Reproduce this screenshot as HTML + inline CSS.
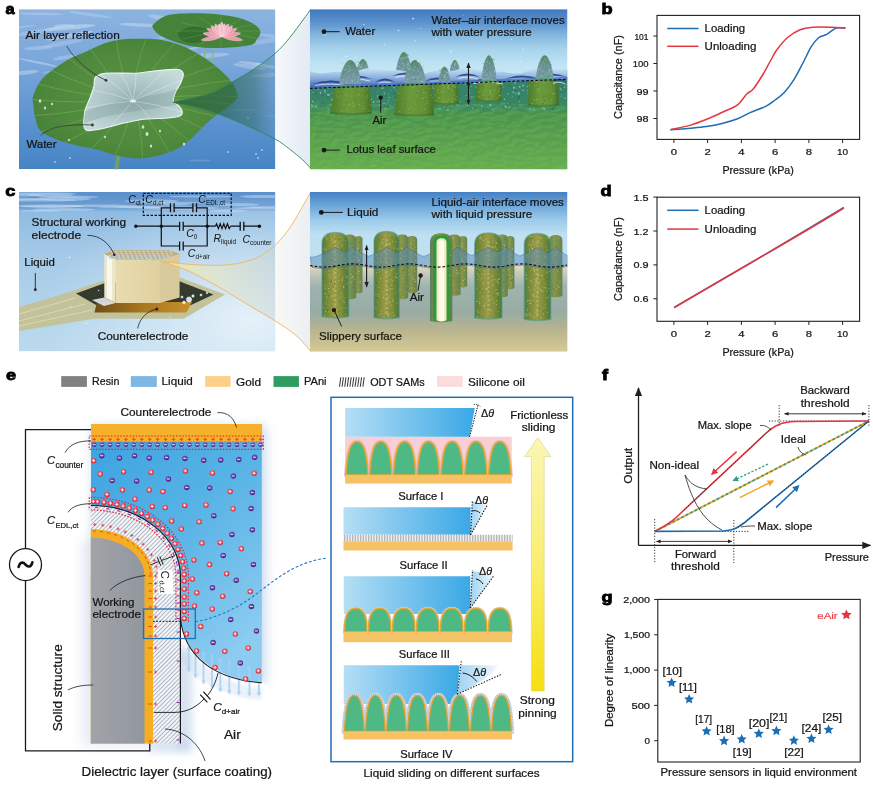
<!DOCTYPE html>
<html><head><meta charset="utf-8"><title>Figure</title>
<style>html,body{margin:0;padding:0;background:#fff;overflow:hidden}svg{display:block}</style>
</head><body>
<svg width="873" height="786" viewBox="0 0 873 786" font-family="Liberation Sans, sans-serif">
<defs>
<clipPath id="clipA"><rect x="19" y="9.2" width="256.4" height="160"/></clipPath>
<clipPath id="clipGapA"><rect x="275.4" y="5" width="34.7" height="170"/></clipPath>
<clipPath id="clipA2"><rect x="310" y="9.2" width="257.5" height="160"/></clipPath>
<clipPath id="clipC"><rect x="19" y="192" width="256.4" height="159.4"/></clipPath>
<clipPath id="clipGapC"><rect x="275.4" y="188" width="34.7" height="170"/></clipPath>
<clipPath id="clipC2"><rect x="310" y="192" width="257.5" height="159.4"/></clipPath>
<linearGradient id="waterA" x1="0" y1="0" x2="0" y2="1">
 <stop offset="0" stop-color="#8db3e0"/><stop offset="0.35" stop-color="#79a6da"/><stop offset="0.7" stop-color="#5b92cf"/><stop offset="1" stop-color="#4784c4"/>
</linearGradient>
<radialGradient id="padA" cx="0.5" cy="0.5" r="0.62">
 <stop offset="0" stop-color="#5a9545"/><stop offset="0.6" stop-color="#4f8a3d"/><stop offset="1" stop-color="#447e36"/>
</radialGradient>
<radialGradient id="airA" cx="0.5" cy="0.52" r="0.6">
 <stop offset="0" stop-color="#92aeae"/><stop offset="0.45" stop-color="#acc4c4"/><stop offset="1" stop-color="#c6dadb"/>
</radialGradient>
<linearGradient id="coneA" gradientUnits="userSpaceOnUse" x1="172" y1="0" x2="276" y2="0">
 <stop offset="0" stop-color="#1f5230" stop-opacity="0.6"/><stop offset="0.55" stop-color="#2a6450" stop-opacity="0.6"/><stop offset="0.8" stop-color="#3a7068" stop-opacity="0.5"/><stop offset="1" stop-color="#6a9ac4" stop-opacity="0.35"/>
</linearGradient>
<linearGradient id="coneGap" gradientUnits="userSpaceOnUse" x1="275" y1="0" x2="311" y2="0">
 <stop offset="0" stop-color="#f6f8fb"/><stop offset="1" stop-color="#e2eaf4"/>
</linearGradient>
<linearGradient id="coneGapC" gradientUnits="userSpaceOnUse" x1="275" y1="0" x2="311" y2="0">
 <stop offset="0" stop-color="#f8f8f6"/><stop offset="1" stop-color="#eceef2"/>
</linearGradient>
<filter id="noise" x="0" y="0" width="100%" height="100%">
 <feTurbulence type="fractalNoise" baseFrequency="0.9" numOctaves="2" seed="3"/>
 <feColorMatrix values="0 0 0 0 0  0 0 0 0 0  0 0 0 0 0  0 0 0 -1.6 0.95"/>
</filter>
<filter id="noiseL" x="0" y="0" width="100%" height="100%">
 <feTurbulence type="fractalNoise" baseFrequency="0.9" numOctaves="2" seed="5"/>
 <feColorMatrix values="0 0 0 0 1  0 0 0 0 1  0 0 0 0 1  0 0 0 -1.8 1.0"/>
</filter>
</defs>
<g clip-path="url(#clipA)">
<rect x="19" y="9.2" width="256.4" height="160" fill="url(#waterA)"/>
<ellipse cx="132.6" cy="46.4" rx="24.8" ry="1.7" transform="rotate(0 132.6 46.4)" fill="#c4daf2" opacity="0.43"/>
<ellipse cx="63.0" cy="43.3" rx="20.1" ry="2.3" transform="rotate(-10 63.0 43.3)" fill="#c4daf2" opacity="0.34"/>
<ellipse cx="38.6" cy="62.6" rx="21.1" ry="1.1" transform="rotate(12 38.6 62.6)" fill="#c4daf2" opacity="0.54"/>
<ellipse cx="185.0" cy="50.0" rx="12.5" ry="1.0" transform="rotate(1 185.0 50.0)" fill="#c4daf2" opacity="0.27"/>
<ellipse cx="64.5" cy="25.7" rx="10.5" ry="1.7" transform="rotate(-1 64.5 25.7)" fill="#c4daf2" opacity="0.50"/>
<ellipse cx="150.0" cy="51.6" rx="18.0" ry="2.1" transform="rotate(-1 150.0 51.6)" fill="#c4daf2" opacity="0.33"/>
<ellipse cx="274.4" cy="74.7" rx="23.4" ry="2.1" transform="rotate(-4 274.4 74.7)" fill="#c4daf2" opacity="0.32"/>
<ellipse cx="90.2" cy="14.6" rx="22.3" ry="1.6" transform="rotate(8 90.2 14.6)" fill="#c4daf2" opacity="0.37"/>
<ellipse cx="264.1" cy="65.1" rx="10.0" ry="1.3" transform="rotate(10 264.1 65.1)" fill="#c4daf2" opacity="0.39"/>
<ellipse cx="269.9" cy="35.8" rx="11.2" ry="2.0" transform="rotate(7 269.9 35.8)" fill="#c4daf2" opacity="0.33"/>
<ellipse cx="37.7" cy="31.6" rx="25.4" ry="2.2" transform="rotate(-9 37.7 31.6)" fill="#c4daf2" opacity="0.32"/>
<ellipse cx="41.3" cy="13.9" rx="22.8" ry="1.3" transform="rotate(1 41.3 13.9)" fill="#c4daf2" opacity="0.38"/>
<ellipse cx="64.6" cy="57.6" rx="12.1" ry="2.0" transform="rotate(-9 64.6 57.6)" fill="#c4daf2" opacity="0.38"/>
<ellipse cx="70.3" cy="27.5" rx="25.5" ry="2.3" transform="rotate(-5 70.3 27.5)" fill="#c4daf2" opacity="0.52"/>
<ellipse cx="69.8" cy="35.6" rx="23.7" ry="2.0" transform="rotate(-10 69.8 35.6)" fill="#c4daf2" opacity="0.55"/>
<ellipse cx="70.4" cy="26.8" rx="22.4" ry="1.5" transform="rotate(-5 70.4 26.8)" fill="#c4daf2" opacity="0.27"/>
<ellipse cx="38.4" cy="47.9" rx="13.9" ry="2.0" transform="rotate(-3 38.4 47.9)" fill="#c4daf2" opacity="0.39"/>
<ellipse cx="264.4" cy="41.4" rx="19.2" ry="2.4" transform="rotate(-8 264.4 41.4)" fill="#c4daf2" opacity="0.30"/>
<ellipse cx="251.2" cy="63.2" rx="14.0" ry="1.3" transform="rotate(6 251.2 63.2)" fill="#c4daf2" opacity="0.53"/>
<ellipse cx="66.1" cy="71.8" rx="24.1" ry="2.0" transform="rotate(-2 66.1 71.8)" fill="#c4daf2" opacity="0.28"/>
<ellipse cx="25.1" cy="72.6" rx="13.8" ry="2.1" transform="rotate(-6 25.1 72.6)" fill="#c4daf2" opacity="0.50"/>
<ellipse cx="170.1" cy="29.1" rx="12.8" ry="2.2" transform="rotate(-10 170.1 29.1)" fill="#c4daf2" opacity="0.32"/>
<ellipse cx="160.4" cy="65.4" rx="19.8" ry="1.4" transform="rotate(10 160.4 65.4)" fill="#c4daf2" opacity="0.31"/>
<ellipse cx="19.3" cy="27.5" rx="17.1" ry="1.1" transform="rotate(-8 19.3 27.5)" fill="#c4daf2" opacity="0.36"/>
<ellipse cx="163.8" cy="18.6" rx="15.8" ry="2.4" transform="rotate(12 163.8 18.6)" fill="#c4daf2" opacity="0.45"/>
<ellipse cx="194.7" cy="48.0" rx="12.2" ry="1.1" transform="rotate(-12 194.7 48.0)" fill="#c4daf2" opacity="0.52"/>
<ellipse cx="197.3" cy="72.6" rx="10.3" ry="2.0" transform="rotate(-0 197.3 72.6)" fill="#c4daf2" opacity="0.47"/>
<ellipse cx="97.9" cy="75.0" rx="11.2" ry="1.9" transform="rotate(6 97.9 75.0)" fill="#c4daf2" opacity="0.52"/>
<ellipse cx="206.6" cy="55.7" rx="22.7" ry="2.5" transform="rotate(-4 206.6 55.7)" fill="#c4daf2" opacity="0.46"/>
<ellipse cx="249.2" cy="66.6" rx="16.7" ry="2.3" transform="rotate(9 249.2 66.6)" fill="#c4daf2" opacity="0.42"/>
<ellipse cx="177.5" cy="34.9" rx="19.3" ry="2.0" transform="rotate(-10 177.5 34.9)" fill="#c4daf2" opacity="0.44"/>
<ellipse cx="273.3" cy="67.2" rx="21.7" ry="1.6" transform="rotate(6 273.3 67.2)" fill="#c4daf2" opacity="0.42"/>
<ellipse cx="129.5" cy="64.5" rx="11.3" ry="2.2" transform="rotate(-11 129.5 64.5)" fill="#c4daf2" opacity="0.43"/>
<ellipse cx="140.0" cy="25.0" rx="21.2" ry="1.8" transform="rotate(3 140.0 25.0)" fill="#c4daf2" opacity="0.53"/>
<ellipse cx="81.5" cy="76.0" rx="11.0" ry="1.5" fill="#9cc0e6" opacity="0.3"/>
<ellipse cx="67.7" cy="90.3" rx="17.1" ry="1.5" fill="#9cc0e6" opacity="0.3"/>
<ellipse cx="129.9" cy="155.3" rx="11.3" ry="1.5" fill="#9cc0e6" opacity="0.3"/>
<ellipse cx="66.6" cy="113.8" rx="16.1" ry="1.7" fill="#9cc0e6" opacity="0.3"/>
<ellipse cx="243.9" cy="109.6" rx="13.8" ry="1.1" fill="#9cc0e6" opacity="0.3"/>
<ellipse cx="50.4" cy="119.7" rx="16.4" ry="1.6" fill="#9cc0e6" opacity="0.3"/>
<ellipse cx="199.9" cy="160.5" rx="10.8" ry="1.0" fill="#9cc0e6" opacity="0.3"/>
<ellipse cx="132.2" cy="99.8" rx="10.1" ry="1.2" fill="#9cc0e6" opacity="0.3"/>
<ellipse cx="177.7" cy="119.4" rx="11.2" ry="1.6" fill="#9cc0e6" opacity="0.3"/>
<ellipse cx="270.3" cy="115.7" rx="8.7" ry="0.8" fill="#9cc0e6" opacity="0.3"/>
<path d="M117,152 C116,160 115,165 114,170 L118,170 C119,165 120,160 121,152z" fill="#6f9f68"/>
<path d="M205.5,44 C205,52 204.5,58 204,64 M215.5,40 C214,48 212.5,56 211.5,64" stroke="#86b886" stroke-width="1.5" fill="none"/>
<path d="M152.5,27.0 C151.9,25.3 152.6,25.3 154.3,23.6 C156.1,21.9 159.4,18.6 163.0,17.0 C166.6,15.4 168.4,14.5 175.8,13.9 C183.2,13.3 197.3,13.1 207.3,13.6 C217.3,14.1 228.6,15.6 236.0,17.2 C243.4,18.8 247.9,20.7 252.0,23.0 C256.1,25.3 259.5,28.1 260.3,30.8 C261.1,33.5 258.7,36.6 257.0,39.0 C255.3,41.4 256.2,43.6 250.3,45.1 C244.4,46.6 231.2,47.8 221.6,48.0 C212.0,48.2 201.6,47.8 193.0,46.5 C184.4,45.2 175.8,42.1 170.0,40.0 C164.2,37.9 160.9,36.2 158.0,34.0 C155.1,31.8 153.1,28.7 152.5,27.0Z" fill="#45833a"/>
<path d="M178,33 C188,24 205,25 215,31 C210,42 195,45 185,42 C180,40 178,37 178,33z" fill="#2c6226" opacity="0.6"/>
<line x1="221" y1="31" x2="266.0" y2="31.0" stroke="#8cc070" stroke-width="0.5" opacity="0.5"/>
<line x1="221" y1="31" x2="260.0" y2="39.0" stroke="#8cc070" stroke-width="0.5" opacity="0.5"/>
<line x1="221" y1="31" x2="243.5" y2="44.9" stroke="#8cc070" stroke-width="0.5" opacity="0.5"/>
<line x1="221" y1="31" x2="221.0" y2="47.0" stroke="#8cc070" stroke-width="0.5" opacity="0.5"/>
<line x1="221" y1="31" x2="198.5" y2="44.9" stroke="#8cc070" stroke-width="0.5" opacity="0.5"/>
<line x1="221" y1="31" x2="182.0" y2="39.0" stroke="#8cc070" stroke-width="0.5" opacity="0.5"/>
<line x1="221" y1="31" x2="176.0" y2="31.0" stroke="#8cc070" stroke-width="0.5" opacity="0.5"/>
<line x1="221" y1="31" x2="182.0" y2="23.0" stroke="#8cc070" stroke-width="0.5" opacity="0.5"/>
<line x1="221" y1="31" x2="198.5" y2="17.1" stroke="#8cc070" stroke-width="0.5" opacity="0.5"/>
<line x1="221" y1="31" x2="221.0" y2="15.0" stroke="#8cc070" stroke-width="0.5" opacity="0.5"/>
<line x1="221" y1="31" x2="243.5" y2="17.1" stroke="#8cc070" stroke-width="0.5" opacity="0.5"/>
<line x1="221" y1="31" x2="260.0" y2="23.0" stroke="#8cc070" stroke-width="0.5" opacity="0.5"/>
<path d="M221.8,36.5 C214.0,34.6 203.9,37.7 201.1,40.1 C204.6,41.5 215.1,40.9 221.8,36.5z" fill="#ee9aac" stroke="#f9d2da" stroke-width="0.5"/>
<path d="M221.8,36.5 C228.5,40.9 239.0,41.5 242.5,40.1 C239.7,37.7 229.6,34.6 221.8,36.5z" fill="#ee9aac" stroke="#f9d2da" stroke-width="0.5"/>
<path d="M221.8,36.5 C215.8,32.0 206.2,31.7 203.1,33.2 C205.5,35.7 214.7,38.7 221.8,36.5z" fill="#ee9aac" stroke="#f9d2da" stroke-width="0.5"/>
<path d="M221.8,36.5 C228.9,38.7 238.1,35.7 240.5,33.2 C237.4,31.7 227.8,32.0 221.8,36.5z" fill="#ee9aac" stroke="#f9d2da" stroke-width="0.5"/>
<path d="M221.8,36.5 C218.2,30.5 210.1,27.8 206.8,28.5 C208.0,31.6 214.9,36.9 221.8,36.5z" fill="#ee9aac" stroke="#f9d2da" stroke-width="0.5"/>
<path d="M221.8,36.5 C228.7,36.9 235.6,31.6 236.8,28.5 C233.5,27.8 225.4,30.5 221.8,36.5z" fill="#ee9aac" stroke="#f9d2da" stroke-width="0.5"/>
<path d="M221.8,36.5 C220.8,30.1 214.4,25.9 211.2,25.9 C211.2,29.1 215.4,35.5 221.8,36.5z" fill="#f4aebe" stroke="#fbdce2" stroke-width="0.5"/>
<path d="M221.8,36.5 C228.2,35.5 232.4,29.1 232.4,25.9 C229.2,25.9 222.8,30.1 221.8,36.5z" fill="#f4aebe" stroke="#fbdce2" stroke-width="0.5"/>
<path d="M221.8,36.5 C222.7,30.5 218.1,25.0 215.2,24.1 C214.3,27.0 216.3,33.9 221.8,36.5z" fill="#f4aebe" stroke="#fbdce2" stroke-width="0.5"/>
<path d="M221.8,36.5 C227.3,33.9 229.3,27.0 228.4,24.1 C225.5,25.0 220.9,30.5 221.8,36.5z" fill="#f4aebe" stroke="#fbdce2" stroke-width="0.5"/>
<ellipse cx="221.8" cy="29.5" rx="4.2" ry="2.2" fill="#a8d088"/>
<path d="M221.8,36.5 C224.0,31.4 221.4,25.3 219.1,23.8 C217.6,26.1 217.7,32.7 221.8,36.5z" fill="#f6bccb" stroke="#fde4ea" stroke-width="0.5"/>
<path d="M221.8,36.5 C225.9,32.7 226.0,26.1 224.5,23.8 C222.2,25.3 219.6,31.4 221.8,36.5z" fill="#f6bccb" stroke="#fde4ea" stroke-width="0.5"/>
<path d="M221.8,36.5 C224.8,31.4 223.6,24.2 221.8,22.0 C220.0,24.2 218.8,31.4 221.8,36.5z" fill="#f6bccb" stroke="#fde4ea" stroke-width="0.5"/>
<path d="M33.2,96.1 C34.8,91.4 37.4,84.0 43.0,78.0 C48.6,72.0 59.9,64.7 67.1,60.3 C74.3,55.9 80.2,54.3 86.4,51.5 C92.6,48.7 98.1,45.5 104.0,43.5 C109.9,41.5 115.4,40.3 121.6,39.5 C127.8,38.7 134.7,38.7 140.9,38.7 C147.1,38.7 152.5,38.5 159.0,39.5 C165.5,40.5 173.2,42.4 180.0,45.0 C186.8,47.6 193.7,51.2 200.0,55.0 C206.3,58.8 212.7,63.4 218.0,68.0 C223.3,72.6 228.8,77.7 232.0,82.4 C235.2,87.1 237.5,92.4 237.5,96.0 C237.5,99.6 235.7,100.7 232.0,104.0 C228.3,107.3 220.1,112.4 215.4,116.0 C210.8,119.6 208.4,121.7 204.1,125.7 C199.8,129.7 195.0,135.7 189.7,140.0 C184.3,144.3 179.9,148.2 172.0,151.3 C164.1,154.4 151.7,157.6 142.5,158.3 C133.3,159.0 124.6,157.0 117.0,155.5 C109.4,154.0 103.6,151.2 97.0,149.5 C90.4,147.8 84.5,147.3 77.3,145.5 C70.1,143.7 60.2,141.1 54.0,138.5 C47.8,135.9 42.9,133.4 39.8,130.0 C36.7,126.6 36.2,122.0 35.2,118.0 C34.2,114.0 33.8,109.7 33.5,106.0 C33.2,102.3 31.6,100.8 33.2,96.1Z" fill="url(#padA)"/>
<clipPath id="padClip"><path d="M33.2,96.1 C34.8,91.4 37.4,84.0 43.0,78.0 C48.6,72.0 59.9,64.7 67.1,60.3 C74.3,55.9 80.2,54.3 86.4,51.5 C92.6,48.7 98.1,45.5 104.0,43.5 C109.9,41.5 115.4,40.3 121.6,39.5 C127.8,38.7 134.7,38.7 140.9,38.7 C147.1,38.7 152.5,38.5 159.0,39.5 C165.5,40.5 173.2,42.4 180.0,45.0 C186.8,47.6 193.7,51.2 200.0,55.0 C206.3,58.8 212.7,63.4 218.0,68.0 C223.3,72.6 228.8,77.7 232.0,82.4 C235.2,87.1 237.5,92.4 237.5,96.0 C237.5,99.6 235.7,100.7 232.0,104.0 C228.3,107.3 220.1,112.4 215.4,116.0 C210.8,119.6 208.4,121.7 204.1,125.7 C199.8,129.7 195.0,135.7 189.7,140.0 C184.3,144.3 179.9,148.2 172.0,151.3 C164.1,154.4 151.7,157.6 142.5,158.3 C133.3,159.0 124.6,157.0 117.0,155.5 C109.4,154.0 103.6,151.2 97.0,149.5 C90.4,147.8 84.5,147.3 77.3,145.5 C70.1,143.7 60.2,141.1 54.0,138.5 C47.8,135.9 42.9,133.4 39.8,130.0 C36.7,126.6 36.2,122.0 35.2,118.0 C34.2,114.0 33.8,109.7 33.5,106.0 C33.2,102.3 31.6,100.8 33.2,96.1Z"/></clipPath>
<g clip-path="url(#padClip)">
<path d="M133,100 Q187.2,97.7 240.6,105.4" stroke="#a8c870" stroke-width="0.7" fill="none" opacity="0.45"/>
<path d="M133,100 Q185.2,106.4 233.8,122.2" stroke="#a8c870" stroke-width="0.7" fill="none" opacity="0.45"/>
<path d="M133,100 Q179.1,114.7 219.3,137.3" stroke="#a8c870" stroke-width="0.7" fill="none" opacity="0.45"/>
<path d="M133,100 Q169.5,121.7 198.0,149.5" stroke="#a8c870" stroke-width="0.7" fill="none" opacity="0.45"/>
<path d="M133,100 Q157.0,127.1 171.7,157.9" stroke="#a8c870" stroke-width="0.7" fill="none" opacity="0.45"/>
<path d="M133,100 Q142.7,130.4 142.4,161.8" stroke="#a8c870" stroke-width="0.7" fill="none" opacity="0.45"/>
<path d="M133,100 Q127.6,131.4 112.4,160.9" stroke="#a8c870" stroke-width="0.7" fill="none" opacity="0.45"/>
<path d="M133,100 Q112.9,129.9 84.0,155.2" stroke="#a8c870" stroke-width="0.7" fill="none" opacity="0.45"/>
<path d="M133,100 Q99.8,126.1 59.3,145.3" stroke="#a8c870" stroke-width="0.7" fill="none" opacity="0.45"/>
<path d="M133,100 Q89.3,120.3 40.4,131.9" stroke="#a8c870" stroke-width="0.7" fill="none" opacity="0.45"/>
<path d="M133,100 Q82.1,112.9 28.7,116.0" stroke="#a8c870" stroke-width="0.7" fill="none" opacity="0.45"/>
<path d="M133,100 Q78.9,104.5 25.0,98.9" stroke="#a8c870" stroke-width="0.7" fill="none" opacity="0.45"/>
<path d="M133,100 Q79.9,95.7 29.7,81.9" stroke="#a8c870" stroke-width="0.7" fill="none" opacity="0.45"/>
<path d="M133,100 Q85.0,87.3 42.4,66.2" stroke="#a8c870" stroke-width="0.7" fill="none" opacity="0.45"/>
<path d="M133,100 Q93.8,79.9 62.1,53.2" stroke="#a8c870" stroke-width="0.7" fill="none" opacity="0.45"/>
<path d="M133,100 Q105.6,74.0 87.4,43.8" stroke="#a8c870" stroke-width="0.7" fill="none" opacity="0.45"/>
<path d="M133,100 Q119.6,70.2 116.1,38.8" stroke="#a8c870" stroke-width="0.7" fill="none" opacity="0.45"/>
<path d="M133,100 Q134.6,68.6 146.2,38.5" stroke="#a8c870" stroke-width="0.7" fill="none" opacity="0.45"/>
<path d="M133,100 Q149.5,69.5 175.2,42.9" stroke="#a8c870" stroke-width="0.7" fill="none" opacity="0.45"/>
<path d="M133,100 Q163.1,72.8 201.0,51.8" stroke="#a8c870" stroke-width="0.7" fill="none" opacity="0.45"/>
<path d="M133,100 Q174.4,78.1 221.5,64.4" stroke="#a8c870" stroke-width="0.7" fill="none" opacity="0.45"/>
<path d="M133,100 Q182.4,85.2 235.1,79.8" stroke="#a8c870" stroke-width="0.7" fill="none" opacity="0.45"/>
<path d="M133,100 Q186.7,93.4 240.9,96.8" stroke="#a8c870" stroke-width="0.7" fill="none" opacity="0.45"/>
</g>
<path d="M95.1,77.6 C96.4,76.0 100.3,73.7 105.2,73.2 C110.1,72.7 130.8,73.5 136.7,73.2 C142.6,72.9 150.7,71.1 155.6,70.7 C160.5,70.3 175.1,69.1 178.3,69.5 C181.5,69.9 183.0,72.4 183.3,73.9 C183.6,75.4 181.7,80.6 180.8,82.7 C179.9,84.8 176.6,89.3 175.7,91.5 C174.8,93.7 172.9,100.0 173.2,101.6 C173.5,103.2 177.3,104.4 178.3,105.4 C179.3,106.4 181.7,109.2 182.0,110.4 C182.3,111.6 182.4,114.6 180.8,115.5 C179.2,116.4 172.6,117.6 168.2,118.0 C163.8,118.4 148.1,118.6 143.0,119.2 C137.9,119.8 128.5,122.0 124.1,123.0 C119.7,124.0 109.5,127.1 105.2,128.0 C100.9,128.9 90.1,130.9 87.6,130.6 C85.1,130.3 84.1,127.9 83.8,125.5 C83.5,123.1 84.3,113.6 85.0,110.4 C85.7,107.2 89.1,100.6 90.1,97.8 C91.1,95.0 93.3,88.9 93.9,86.5 C94.5,84.1 93.8,79.2 95.1,77.6Z" fill="url(#airA)" stroke="#eef6f4" stroke-width="1.1"/>
<clipPath id="airClip"><path d="M95.1,77.6 C96.4,76.0 100.3,73.7 105.2,73.2 C110.1,72.7 130.8,73.5 136.7,73.2 C142.6,72.9 150.7,71.1 155.6,70.7 C160.5,70.3 175.1,69.1 178.3,69.5 C181.5,69.9 183.0,72.4 183.3,73.9 C183.6,75.4 181.7,80.6 180.8,82.7 C179.9,84.8 176.6,89.3 175.7,91.5 C174.8,93.7 172.9,100.0 173.2,101.6 C173.5,103.2 177.3,104.4 178.3,105.4 C179.3,106.4 181.7,109.2 182.0,110.4 C182.3,111.6 182.4,114.6 180.8,115.5 C179.2,116.4 172.6,117.6 168.2,118.0 C163.8,118.4 148.1,118.6 143.0,119.2 C137.9,119.8 128.5,122.0 124.1,123.0 C119.7,124.0 109.5,127.1 105.2,128.0 C100.9,128.9 90.1,130.9 87.6,130.6 C85.1,130.3 84.1,127.9 83.8,125.5 C83.5,123.1 84.3,113.6 85.0,110.4 C85.7,107.2 89.1,100.6 90.1,97.8 C91.1,95.0 93.3,88.9 93.9,86.5 C94.5,84.1 93.8,79.2 95.1,77.6Z"/></clipPath>
<g clip-path="url(#airClip)">
<path d="M84,112 C110,100 150,98 182,88 L182,104 C150,110 110,112 84,124z" fill="#7d9a9a" opacity="0.35"/>
<path d="M133,101 Q118.5,85.5 100,74" stroke="#eef6f4" stroke-width="0.7" fill="none" opacity="0.55"/>
<path d="M133,101 Q136.5,84.5 136,72" stroke="#eef6f4" stroke-width="0.7" fill="none" opacity="0.55"/>
<path d="M133,101 Q151.0,83.5 165,70" stroke="#eef6f4" stroke-width="0.7" fill="none" opacity="0.55"/>
<path d="M133,101 Q159.5,88.5 182,80" stroke="#eef6f4" stroke-width="0.7" fill="none" opacity="0.55"/>
<path d="M133,101 Q159.5,104.5 182,112" stroke="#eef6f4" stroke-width="0.7" fill="none" opacity="0.55"/>
<path d="M133,101 Q143.5,108.0 150,119" stroke="#eef6f4" stroke-width="0.7" fill="none" opacity="0.55"/>
<path d="M133,101 Q123.5,112.0 110,127" stroke="#eef6f4" stroke-width="0.7" fill="none" opacity="0.55"/>
<path d="M133,101 Q111.5,102.5 86,108" stroke="#eef6f4" stroke-width="0.7" fill="none" opacity="0.55"/>
<path d="M133,101 Q114.5,93.5 92,90" stroke="#eef6f4" stroke-width="0.7" fill="none" opacity="0.55"/>
<path d="M133,101 Q128.5,84.5 120,72" stroke="#eef6f4" stroke-width="0.7" fill="none" opacity="0.55"/>
<ellipse cx="133" cy="101" rx="3" ry="1.6" fill="#eef6f4" opacity="0.8"/>
</g>
<ellipse cx="40" cy="101" rx="1.3" ry="1.7" fill="#e4f0f0" opacity="0.85"/>
<ellipse cx="45" cy="108" rx="1.1" ry="1.4" fill="#e4f0f0" opacity="0.85"/>
<ellipse cx="52" cy="104" rx="1.0" ry="1.3" fill="#e4f0f0" opacity="0.85"/>
<ellipse cx="143" cy="127" rx="1.3" ry="1.7" fill="#e4f0f0" opacity="0.85"/>
<ellipse cx="147" cy="134" rx="1.5" ry="2.0" fill="#e4f0f0" opacity="0.85"/>
<ellipse cx="160" cy="131" rx="1.0" ry="1.3" fill="#e4f0f0" opacity="0.85"/>
<ellipse cx="105" cy="137" rx="1.0" ry="1.3" fill="#e4f0f0" opacity="0.85"/>
<ellipse cx="151" cy="146" rx="1.2" ry="1.6" fill="#e4f0f0" opacity="0.85"/>
<ellipse cx="184" cy="144" rx="1.2" ry="1.6" fill="#e4f0f0" opacity="0.85"/>
<ellipse cx="69" cy="140" rx="0.9" ry="1.2" fill="#e4f0f0" opacity="0.85"/>
<circle cx="228" cy="152" r="0.9" fill="#dfeaf6" opacity="0.7"/>
<circle cx="256" cy="154" r="0.9" fill="#dfeaf6" opacity="0.7"/>
<circle cx="262" cy="150" r="0.9" fill="#dfeaf6" opacity="0.7"/>
<circle cx="258" cy="158" r="0.9" fill="#dfeaf6" opacity="0.7"/>
<circle cx="70" cy="158" r="0.9" fill="#dfeaf6" opacity="0.7"/>
<circle cx="55" cy="162" r="0.9" fill="#dfeaf6" opacity="0.7"/>
<circle cx="248" cy="118" r="0.9" fill="#dfeaf6" opacity="0.7"/>
</g>
<path d="M172.8,102.4 C178.9,100.9 199.7,96.8 209.5,93.5 C219.3,90.2 224.4,86.4 231.8,82.3 C239.2,78.2 246.8,73.8 254.0,69.0 C261.2,64.2 269.3,58.6 275.2,53.4 C281.1,48.2 285.0,43.4 289.6,37.8 C294.2,32.2 299.5,24.8 303.0,20.0 C306.5,15.2 309.5,11.1 310.8,9.3 L310.8,168.5 C309.5,167.1 306.5,163.4 303.0,160.2 C299.5,157.0 294.2,152.6 289.6,149.1 C285.0,145.6 281.9,142.8 275.2,139.1 C268.5,135.4 258.3,130.8 249.6,126.9 C240.9,123.0 231.4,118.9 222.9,115.7 C214.4,112.5 206.8,110.1 198.4,107.9 C190.1,105.7 177.1,103.3 172.8,102.4Z" fill="url(#coneA)" clip-path="url(#clipA)"/>
<path d="M172.8,102.4 C178.9,100.9 199.7,96.8 209.5,93.5 C219.3,90.2 224.4,86.4 231.8,82.3 C239.2,78.2 246.8,73.8 254.0,69.0 C261.2,64.2 269.3,58.6 275.2,53.4 C281.1,48.2 285.0,43.4 289.6,37.8 C294.2,32.2 299.5,24.8 303.0,20.0 C306.5,15.2 309.5,11.1 310.8,9.3 L310.8,168.5 C309.5,167.1 306.5,163.4 303.0,160.2 C299.5,157.0 294.2,152.6 289.6,149.1 C285.0,145.6 281.9,142.8 275.2,139.1 C268.5,135.4 258.3,130.8 249.6,126.9 C240.9,123.0 231.4,118.9 222.9,115.7 C214.4,112.5 206.8,110.1 198.4,107.9 C190.1,105.7 177.1,103.3 172.8,102.4Z" fill="url(#coneGap)" clip-path="url(#clipGapA)"/>
<path d="M172.8,102.4 C178.9,100.9 199.7,96.8 209.5,93.5 C219.3,90.2 224.4,86.4 231.8,82.3 C239.2,78.2 246.8,73.8 254.0,69.0 C261.2,64.2 269.3,58.6 275.2,53.4 C281.1,48.2 285.0,43.4 289.6,37.8 C294.2,32.2 299.5,24.8 303.0,20.0 C306.5,15.2 309.5,11.1 310.8,9.3" fill="none" stroke="#2a8a5a" stroke-width="0.9"/>
<path d="M172.8,102.4 C177.1,103.3 190.1,105.7 198.4,107.9 C206.8,110.1 214.4,112.5 222.9,115.7 C231.4,118.9 240.9,123.0 249.6,126.9 C258.3,130.8 268.5,135.4 275.2,139.1 C281.9,142.8 285.0,145.6 289.6,149.1 C294.2,152.6 299.5,157.0 303.0,160.2 C306.5,163.4 309.5,167.1 310.8,168.5" fill="none" stroke="#2a8a5a" stroke-width="0.9"/>
<text x="25.5" y="38.8" font-size="10.6" fill="#161414" stroke="#161414" stroke-width="0.22" textLength="94.2" lengthAdjust="spacingAndGlyphs" >Air layer reflection</text>
<text x="26.4" y="148.2" font-size="10.6" fill="#161414" stroke="#161414" stroke-width="0.22" textLength="30.2" lengthAdjust="spacingAndGlyphs" >Water</text>
<path d="M66.6,46 C75,60 90,73 106,80.3" fill="none" stroke="#333" stroke-width="0.8"/>
<circle cx="106" cy="80.3" r="1.4" fill="#333"/>
<path d="M40.8,135.5 C50,126 70,124 92.4,125" fill="none" stroke="#333" stroke-width="0.8"/>
<circle cx="92.4" cy="125" r="1.4" fill="#333"/>
<defs>
<linearGradient id="skyA2" x1="0" y1="0" x2="0" y2="1">
 <stop offset="0" stop-color="#3f78c0"/><stop offset="0.08" stop-color="#5a90cc"/><stop offset="0.16" stop-color="#82b6de"/><stop offset="0.25" stop-color="#a8d3ec"/><stop offset="0.36" stop-color="#c2e5f4"/><stop offset="1" stop-color="#c8e8f6"/>
</linearGradient>
<linearGradient id="groundA2" x1="0" y1="0" x2="0" y2="1">
 <stop offset="0" stop-color="#34806c"/><stop offset="0.3" stop-color="#3a8664"/><stop offset="0.4" stop-color="#4c924e"/><stop offset="1" stop-color="#68ac50"/>
</linearGradient>
<linearGradient id="papA" x1="0" y1="0" x2="1" y2="0">
 <stop offset="0" stop-color="#4c7c2c"/><stop offset="0.4" stop-color="#6c9a3a"/><stop offset="0.8" stop-color="#628e36"/><stop offset="1" stop-color="#446e26"/>
</linearGradient>
<linearGradient id="tipA" x1="0" y1="0" x2="0" y2="1">
 <stop offset="0" stop-color="#4f8a5e"/><stop offset="0.35" stop-color="#66928e"/><stop offset="1" stop-color="#7c9eac"/>
</linearGradient>
<linearGradient id="waveA" x1="0" y1="0" x2="0" y2="1">
 <stop offset="0" stop-color="#cce4f6"/><stop offset="0.45" stop-color="#90b4e0"/><stop offset="1" stop-color="#3c64ac"/>
</linearGradient>
</defs>
<g clip-path="url(#clipA2)">
<rect x="310" y="9.2" width="257.5" height="160" fill="url(#skyA2)"/>
<rect x="310" y="78" width="257.5" height="92" fill="url(#groundA2)"/>
<circle cx="352.4" cy="101.6" r="0.8" fill="#3f7a58" opacity="0.7"/>
<circle cx="526.7" cy="109.7" r="0.7" fill="#6ab4a8" opacity="0.7"/>
<circle cx="357.2" cy="97.2" r="0.9" fill="#88c8bc" opacity="0.7"/>
<circle cx="405.4" cy="98.8" r="0.4" fill="#2c6a56" opacity="0.7"/>
<circle cx="546.8" cy="101.7" r="0.7" fill="#a8e0d8" opacity="0.7"/>
<circle cx="508.1" cy="94.0" r="0.7" fill="#9ad6c8" opacity="0.7"/>
<circle cx="448.8" cy="101.7" r="0.8" fill="#9ad6c8" opacity="0.7"/>
<circle cx="316.0" cy="103.0" r="0.5" fill="#88c8bc" opacity="0.7"/>
<circle cx="426.5" cy="97.9" r="0.6" fill="#3f7a58" opacity="0.7"/>
<circle cx="348.8" cy="101.0" r="0.7" fill="#2c6a56" opacity="0.7"/>
<circle cx="329.2" cy="88.3" r="0.8" fill="#a8e0d8" opacity="0.7"/>
<circle cx="504.0" cy="103.6" r="0.7" fill="#a8e0d8" opacity="0.7"/>
<circle cx="328.2" cy="98.1" r="0.7" fill="#3f7a58" opacity="0.7"/>
<circle cx="361.7" cy="107.9" r="0.9" fill="#3f7a58" opacity="0.7"/>
<circle cx="385.0" cy="108.8" r="0.7" fill="#9ad6c8" opacity="0.7"/>
<circle cx="565.7" cy="93.4" r="0.4" fill="#88c8bc" opacity="0.7"/>
<circle cx="350.8" cy="102.3" r="1.0" fill="#88c8bc" opacity="0.7"/>
<circle cx="436.3" cy="97.9" r="0.8" fill="#2c6a56" opacity="0.7"/>
<circle cx="456.9" cy="91.6" r="1.0" fill="#88c8bc" opacity="0.7"/>
<circle cx="356.4" cy="87.6" r="0.6" fill="#9ad6c8" opacity="0.7"/>
<circle cx="399.1" cy="99.1" r="0.6" fill="#88c8bc" opacity="0.7"/>
<circle cx="353.4" cy="107.9" r="0.5" fill="#3f7a58" opacity="0.7"/>
<circle cx="406.3" cy="101.5" r="0.8" fill="#a8e0d8" opacity="0.7"/>
<circle cx="556.3" cy="94.0" r="1.0" fill="#a8e0d8" opacity="0.7"/>
<circle cx="461.8" cy="106.8" r="0.7" fill="#3f7a58" opacity="0.7"/>
<circle cx="481.4" cy="108.3" r="0.5" fill="#6ab4a8" opacity="0.7"/>
<circle cx="327.8" cy="104.7" r="0.9" fill="#3f7a58" opacity="0.7"/>
<circle cx="324.8" cy="90.8" r="0.9" fill="#a8e0d8" opacity="0.7"/>
<circle cx="384.5" cy="94.3" r="0.5" fill="#88c8bc" opacity="0.7"/>
<circle cx="533.7" cy="100.4" r="0.5" fill="#2c6a56" opacity="0.7"/>
<circle cx="501.7" cy="95.9" r="0.6" fill="#a8e0d8" opacity="0.7"/>
<circle cx="445.1" cy="102.7" r="0.4" fill="#2c6a56" opacity="0.7"/>
<circle cx="541.2" cy="92.9" r="0.5" fill="#9ad6c8" opacity="0.7"/>
<circle cx="464.5" cy="94.5" r="0.7" fill="#3f7a58" opacity="0.7"/>
<circle cx="389.2" cy="97.4" r="0.6" fill="#a8e0d8" opacity="0.7"/>
<circle cx="312.6" cy="101.5" r="1.0" fill="#88c8bc" opacity="0.7"/>
<circle cx="378.0" cy="91.8" r="0.5" fill="#6ab4a8" opacity="0.7"/>
<circle cx="418.2" cy="101.4" r="0.9" fill="#2c6a56" opacity="0.7"/>
<circle cx="344.3" cy="85.6" r="0.5" fill="#88c8bc" opacity="0.7"/>
<circle cx="474.9" cy="104.2" r="0.4" fill="#88c8bc" opacity="0.7"/>
<circle cx="478.4" cy="86.4" r="0.7" fill="#9ad6c8" opacity="0.7"/>
<circle cx="411.8" cy="107.0" r="0.8" fill="#2c6a56" opacity="0.7"/>
<circle cx="357.3" cy="93.2" r="0.8" fill="#6ab4a8" opacity="0.7"/>
<circle cx="504.6" cy="99.3" r="0.7" fill="#a8e0d8" opacity="0.7"/>
<circle cx="509.0" cy="104.3" r="0.4" fill="#3f7a58" opacity="0.7"/>
<circle cx="532.2" cy="93.7" r="0.7" fill="#a8e0d8" opacity="0.7"/>
<circle cx="370.0" cy="109.0" r="0.8" fill="#a8e0d8" opacity="0.7"/>
<circle cx="320.8" cy="93.5" r="0.6" fill="#9ad6c8" opacity="0.7"/>
<circle cx="520.1" cy="104.7" r="0.7" fill="#6ab4a8" opacity="0.7"/>
<circle cx="335.3" cy="99.2" r="0.7" fill="#a8e0d8" opacity="0.7"/>
<circle cx="393.2" cy="97.0" r="0.6" fill="#6ab4a8" opacity="0.7"/>
<circle cx="445.1" cy="98.1" r="0.4" fill="#9ad6c8" opacity="0.7"/>
<circle cx="561.0" cy="92.6" r="0.6" fill="#3f7a58" opacity="0.7"/>
<circle cx="337.7" cy="85.1" r="0.4" fill="#3f7a58" opacity="0.7"/>
<circle cx="439.8" cy="108.6" r="0.8" fill="#a8e0d8" opacity="0.7"/>
<circle cx="423.8" cy="97.0" r="0.6" fill="#3f7a58" opacity="0.7"/>
<circle cx="328.1" cy="83.7" r="0.8" fill="#88c8bc" opacity="0.7"/>
<circle cx="373.5" cy="102.0" r="0.9" fill="#a8e0d8" opacity="0.7"/>
<circle cx="419.8" cy="104.5" r="0.6" fill="#9ad6c8" opacity="0.7"/>
<circle cx="435.1" cy="100.1" r="1.0" fill="#88c8bc" opacity="0.7"/>
<circle cx="319.6" cy="87.7" r="0.6" fill="#6ab4a8" opacity="0.7"/>
<circle cx="538.9" cy="104.0" r="0.8" fill="#6ab4a8" opacity="0.7"/>
<circle cx="481.7" cy="106.2" r="0.8" fill="#a8e0d8" opacity="0.7"/>
<circle cx="377.4" cy="96.0" r="0.7" fill="#9ad6c8" opacity="0.7"/>
<circle cx="468.0" cy="105.3" r="1.0" fill="#88c8bc" opacity="0.7"/>
<circle cx="351.6" cy="88.5" r="0.9" fill="#a8e0d8" opacity="0.7"/>
<circle cx="347.4" cy="97.9" r="0.4" fill="#9ad6c8" opacity="0.7"/>
<circle cx="469.3" cy="93.1" r="0.8" fill="#88c8bc" opacity="0.7"/>
<circle cx="564.6" cy="87.5" r="0.7" fill="#a8e0d8" opacity="0.7"/>
<circle cx="396.2" cy="100.3" r="0.8" fill="#9ad6c8" opacity="0.7"/>
<circle cx="331.1" cy="83.8" r="0.7" fill="#2c6a56" opacity="0.7"/>
<circle cx="541.2" cy="96.7" r="0.5" fill="#a8e0d8" opacity="0.7"/>
<circle cx="381.3" cy="93.2" r="1.0" fill="#3f7a58" opacity="0.7"/>
<circle cx="413.2" cy="95.4" r="0.8" fill="#a8e0d8" opacity="0.7"/>
<circle cx="354.8" cy="93.4" r="0.6" fill="#2c6a56" opacity="0.7"/>
<circle cx="560.6" cy="88.8" r="0.6" fill="#a8e0d8" opacity="0.7"/>
<circle cx="550.2" cy="102.0" r="0.4" fill="#6ab4a8" opacity="0.7"/>
<circle cx="459.1" cy="93.8" r="0.7" fill="#3f7a58" opacity="0.7"/>
<circle cx="371.7" cy="83.2" r="0.7" fill="#88c8bc" opacity="0.7"/>
<circle cx="560.0" cy="88.1" r="0.6" fill="#88c8bc" opacity="0.7"/>
<circle cx="405.1" cy="86.6" r="0.9" fill="#3f7a58" opacity="0.7"/>
<circle cx="446.1" cy="84.3" r="0.5" fill="#3f7a58" opacity="0.7"/>
<circle cx="536.8" cy="89.6" r="0.7" fill="#6ab4a8" opacity="0.7"/>
<circle cx="547.8" cy="106.9" r="0.4" fill="#6ab4a8" opacity="0.7"/>
<circle cx="328.8" cy="94.8" r="0.9" fill="#a8e0d8" opacity="0.7"/>
<circle cx="358.4" cy="84.6" r="0.9" fill="#6ab4a8" opacity="0.7"/>
<circle cx="447.6" cy="96.3" r="0.8" fill="#a8e0d8" opacity="0.7"/>
<circle cx="396.9" cy="90.3" r="0.6" fill="#9ad6c8" opacity="0.7"/>
<circle cx="474.5" cy="83.2" r="0.9" fill="#a8e0d8" opacity="0.7"/>
<circle cx="327.4" cy="96.8" r="0.8" fill="#2c6a56" opacity="0.7"/>
<circle cx="402.6" cy="92.5" r="0.5" fill="#6ab4a8" opacity="0.7"/>
<circle cx="437.2" cy="101.4" r="0.8" fill="#2c6a56" opacity="0.7"/>
<circle cx="318.3" cy="89.3" r="0.6" fill="#9ad6c8" opacity="0.7"/>
<circle cx="415.0" cy="101.7" r="0.8" fill="#6ab4a8" opacity="0.7"/>
<circle cx="418.8" cy="91.8" r="0.5" fill="#6ab4a8" opacity="0.7"/>
<circle cx="320.4" cy="92.5" r="0.7" fill="#a8e0d8" opacity="0.7"/>
<circle cx="475.1" cy="83.6" r="0.6" fill="#3f7a58" opacity="0.7"/>
<circle cx="351.6" cy="106.0" r="0.9" fill="#9ad6c8" opacity="0.7"/>
<circle cx="484.6" cy="88.9" r="0.9" fill="#6ab4a8" opacity="0.7"/>
<circle cx="447.0" cy="107.5" r="1.0" fill="#3f7a58" opacity="0.7"/>
<circle cx="364.0" cy="95.5" r="0.8" fill="#9ad6c8" opacity="0.7"/>
<circle cx="312.9" cy="92.5" r="0.8" fill="#6ab4a8" opacity="0.7"/>
<circle cx="316.4" cy="93.2" r="0.8" fill="#2c6a56" opacity="0.7"/>
<circle cx="549.2" cy="97.5" r="0.9" fill="#2c6a56" opacity="0.7"/>
<circle cx="368.2" cy="96.9" r="0.6" fill="#3f7a58" opacity="0.7"/>
<circle cx="500.2" cy="106.8" r="0.6" fill="#88c8bc" opacity="0.7"/>
<circle cx="371.6" cy="99.2" r="0.6" fill="#a8e0d8" opacity="0.7"/>
<circle cx="519.4" cy="92.8" r="0.5" fill="#88c8bc" opacity="0.7"/>
<circle cx="544.3" cy="108.8" r="0.9" fill="#a8e0d8" opacity="0.7"/>
<circle cx="500.2" cy="103.0" r="0.5" fill="#6ab4a8" opacity="0.7"/>
<circle cx="444.4" cy="107.2" r="0.7" fill="#88c8bc" opacity="0.7"/>
<circle cx="351.4" cy="100.9" r="0.8" fill="#3f7a58" opacity="0.7"/>
<circle cx="508.1" cy="103.3" r="0.8" fill="#9ad6c8" opacity="0.7"/>
<circle cx="357.4" cy="105.3" r="0.5" fill="#3f7a58" opacity="0.7"/>
<circle cx="378.2" cy="97.5" r="0.7" fill="#88c8bc" opacity="0.7"/>
<circle cx="512.8" cy="92.1" r="0.7" fill="#9ad6c8" opacity="0.7"/>
<circle cx="499.3" cy="102.7" r="1.0" fill="#3f7a58" opacity="0.7"/>
<circle cx="346.6" cy="83.9" r="0.9" fill="#6ab4a8" opacity="0.7"/>
<circle cx="386.2" cy="105.5" r="0.7" fill="#3f7a58" opacity="0.7"/>
<circle cx="368.4" cy="102.8" r="0.9" fill="#3f7a58" opacity="0.7"/>
<circle cx="482.9" cy="83.7" r="0.9" fill="#2c6a56" opacity="0.7"/>
<circle cx="438.5" cy="95.5" r="0.6" fill="#a8e0d8" opacity="0.7"/>
<circle cx="425.1" cy="102.4" r="0.4" fill="#9ad6c8" opacity="0.7"/>
<circle cx="503.1" cy="93.1" r="0.6" fill="#3f7a58" opacity="0.7"/>
<circle cx="513.8" cy="108.1" r="0.5" fill="#9ad6c8" opacity="0.7"/>
<circle cx="538.9" cy="85.1" r="0.6" fill="#a8e0d8" opacity="0.7"/>
<circle cx="343.4" cy="103.3" r="1.0" fill="#88c8bc" opacity="0.7"/>
<circle cx="485.4" cy="91.0" r="0.5" fill="#2c6a56" opacity="0.7"/>
<circle cx="344.4" cy="103.8" r="0.7" fill="#88c8bc" opacity="0.7"/>
<circle cx="486.4" cy="92.0" r="0.8" fill="#9ad6c8" opacity="0.7"/>
<circle cx="312.4" cy="105.8" r="0.6" fill="#9ad6c8" opacity="0.7"/>
<circle cx="489.0" cy="94.2" r="0.5" fill="#6ab4a8" opacity="0.7"/>
<circle cx="478.3" cy="83.6" r="0.8" fill="#6ab4a8" opacity="0.7"/>
<circle cx="491.0" cy="96.2" r="0.7" fill="#6ab4a8" opacity="0.7"/>
<circle cx="406.1" cy="100.2" r="0.8" fill="#9ad6c8" opacity="0.7"/>
<circle cx="346.7" cy="93.8" r="0.7" fill="#a8e0d8" opacity="0.7"/>
<circle cx="427.4" cy="96.9" r="0.5" fill="#2c6a56" opacity="0.7"/>
<circle cx="315.1" cy="100.4" r="0.7" fill="#2c6a56" opacity="0.7"/>
<circle cx="509.1" cy="107.4" r="0.8" fill="#9ad6c8" opacity="0.7"/>
<circle cx="436.0" cy="87.5" r="0.9" fill="#9ad6c8" opacity="0.7"/>
<circle cx="487.9" cy="91.1" r="1.0" fill="#3f7a58" opacity="0.7"/>
<circle cx="358.0" cy="87.1" r="0.8" fill="#2c6a56" opacity="0.7"/>
<circle cx="366.8" cy="86.0" r="0.7" fill="#88c8bc" opacity="0.7"/>
<circle cx="471.5" cy="86.3" r="0.5" fill="#a8e0d8" opacity="0.7"/>
<circle cx="489.8" cy="97.5" r="0.5" fill="#2c6a56" opacity="0.7"/>
<circle cx="366.4" cy="98.3" r="0.5" fill="#3f7a58" opacity="0.7"/>
<circle cx="458.2" cy="105.1" r="0.7" fill="#a8e0d8" opacity="0.7"/>
<circle cx="518.8" cy="93.8" r="1.0" fill="#a8e0d8" opacity="0.7"/>
<circle cx="401.9" cy="104.2" r="0.4" fill="#3f7a58" opacity="0.7"/>
<circle cx="321.9" cy="93.9" r="0.9" fill="#3f7a58" opacity="0.7"/>
<circle cx="356.8" cy="108.0" r="0.4" fill="#9ad6c8" opacity="0.7"/>
<circle cx="509.5" cy="102.4" r="0.7" fill="#2c6a56" opacity="0.7"/>
<circle cx="384.3" cy="93.0" r="0.7" fill="#9ad6c8" opacity="0.7"/>
<circle cx="410.1" cy="104.6" r="0.4" fill="#9ad6c8" opacity="0.7"/>
<circle cx="460.3" cy="96.1" r="0.9" fill="#2c6a56" opacity="0.7"/>
<circle cx="503.6" cy="87.0" r="0.6" fill="#88c8bc" opacity="0.7"/>
<circle cx="379.3" cy="101.3" r="0.9" fill="#88c8bc" opacity="0.7"/>
<circle cx="406.2" cy="106.4" r="0.7" fill="#a8e0d8" opacity="0.7"/>
<circle cx="337.3" cy="109.3" r="0.5" fill="#9ad6c8" opacity="0.7"/>
<circle cx="496.5" cy="84.3" r="0.8" fill="#6ab4a8" opacity="0.7"/>
<circle cx="394.8" cy="88.0" r="0.9" fill="#3f7a58" opacity="0.7"/>
<circle cx="439.2" cy="87.4" r="0.5" fill="#2c6a56" opacity="0.7"/>
<circle cx="533.2" cy="92.1" r="0.8" fill="#2c6a56" opacity="0.7"/>
<circle cx="528.5" cy="109.0" r="0.5" fill="#9ad6c8" opacity="0.7"/>
<circle cx="445.8" cy="93.1" r="0.6" fill="#6ab4a8" opacity="0.7"/>
<circle cx="541.0" cy="87.9" r="0.6" fill="#2c6a56" opacity="0.7"/>
<circle cx="394.4" cy="107.1" r="0.9" fill="#2c6a56" opacity="0.7"/>
<circle cx="384.0" cy="103.3" r="0.8" fill="#a8e0d8" opacity="0.7"/>
<circle cx="557.8" cy="106.7" r="0.5" fill="#9ad6c8" opacity="0.7"/>
<circle cx="394.2" cy="93.3" r="1.0" fill="#2c6a56" opacity="0.7"/>
<circle cx="495.4" cy="83.8" r="0.7" fill="#9ad6c8" opacity="0.7"/>
<circle cx="364.4" cy="109.6" r="0.9" fill="#2c6a56" opacity="0.7"/>
<circle cx="513.0" cy="106.5" r="0.9" fill="#3f7a58" opacity="0.7"/>
<circle cx="561.5" cy="96.5" r="0.8" fill="#6ab4a8" opacity="0.7"/>
<circle cx="364.4" cy="87.5" r="0.9" fill="#3f7a58" opacity="0.7"/>
<circle cx="480.7" cy="91.0" r="0.5" fill="#3f7a58" opacity="0.7"/>
<circle cx="322.4" cy="102.3" r="0.9" fill="#2c6a56" opacity="0.7"/>
<circle cx="426.8" cy="103.6" r="0.4" fill="#a8e0d8" opacity="0.7"/>
<circle cx="394.2" cy="87.8" r="0.7" fill="#a8e0d8" opacity="0.7"/>
<circle cx="424.6" cy="102.2" r="0.6" fill="#3f7a58" opacity="0.7"/>
<circle cx="554.4" cy="98.0" r="0.6" fill="#88c8bc" opacity="0.7"/>
<circle cx="490.4" cy="105.5" r="1.0" fill="#9ad6c8" opacity="0.7"/>
<circle cx="429.1" cy="107.5" r="0.9" fill="#9ad6c8" opacity="0.7"/>
<circle cx="527.5" cy="86.6" r="0.6" fill="#a8e0d8" opacity="0.7"/>
<circle cx="400.6" cy="100.1" r="0.9" fill="#9ad6c8" opacity="0.7"/>
<circle cx="514.2" cy="87.4" r="1.0" fill="#88c8bc" opacity="0.7"/>
<circle cx="352.9" cy="92.3" r="0.5" fill="#88c8bc" opacity="0.7"/>
<circle cx="320.8" cy="83.8" r="0.6" fill="#a8e0d8" opacity="0.7"/>
<circle cx="452.4" cy="105.9" r="0.9" fill="#6ab4a8" opacity="0.7"/>
<circle cx="494.3" cy="99.4" r="0.5" fill="#2c6a56" opacity="0.7"/>
<circle cx="548.6" cy="91.3" r="0.6" fill="#2c6a56" opacity="0.7"/>
<circle cx="496.9" cy="93.4" r="0.9" fill="#9ad6c8" opacity="0.7"/>
<circle cx="501.7" cy="102.7" r="0.5" fill="#9ad6c8" opacity="0.7"/>
<circle cx="368.5" cy="105.2" r="0.9" fill="#2c6a56" opacity="0.7"/>
<circle cx="566.0" cy="85.3" r="1.0" fill="#3f7a58" opacity="0.7"/>
<circle cx="428.5" cy="101.7" r="0.9" fill="#2c6a56" opacity="0.7"/>
<circle cx="494.9" cy="94.8" r="0.4" fill="#3f7a58" opacity="0.7"/>
<circle cx="544.3" cy="85.3" r="0.8" fill="#3f7a58" opacity="0.7"/>
<circle cx="542.5" cy="108.2" r="0.9" fill="#88c8bc" opacity="0.7"/>
<circle cx="468.4" cy="83.2" r="0.9" fill="#9ad6c8" opacity="0.7"/>
<circle cx="443.9" cy="102.5" r="0.4" fill="#88c8bc" opacity="0.7"/>
<circle cx="534.0" cy="109.6" r="1.0" fill="#88c8bc" opacity="0.7"/>
<circle cx="457.6" cy="92.8" r="0.8" fill="#3f7a58" opacity="0.7"/>
<circle cx="512.5" cy="96.2" r="0.6" fill="#6ab4a8" opacity="0.7"/>
<circle cx="386.7" cy="103.6" r="0.5" fill="#88c8bc" opacity="0.7"/>
<circle cx="548.3" cy="86.8" r="1.0" fill="#a8e0d8" opacity="0.7"/>
<circle cx="390.6" cy="90.1" r="0.6" fill="#6ab4a8" opacity="0.7"/>
<circle cx="501.4" cy="92.9" r="0.7" fill="#88c8bc" opacity="0.7"/>
<circle cx="474.9" cy="107.0" r="0.7" fill="#3f7a58" opacity="0.7"/>
<circle cx="384.9" cy="105.6" r="0.8" fill="#3f7a58" opacity="0.7"/>
<circle cx="381.8" cy="88.3" r="0.7" fill="#9ad6c8" opacity="0.7"/>
<circle cx="468.3" cy="103.1" r="0.7" fill="#2c6a56" opacity="0.7"/>
<circle cx="472.6" cy="108.1" r="0.6" fill="#a8e0d8" opacity="0.7"/>
<circle cx="356.2" cy="97.6" r="1.0" fill="#2c6a56" opacity="0.7"/>
<circle cx="334.3" cy="102.5" r="0.6" fill="#3f7a58" opacity="0.7"/>
<circle cx="418.8" cy="97.4" r="0.5" fill="#9ad6c8" opacity="0.7"/>
<circle cx="332.4" cy="99.3" r="0.9" fill="#88c8bc" opacity="0.7"/>
<circle cx="527.9" cy="98.2" r="0.4" fill="#6ab4a8" opacity="0.7"/>
<circle cx="353.8" cy="83.3" r="0.9" fill="#6ab4a8" opacity="0.7"/>
<circle cx="559.3" cy="104.1" r="0.5" fill="#3f7a58" opacity="0.7"/>
<circle cx="489.5" cy="109.9" r="0.9" fill="#3f7a58" opacity="0.7"/>
<circle cx="377.1" cy="101.7" r="0.7" fill="#88c8bc" opacity="0.7"/>
<circle cx="492.8" cy="109.1" r="0.7" fill="#a8e0d8" opacity="0.7"/>
<circle cx="478.8" cy="90.0" r="0.8" fill="#a8e0d8" opacity="0.7"/>
<circle cx="530.3" cy="96.3" r="0.8" fill="#2c6a56" opacity="0.7"/>
<circle cx="325.3" cy="92.8" r="0.6" fill="#9ad6c8" opacity="0.7"/>
<circle cx="446.1" cy="96.9" r="0.6" fill="#2c6a56" opacity="0.7"/>
<circle cx="555.9" cy="89.3" r="0.5" fill="#9ad6c8" opacity="0.7"/>
<circle cx="478.4" cy="107.5" r="0.5" fill="#6ab4a8" opacity="0.7"/>
<circle cx="354.4" cy="99.1" r="0.8" fill="#a8e0d8" opacity="0.7"/>
<circle cx="465.4" cy="83.9" r="0.4" fill="#a8e0d8" opacity="0.7"/>
<circle cx="433.6" cy="106.2" r="0.8" fill="#2c6a56" opacity="0.7"/>
<circle cx="556.8" cy="93.2" r="0.6" fill="#88c8bc" opacity="0.7"/>
<circle cx="562.2" cy="86.9" r="1.0" fill="#3f7a58" opacity="0.7"/>
<circle cx="475.5" cy="95.1" r="0.6" fill="#3f7a58" opacity="0.7"/>
<circle cx="398.1" cy="101.1" r="0.5" fill="#6ab4a8" opacity="0.7"/>
<circle cx="523.1" cy="85.7" r="1.0" fill="#88c8bc" opacity="0.7"/>
<circle cx="339.6" cy="93.3" r="0.8" fill="#6ab4a8" opacity="0.7"/>
<circle cx="413.1" cy="102.7" r="0.6" fill="#a8e0d8" opacity="0.7"/>
<circle cx="545.2" cy="84.5" r="0.9" fill="#6ab4a8" opacity="0.7"/>
<circle cx="458.0" cy="87.0" r="0.7" fill="#88c8bc" opacity="0.7"/>
<circle cx="392.0" cy="85.7" r="0.6" fill="#a8e0d8" opacity="0.7"/>
<circle cx="426.1" cy="95.9" r="0.6" fill="#6ab4a8" opacity="0.7"/>
<circle cx="515.9" cy="94.1" r="0.8" fill="#88c8bc" opacity="0.7"/>
<circle cx="508.3" cy="103.0" r="0.7" fill="#2c6a56" opacity="0.7"/>
<circle cx="431.4" cy="90.3" r="0.9" fill="#3f7a58" opacity="0.7"/>
<circle cx="369.8" cy="108.4" r="0.8" fill="#3f7a58" opacity="0.7"/>
<circle cx="407.7" cy="92.2" r="1.0" fill="#2c6a56" opacity="0.7"/>
<circle cx="390.5" cy="105.7" r="0.6" fill="#9ad6c8" opacity="0.7"/>
<circle cx="485.9" cy="83.7" r="0.8" fill="#9ad6c8" opacity="0.7"/>
<circle cx="327.9" cy="86.2" r="0.7" fill="#a8e0d8" opacity="0.7"/>
<circle cx="430.6" cy="104.3" r="1.0" fill="#9ad6c8" opacity="0.7"/>
<circle cx="410.2" cy="97.2" r="0.4" fill="#2c6a56" opacity="0.7"/>
<circle cx="355.5" cy="103.2" r="0.4" fill="#9ad6c8" opacity="0.7"/>
<circle cx="471.6" cy="97.3" r="1.0" fill="#6ab4a8" opacity="0.7"/>
<circle cx="412.8" cy="85.9" r="0.7" fill="#2c6a56" opacity="0.7"/>
<circle cx="332.3" cy="99.7" r="1.0" fill="#a8e0d8" opacity="0.7"/>
<circle cx="557.5" cy="96.3" r="0.6" fill="#2c6a56" opacity="0.7"/>
<circle cx="368.7" cy="105.1" r="0.4" fill="#a8e0d8" opacity="0.7"/>
<circle cx="497.7" cy="84.4" r="0.8" fill="#6ab4a8" opacity="0.7"/>
<circle cx="488.9" cy="88.3" r="0.5" fill="#3f7a58" opacity="0.7"/>
<circle cx="382.3" cy="85.5" r="0.7" fill="#9ad6c8" opacity="0.7"/>
<circle cx="535.5" cy="103.6" r="0.4" fill="#2c6a56" opacity="0.7"/>
<circle cx="545.9" cy="104.5" r="0.7" fill="#88c8bc" opacity="0.7"/>
<circle cx="406.1" cy="95.9" r="0.8" fill="#88c8bc" opacity="0.7"/>
<circle cx="315.0" cy="107.2" r="0.4" fill="#3f7a58" opacity="0.7"/>
<circle cx="451.8" cy="98.9" r="0.6" fill="#a8e0d8" opacity="0.7"/>
<circle cx="429.2" cy="103.4" r="0.4" fill="#9ad6c8" opacity="0.7"/>
<circle cx="519.4" cy="101.5" r="0.6" fill="#9ad6c8" opacity="0.7"/>
<circle cx="388.8" cy="102.4" r="0.5" fill="#6ab4a8" opacity="0.7"/>
<circle cx="540.2" cy="98.4" r="0.9" fill="#6ab4a8" opacity="0.7"/>
<circle cx="528.0" cy="93.5" r="0.7" fill="#88c8bc" opacity="0.7"/>
<circle cx="561.4" cy="90.0" r="0.8" fill="#88c8bc" opacity="0.7"/>
<circle cx="514.0" cy="92.4" r="0.7" fill="#9ad6c8" opacity="0.7"/>
<circle cx="328.1" cy="109.2" r="0.8" fill="#9ad6c8" opacity="0.7"/>
<circle cx="372.7" cy="101.0" r="0.5" fill="#2c6a56" opacity="0.7"/>
<circle cx="515.0" cy="102.1" r="0.8" fill="#3f7a58" opacity="0.7"/>
<circle cx="553.7" cy="87.4" r="0.7" fill="#3f7a58" opacity="0.7"/>
<circle cx="561.8" cy="108.4" r="0.4" fill="#2c6a56" opacity="0.7"/>
<circle cx="377.0" cy="84.1" r="0.8" fill="#a8e0d8" opacity="0.7"/>
<circle cx="457.9" cy="95.9" r="0.8" fill="#2c6a56" opacity="0.7"/>
<circle cx="362.0" cy="92.9" r="0.7" fill="#88c8bc" opacity="0.7"/>
<circle cx="532.3" cy="86.5" r="0.6" fill="#3f7a58" opacity="0.7"/>
<circle cx="482.5" cy="90.6" r="0.6" fill="#9ad6c8" opacity="0.7"/>
<circle cx="363.3" cy="105.1" r="0.5" fill="#9ad6c8" opacity="0.7"/>
<circle cx="534.2" cy="83.9" r="0.9" fill="#2c6a56" opacity="0.7"/>
<circle cx="445.9" cy="100.2" r="0.7" fill="#3f7a58" opacity="0.7"/>
<circle cx="366.7" cy="99.2" r="0.6" fill="#6ab4a8" opacity="0.7"/>
<circle cx="312.3" cy="99.4" r="0.7" fill="#3f7a58" opacity="0.7"/>
<circle cx="350.3" cy="101.2" r="0.7" fill="#6ab4a8" opacity="0.7"/>
<circle cx="349.7" cy="109.1" r="0.7" fill="#a8e0d8" opacity="0.7"/>
<circle cx="475.9" cy="87.0" r="0.9" fill="#6ab4a8" opacity="0.7"/>
<circle cx="449.8" cy="92.2" r="0.5" fill="#6ab4a8" opacity="0.7"/>
<circle cx="561.6" cy="94.5" r="0.6" fill="#88c8bc" opacity="0.7"/>
<circle cx="383.1" cy="83.5" r="0.5" fill="#3f7a58" opacity="0.7"/>
<circle cx="521.4" cy="88.0" r="0.6" fill="#3f7a58" opacity="0.7"/>
<circle cx="497.0" cy="92.3" r="0.5" fill="#a8e0d8" opacity="0.7"/>
<circle cx="531.1" cy="92.7" r="0.9" fill="#2c6a56" opacity="0.7"/>
<circle cx="518.8" cy="96.8" r="1.0" fill="#2c6a56" opacity="0.7"/>
<circle cx="495.5" cy="96.2" r="0.8" fill="#3f7a58" opacity="0.7"/>
<circle cx="354.1" cy="92.5" r="0.5" fill="#3f7a58" opacity="0.7"/>
<circle cx="507.1" cy="106.2" r="0.7" fill="#3f7a58" opacity="0.7"/>
<circle cx="408.8" cy="91.5" r="0.5" fill="#9ad6c8" opacity="0.7"/>
<circle cx="456.8" cy="105.1" r="0.7" fill="#9ad6c8" opacity="0.7"/>
<circle cx="406.1" cy="101.3" r="0.9" fill="#6ab4a8" opacity="0.7"/>
<circle cx="473.6" cy="87.7" r="0.9" fill="#3f7a58" opacity="0.7"/>
<circle cx="387.8" cy="86.1" r="0.9" fill="#2c6a56" opacity="0.7"/>
<circle cx="486.2" cy="102.5" r="0.4" fill="#2c6a56" opacity="0.7"/>
<circle cx="488.6" cy="108.0" r="0.4" fill="#6ab4a8" opacity="0.7"/>
<circle cx="485.1" cy="87.3" r="0.5" fill="#3f7a58" opacity="0.7"/>
<circle cx="314.3" cy="85.1" r="0.9" fill="#3f7a58" opacity="0.7"/>
<circle cx="414.5" cy="83.9" r="0.7" fill="#3f7a58" opacity="0.7"/>
<circle cx="541.6" cy="88.3" r="0.9" fill="#88c8bc" opacity="0.7"/>
<circle cx="565.0" cy="98.3" r="0.8" fill="#9ad6c8" opacity="0.7"/>
<circle cx="343.1" cy="88.3" r="0.9" fill="#a8e0d8" opacity="0.7"/>
<circle cx="505.3" cy="106.3" r="0.7" fill="#9ad6c8" opacity="0.7"/>
<circle cx="355.5" cy="92.6" r="0.6" fill="#a8e0d8" opacity="0.7"/>
<circle cx="462.0" cy="103.7" r="0.7" fill="#3f7a58" opacity="0.7"/>
<circle cx="388.4" cy="100.3" r="0.7" fill="#88c8bc" opacity="0.7"/>
<circle cx="343.2" cy="107.3" r="0.8" fill="#3f7a58" opacity="0.7"/>
<circle cx="527.6" cy="90.8" r="0.8" fill="#6ab4a8" opacity="0.7"/>
<circle cx="399.9" cy="102.2" r="0.7" fill="#88c8bc" opacity="0.7"/>
<circle cx="464.2" cy="84.0" r="0.5" fill="#9ad6c8" opacity="0.7"/>
<circle cx="505.7" cy="106.7" r="0.9" fill="#9ad6c8" opacity="0.7"/>
<circle cx="312.3" cy="109.7" r="0.6" fill="#3f7a58" opacity="0.7"/>
<circle cx="314.2" cy="107.2" r="0.8" fill="#2c6a56" opacity="0.7"/>
<circle cx="518.4" cy="92.4" r="0.7" fill="#88c8bc" opacity="0.7"/>
<circle cx="347.0" cy="84.6" r="0.5" fill="#2c6a56" opacity="0.7"/>
<circle cx="343.3" cy="107.7" r="0.8" fill="#3f7a58" opacity="0.7"/>
<circle cx="440.8" cy="90.0" r="0.7" fill="#2c6a56" opacity="0.7"/>
<circle cx="347.0" cy="109.4" r="0.6" fill="#3f7a58" opacity="0.7"/>
<circle cx="330.6" cy="104.3" r="0.8" fill="#88c8bc" opacity="0.7"/>
<circle cx="365.2" cy="89.2" r="0.7" fill="#9ad6c8" opacity="0.7"/>
<circle cx="356.3" cy="90.7" r="0.9" fill="#2c6a56" opacity="0.7"/>
<circle cx="421.8" cy="103.7" r="0.7" fill="#3f7a58" opacity="0.7"/>
<circle cx="316.0" cy="106.5" r="0.9" fill="#9ad6c8" opacity="0.7"/>
<circle cx="360.1" cy="99.7" r="0.7" fill="#a8e0d8" opacity="0.7"/>
<circle cx="350.8" cy="100.0" r="0.9" fill="#2c6a56" opacity="0.7"/>
<circle cx="332.1" cy="104.6" r="0.7" fill="#a8e0d8" opacity="0.7"/>
<circle cx="426.9" cy="107.9" r="1.0" fill="#9ad6c8" opacity="0.7"/>
<circle cx="469.5" cy="90.3" r="0.5" fill="#a8e0d8" opacity="0.7"/>
<circle cx="490.5" cy="84.8" r="0.4" fill="#6ab4a8" opacity="0.7"/>
<circle cx="396.8" cy="84.1" r="0.7" fill="#88c8bc" opacity="0.7"/>
<circle cx="451.6" cy="91.9" r="0.7" fill="#6ab4a8" opacity="0.7"/>
<circle cx="548.3" cy="86.4" r="0.5" fill="#6ab4a8" opacity="0.7"/>
<circle cx="514.9" cy="83.1" r="0.8" fill="#a8e0d8" opacity="0.7"/>
<circle cx="552.8" cy="108.6" r="1.0" fill="#2c6a56" opacity="0.7"/>
<circle cx="422.3" cy="109.8" r="1.0" fill="#6ab4a8" opacity="0.7"/>
<circle cx="444.1" cy="95.6" r="1.0" fill="#3f7a58" opacity="0.7"/>
<circle cx="515.5" cy="90.4" r="0.9" fill="#2c6a56" opacity="0.7"/>
<circle cx="519.7" cy="86.8" r="1.0" fill="#9ad6c8" opacity="0.7"/>
<circle cx="516.0" cy="88.0" r="0.6" fill="#6ab4a8" opacity="0.7"/>
<circle cx="435.8" cy="83.8" r="0.7" fill="#2c6a56" opacity="0.7"/>
<circle cx="415.6" cy="105.3" r="0.7" fill="#9ad6c8" opacity="0.7"/>
<circle cx="351.8" cy="95.3" r="1.0" fill="#6ab4a8" opacity="0.7"/>
<circle cx="556.6" cy="99.0" r="0.9" fill="#2c6a56" opacity="0.7"/>
<circle cx="340.8" cy="84.1" r="0.4" fill="#a8e0d8" opacity="0.7"/>
<circle cx="312.2" cy="106.4" r="0.5" fill="#a8e0d8" opacity="0.7"/>
<circle cx="514.0" cy="88.0" r="0.8" fill="#9ad6c8" opacity="0.7"/>
<circle cx="395.1" cy="97.6" r="1.0" fill="#2c6a56" opacity="0.7"/>
<circle cx="490.1" cy="104.7" r="0.7" fill="#9ad6c8" opacity="0.7"/>
<circle cx="481.4" cy="102.5" r="0.4" fill="#88c8bc" opacity="0.7"/>
<circle cx="464.9" cy="101.6" r="0.9" fill="#3f7a58" opacity="0.7"/>
<circle cx="430.1" cy="85.7" r="0.7" fill="#88c8bc" opacity="0.7"/>
<circle cx="561.0" cy="91.7" r="0.9" fill="#3f7a58" opacity="0.7"/>
<circle cx="430.1" cy="90.7" r="0.5" fill="#88c8bc" opacity="0.7"/>
<circle cx="371.0" cy="83.3" r="0.9" fill="#88c8bc" opacity="0.7"/>
<circle cx="318.5" cy="102.3" r="0.7" fill="#6ab4a8" opacity="0.7"/>
<circle cx="553.3" cy="107.7" r="0.6" fill="#3f7a58" opacity="0.7"/>
<circle cx="414.0" cy="94.6" r="1.0" fill="#2c6a56" opacity="0.7"/>
<circle cx="348.3" cy="108.6" r="0.5" fill="#2c6a56" opacity="0.7"/>
<circle cx="447.0" cy="99.0" r="0.5" fill="#2c6a56" opacity="0.7"/>
<circle cx="438.0" cy="89.6" r="0.8" fill="#88c8bc" opacity="0.7"/>
<circle cx="493.2" cy="94.4" r="0.8" fill="#3f7a58" opacity="0.7"/>
<circle cx="315.0" cy="106.1" r="0.6" fill="#a8e0d8" opacity="0.7"/>
<circle cx="418.7" cy="104.4" r="0.5" fill="#6ab4a8" opacity="0.7"/>
<circle cx="327.9" cy="94.7" r="1.0" fill="#88c8bc" opacity="0.7"/>
<circle cx="449.5" cy="109.6" r="0.5" fill="#3f7a58" opacity="0.7"/>
<circle cx="558.5" cy="95.1" r="0.4" fill="#3f7a58" opacity="0.7"/>
<circle cx="322.2" cy="95.1" r="0.6" fill="#2c6a56" opacity="0.7"/>
<circle cx="510.4" cy="86.1" r="0.8" fill="#2c6a56" opacity="0.7"/>
<circle cx="545.1" cy="102.8" r="0.9" fill="#9ad6c8" opacity="0.7"/>
<circle cx="479.4" cy="97.2" r="0.5" fill="#88c8bc" opacity="0.7"/>
<circle cx="311.6" cy="104.7" r="0.6" fill="#a8e0d8" opacity="0.7"/>
<circle cx="466.0" cy="95.4" r="0.5" fill="#a8e0d8" opacity="0.7"/>
<circle cx="530.5" cy="108.9" r="0.8" fill="#a8e0d8" opacity="0.7"/>
<circle cx="523.1" cy="90.3" r="0.7" fill="#a8e0d8" opacity="0.7"/>
<circle cx="519.1" cy="97.9" r="0.9" fill="#2c6a56" opacity="0.7"/>
<circle cx="362.2" cy="92.0" r="0.5" fill="#9ad6c8" opacity="0.7"/>
<circle cx="388.9" cy="93.9" r="0.7" fill="#6ab4a8" opacity="0.7"/>
<circle cx="340.7" cy="107.8" r="1.0" fill="#2c6a56" opacity="0.7"/>
<circle cx="473.4" cy="96.4" r="0.6" fill="#6ab4a8" opacity="0.7"/>
<circle cx="315.2" cy="85.3" r="0.9" fill="#88c8bc" opacity="0.7"/>
<circle cx="500.0" cy="93.5" r="0.5" fill="#a8e0d8" opacity="0.7"/>
<circle cx="431.0" cy="99.4" r="0.9" fill="#3f7a58" opacity="0.7"/>
<circle cx="355.4" cy="84.6" r="0.5" fill="#6ab4a8" opacity="0.7"/>
<circle cx="388.3" cy="106.5" r="0.9" fill="#2c6a56" opacity="0.7"/>
<circle cx="398.4" cy="92.3" r="0.5" fill="#88c8bc" opacity="0.7"/>
<circle cx="522.7" cy="84.5" r="0.5" fill="#6ab4a8" opacity="0.7"/>
<circle cx="565.9" cy="84.9" r="0.6" fill="#9ad6c8" opacity="0.7"/>
<circle cx="489.5" cy="106.2" r="0.4" fill="#3f7a58" opacity="0.7"/>
<circle cx="487.8" cy="107.3" r="0.5" fill="#88c8bc" opacity="0.7"/>
<circle cx="383.2" cy="87.9" r="0.6" fill="#a8e0d8" opacity="0.7"/>
<circle cx="345.5" cy="100.4" r="0.9" fill="#3f7a58" opacity="0.7"/>
<circle cx="545.9" cy="86.7" r="1.0" fill="#9ad6c8" opacity="0.7"/>
<circle cx="329.0" cy="84.5" r="1.0" fill="#88c8bc" opacity="0.7"/>
<circle cx="489.8" cy="109.5" r="0.5" fill="#3f7a58" opacity="0.7"/>
<circle cx="469.5" cy="100.9" r="0.9" fill="#9ad6c8" opacity="0.7"/>
<circle cx="447.9" cy="109.9" r="0.9" fill="#9ad6c8" opacity="0.7"/>
<circle cx="316.1" cy="84.6" r="0.7" fill="#88c8bc" opacity="0.7"/>
<circle cx="323.4" cy="94.8" r="0.7" fill="#2c6a56" opacity="0.7"/>
<circle cx="419.3" cy="103.7" r="0.5" fill="#3f7a58" opacity="0.7"/>
<circle cx="356.8" cy="97.2" r="0.9" fill="#9ad6c8" opacity="0.7"/>
<circle cx="439.6" cy="95.6" r="0.9" fill="#a8e0d8" opacity="0.7"/>
<circle cx="341.9" cy="101.2" r="1.0" fill="#a8e0d8" opacity="0.7"/>
<circle cx="460.2" cy="101.3" r="0.5" fill="#88c8bc" opacity="0.7"/>
<circle cx="521.3" cy="89.0" r="0.5" fill="#6ab4a8" opacity="0.7"/>
<circle cx="399.7" cy="103.0" r="0.8" fill="#a8e0d8" opacity="0.7"/>
<circle cx="379.6" cy="105.2" r="1.0" fill="#88c8bc" opacity="0.7"/>
<circle cx="342.3" cy="106.2" r="0.6" fill="#2c6a56" opacity="0.7"/>
<filter id="bumpy" x="0" y="0" width="100%" height="100%" color-interpolation-filters="sRGB">
 <feTurbulence type="fractalNoise" baseFrequency="0.1 0.22" numOctaves="2" seed="8" result="n"/>
 <feDiffuseLighting in="n" surfaceScale="3" diffuseConstant="1" lighting-color="#ffffff" result="l"><feDistantLight azimuth="235" elevation="55"/></feDiffuseLighting>
 <feColorMatrix in="l" type="matrix" values="0 0 0 0 0.45  0 0 0 0 0.8  0 0 0 0 0.35  0.9 0 0 0 -0.55" result="hl"/>
 <feComposite in="hl" in2="SourceGraphic" operator="in"/>
</filter>
<rect x="310" y="104" width="257.5" height="66" fill="#000" filter="url(#bumpy)" opacity="0.8"/>
<path d="M433.2,82.6 L458.1,82.6 L458.5,104.1 Q445.5,105.6 432.5,104.1z" fill="url(#papA)"/>
<circle cx="456.9" cy="102.3" r="0.7" fill="#4a7a2a" opacity="0.6"/>
<circle cx="435.8" cy="85.6" r="0.7" fill="#8cb656" opacity="0.6"/>
<circle cx="448.8" cy="99.5" r="0.7" fill="#8cb656" opacity="0.6"/>
<circle cx="453.7" cy="86.6" r="0.7" fill="#9ac060" opacity="0.6"/>
<circle cx="452.4" cy="90.9" r="0.7" fill="#9ac060" opacity="0.6"/>
<circle cx="441.7" cy="95.8" r="0.7" fill="#4a7a2a" opacity="0.6"/>
<circle cx="444.1" cy="93.6" r="0.7" fill="#4a7a2a" opacity="0.6"/>
<circle cx="434.0" cy="88.8" r="0.7" fill="#8cb656" opacity="0.6"/>
<circle cx="451.2" cy="98.3" r="0.7" fill="#9ac060" opacity="0.6"/>
<circle cx="453.4" cy="85.7" r="0.7" fill="#8cb656" opacity="0.6"/>
<circle cx="437.8" cy="91.7" r="0.7" fill="#8cb656" opacity="0.6"/>
<circle cx="444.2" cy="87.0" r="0.7" fill="#9ac060" opacity="0.6"/>
<circle cx="439.3" cy="91.3" r="0.7" fill="#4a7a2a" opacity="0.6"/>
<circle cx="442.7" cy="86.2" r="0.7" fill="#4a7a2a" opacity="0.6"/>
<circle cx="448.4" cy="86.2" r="0.7" fill="#9ac060" opacity="0.6"/>
<circle cx="456.4" cy="90.6" r="0.7" fill="#4a7a2a" opacity="0.6"/>
<circle cx="455.9" cy="99.4" r="0.7" fill="#9ac060" opacity="0.6"/>
<circle cx="443.6" cy="92.4" r="0.7" fill="#8cb656" opacity="0.6"/>
<circle cx="438.8" cy="97.6" r="0.7" fill="#9ac060" opacity="0.6"/>
<circle cx="438.1" cy="89.7" r="0.7" fill="#8cb656" opacity="0.6"/>
<circle cx="452.4" cy="100.9" r="0.7" fill="#9ac060" opacity="0.6"/>
<circle cx="457.3" cy="96.7" r="0.7" fill="#8cb656" opacity="0.6"/>
<circle cx="439.0" cy="98.1" r="0.7" fill="#9ac060" opacity="0.6"/>
<circle cx="435.3" cy="94.7" r="0.7" fill="#9ac060" opacity="0.6"/>
<circle cx="435.2" cy="102.1" r="0.7" fill="#4a7a2a" opacity="0.6"/>
<circle cx="437.4" cy="96.0" r="0.7" fill="#4a7a2a" opacity="0.6"/>
<circle cx="453.7" cy="88.5" r="0.7" fill="#4a7a2a" opacity="0.6"/>
<circle cx="443.0" cy="100.7" r="0.7" fill="#8cb656" opacity="0.6"/>
<circle cx="446.8" cy="85.6" r="0.7" fill="#4a7a2a" opacity="0.6"/>
<circle cx="449.4" cy="91.6" r="0.7" fill="#4a7a2a" opacity="0.6"/>
<circle cx="447.7" cy="87.5" r="0.7" fill="#9ac060" opacity="0.6"/>
<circle cx="454.4" cy="98.4" r="0.7" fill="#8cb656" opacity="0.6"/>
<circle cx="447.7" cy="85.8" r="0.7" fill="#8cb656" opacity="0.6"/>
<circle cx="447.3" cy="102.0" r="0.7" fill="#9ac060" opacity="0.6"/>
<circle cx="455.5" cy="87.0" r="0.7" fill="#9ac060" opacity="0.6"/>
<circle cx="443.3" cy="85.0" r="0.7" fill="#8cb656" opacity="0.6"/>
<circle cx="446.4" cy="87.6" r="0.7" fill="#4a7a2a" opacity="0.6"/>
<circle cx="450.6" cy="86.7" r="0.7" fill="#4a7a2a" opacity="0.6"/>
<circle cx="456.6" cy="103.0" r="0.7" fill="#4a7a2a" opacity="0.6"/>
<circle cx="436.4" cy="100.5" r="0.7" fill="#9ac060" opacity="0.6"/>
<circle cx="441.5" cy="92.0" r="0.7" fill="#9ac060" opacity="0.6"/>
<circle cx="454.2" cy="94.8" r="0.7" fill="#9ac060" opacity="0.6"/>
<circle cx="449.3" cy="88.3" r="0.7" fill="#9ac060" opacity="0.6"/>
<circle cx="451.6" cy="102.0" r="0.7" fill="#8cb656" opacity="0.6"/>
<circle cx="444.9" cy="84.8" r="0.7" fill="#8cb656" opacity="0.6"/>
<path d="M432.5,102.1 Q445.5,104.6 458.5,102.1 L458.5,104.1 Q445.5,106.1 432.5,104.1z" fill="#3e6e2a" opacity="0.5"/>
<path d="M334.6,85.9 L369.6,85.9 L371.8,113.7 Q351.0,115.2 330.1,113.7z" fill="url(#papA)"/>
<circle cx="367.6" cy="89.1" r="0.7" fill="#9ac060" opacity="0.6"/>
<circle cx="363.2" cy="110.3" r="0.7" fill="#4a7a2a" opacity="0.6"/>
<circle cx="362.1" cy="100.9" r="0.7" fill="#4a7a2a" opacity="0.6"/>
<circle cx="337.5" cy="97.2" r="0.7" fill="#8cb656" opacity="0.6"/>
<circle cx="359.3" cy="104.3" r="0.7" fill="#9ac060" opacity="0.6"/>
<circle cx="337.5" cy="91.5" r="0.7" fill="#8cb656" opacity="0.6"/>
<circle cx="360.0" cy="106.0" r="0.7" fill="#9ac060" opacity="0.6"/>
<circle cx="348.9" cy="105.1" r="0.7" fill="#9ac060" opacity="0.6"/>
<circle cx="366.7" cy="97.2" r="0.7" fill="#9ac060" opacity="0.6"/>
<circle cx="351.0" cy="88.1" r="0.7" fill="#8cb656" opacity="0.6"/>
<circle cx="331.5" cy="93.2" r="0.7" fill="#8cb656" opacity="0.6"/>
<circle cx="354.9" cy="99.8" r="0.7" fill="#4a7a2a" opacity="0.6"/>
<circle cx="344.5" cy="107.3" r="0.7" fill="#4a7a2a" opacity="0.6"/>
<circle cx="370.6" cy="105.0" r="0.7" fill="#8cb656" opacity="0.6"/>
<circle cx="367.9" cy="95.0" r="0.7" fill="#8cb656" opacity="0.6"/>
<circle cx="352.5" cy="103.3" r="0.7" fill="#9ac060" opacity="0.6"/>
<circle cx="350.1" cy="105.1" r="0.7" fill="#8cb656" opacity="0.6"/>
<circle cx="337.1" cy="95.1" r="0.7" fill="#8cb656" opacity="0.6"/>
<circle cx="343.5" cy="89.4" r="0.7" fill="#4a7a2a" opacity="0.6"/>
<circle cx="344.0" cy="104.5" r="0.7" fill="#8cb656" opacity="0.6"/>
<circle cx="370.6" cy="111.7" r="0.7" fill="#4a7a2a" opacity="0.6"/>
<circle cx="347.2" cy="102.0" r="0.7" fill="#4a7a2a" opacity="0.6"/>
<circle cx="336.7" cy="101.0" r="0.7" fill="#4a7a2a" opacity="0.6"/>
<circle cx="361.2" cy="89.9" r="0.7" fill="#8cb656" opacity="0.6"/>
<circle cx="353.2" cy="112.4" r="0.7" fill="#8cb656" opacity="0.6"/>
<circle cx="343.2" cy="87.4" r="0.7" fill="#4a7a2a" opacity="0.6"/>
<circle cx="359.1" cy="94.3" r="0.7" fill="#8cb656" opacity="0.6"/>
<circle cx="365.9" cy="88.8" r="0.7" fill="#4a7a2a" opacity="0.6"/>
<circle cx="369.1" cy="110.9" r="0.7" fill="#9ac060" opacity="0.6"/>
<circle cx="341.6" cy="110.9" r="0.7" fill="#9ac060" opacity="0.6"/>
<circle cx="339.7" cy="88.7" r="0.7" fill="#4a7a2a" opacity="0.6"/>
<circle cx="338.3" cy="94.8" r="0.7" fill="#4a7a2a" opacity="0.6"/>
<circle cx="347.4" cy="90.2" r="0.7" fill="#8cb656" opacity="0.6"/>
<circle cx="359.4" cy="90.0" r="0.7" fill="#8cb656" opacity="0.6"/>
<circle cx="352.6" cy="106.1" r="0.7" fill="#9ac060" opacity="0.6"/>
<circle cx="348.0" cy="91.6" r="0.7" fill="#4a7a2a" opacity="0.6"/>
<circle cx="351.7" cy="96.2" r="0.7" fill="#9ac060" opacity="0.6"/>
<circle cx="354.1" cy="105.4" r="0.7" fill="#9ac060" opacity="0.6"/>
<circle cx="364.9" cy="93.8" r="0.7" fill="#4a7a2a" opacity="0.6"/>
<circle cx="346.7" cy="95.2" r="0.7" fill="#8cb656" opacity="0.6"/>
<circle cx="358.7" cy="95.2" r="0.7" fill="#8cb656" opacity="0.6"/>
<circle cx="363.1" cy="108.5" r="0.7" fill="#9ac060" opacity="0.6"/>
<circle cx="347.5" cy="90.1" r="0.7" fill="#4a7a2a" opacity="0.6"/>
<circle cx="341.8" cy="92.9" r="0.7" fill="#4a7a2a" opacity="0.6"/>
<circle cx="337.0" cy="99.1" r="0.7" fill="#4a7a2a" opacity="0.6"/>
<path d="M330.1,111.7 Q351.0,114.2 371.8,111.7 L371.8,113.7 Q351.0,115.7 330.1,113.7z" fill="#3e6e2a" opacity="0.5"/>
<path d="M397.9,83.7 L431.4,83.7 L434.3,115.2 Q414.2,116.7 394.1,115.2z" fill="url(#papA)"/>
<circle cx="432.8" cy="87.2" r="0.7" fill="#9ac060" opacity="0.6"/>
<circle cx="421.5" cy="106.6" r="0.7" fill="#8cb656" opacity="0.6"/>
<circle cx="410.5" cy="107.3" r="0.7" fill="#9ac060" opacity="0.6"/>
<circle cx="427.8" cy="103.5" r="0.7" fill="#8cb656" opacity="0.6"/>
<circle cx="423.6" cy="92.8" r="0.7" fill="#9ac060" opacity="0.6"/>
<circle cx="415.2" cy="103.8" r="0.7" fill="#8cb656" opacity="0.6"/>
<circle cx="431.3" cy="95.1" r="0.7" fill="#9ac060" opacity="0.6"/>
<circle cx="407.6" cy="105.4" r="0.7" fill="#8cb656" opacity="0.6"/>
<circle cx="399.1" cy="92.7" r="0.7" fill="#8cb656" opacity="0.6"/>
<circle cx="397.8" cy="93.3" r="0.7" fill="#8cb656" opacity="0.6"/>
<circle cx="414.3" cy="108.9" r="0.7" fill="#9ac060" opacity="0.6"/>
<circle cx="432.8" cy="86.1" r="0.7" fill="#9ac060" opacity="0.6"/>
<circle cx="417.8" cy="91.4" r="0.7" fill="#9ac060" opacity="0.6"/>
<circle cx="425.8" cy="92.7" r="0.7" fill="#8cb656" opacity="0.6"/>
<circle cx="402.3" cy="98.8" r="0.7" fill="#8cb656" opacity="0.6"/>
<circle cx="420.4" cy="92.8" r="0.7" fill="#4a7a2a" opacity="0.6"/>
<circle cx="429.2" cy="88.3" r="0.7" fill="#9ac060" opacity="0.6"/>
<circle cx="409.0" cy="109.4" r="0.7" fill="#9ac060" opacity="0.6"/>
<circle cx="423.6" cy="89.6" r="0.7" fill="#8cb656" opacity="0.6"/>
<circle cx="405.9" cy="105.0" r="0.7" fill="#4a7a2a" opacity="0.6"/>
<circle cx="410.8" cy="113.1" r="0.7" fill="#9ac060" opacity="0.6"/>
<circle cx="402.2" cy="86.9" r="0.7" fill="#4a7a2a" opacity="0.6"/>
<circle cx="425.0" cy="98.6" r="0.7" fill="#4a7a2a" opacity="0.6"/>
<circle cx="430.4" cy="87.4" r="0.7" fill="#4a7a2a" opacity="0.6"/>
<circle cx="416.6" cy="92.4" r="0.7" fill="#4a7a2a" opacity="0.6"/>
<circle cx="426.0" cy="97.4" r="0.7" fill="#8cb656" opacity="0.6"/>
<circle cx="424.5" cy="109.3" r="0.7" fill="#9ac060" opacity="0.6"/>
<circle cx="399.2" cy="111.5" r="0.7" fill="#8cb656" opacity="0.6"/>
<circle cx="432.5" cy="112.7" r="0.7" fill="#4a7a2a" opacity="0.6"/>
<circle cx="419.8" cy="88.1" r="0.7" fill="#9ac060" opacity="0.6"/>
<circle cx="421.7" cy="110.7" r="0.7" fill="#8cb656" opacity="0.6"/>
<circle cx="426.7" cy="89.4" r="0.7" fill="#4a7a2a" opacity="0.6"/>
<circle cx="409.7" cy="111.3" r="0.7" fill="#4a7a2a" opacity="0.6"/>
<circle cx="428.9" cy="114.1" r="0.7" fill="#4a7a2a" opacity="0.6"/>
<circle cx="422.9" cy="98.4" r="0.7" fill="#8cb656" opacity="0.6"/>
<circle cx="432.2" cy="98.0" r="0.7" fill="#8cb656" opacity="0.6"/>
<circle cx="417.5" cy="100.5" r="0.7" fill="#4a7a2a" opacity="0.6"/>
<circle cx="413.3" cy="87.4" r="0.7" fill="#9ac060" opacity="0.6"/>
<circle cx="411.6" cy="114.1" r="0.7" fill="#4a7a2a" opacity="0.6"/>
<circle cx="422.6" cy="98.4" r="0.7" fill="#9ac060" opacity="0.6"/>
<circle cx="417.1" cy="96.0" r="0.7" fill="#8cb656" opacity="0.6"/>
<circle cx="419.8" cy="89.3" r="0.7" fill="#4a7a2a" opacity="0.6"/>
<circle cx="398.0" cy="92.1" r="0.7" fill="#4a7a2a" opacity="0.6"/>
<circle cx="430.6" cy="106.6" r="0.7" fill="#4a7a2a" opacity="0.6"/>
<circle cx="433.1" cy="88.4" r="0.7" fill="#8cb656" opacity="0.6"/>
<path d="M394.1,113.2 Q414.2,115.7 434.3,113.2 L434.3,115.2 Q414.2,117.2 394.1,115.2z" fill="#3e6e2a" opacity="0.5"/>
<path d="M476.5,81.1 L501.4,81.1 L501.8,101 Q488.9,102.5 476,101z" fill="url(#papA)"/>
<circle cx="479.4" cy="82.5" r="0.7" fill="#9ac060" opacity="0.6"/>
<circle cx="488.5" cy="96.7" r="0.7" fill="#4a7a2a" opacity="0.6"/>
<circle cx="498.3" cy="86.1" r="0.7" fill="#8cb656" opacity="0.6"/>
<circle cx="496.4" cy="83.4" r="0.7" fill="#8cb656" opacity="0.6"/>
<circle cx="498.8" cy="90.8" r="0.7" fill="#9ac060" opacity="0.6"/>
<circle cx="477.5" cy="94.5" r="0.7" fill="#4a7a2a" opacity="0.6"/>
<circle cx="483.8" cy="94.8" r="0.7" fill="#8cb656" opacity="0.6"/>
<circle cx="496.8" cy="95.6" r="0.7" fill="#4a7a2a" opacity="0.6"/>
<circle cx="479.0" cy="96.2" r="0.7" fill="#9ac060" opacity="0.6"/>
<circle cx="491.1" cy="89.7" r="0.7" fill="#8cb656" opacity="0.6"/>
<circle cx="496.8" cy="89.1" r="0.7" fill="#4a7a2a" opacity="0.6"/>
<circle cx="487.3" cy="99.7" r="0.7" fill="#8cb656" opacity="0.6"/>
<circle cx="491.0" cy="91.5" r="0.7" fill="#8cb656" opacity="0.6"/>
<circle cx="479.3" cy="92.2" r="0.7" fill="#8cb656" opacity="0.6"/>
<circle cx="500.0" cy="95.4" r="0.7" fill="#9ac060" opacity="0.6"/>
<circle cx="498.6" cy="83.4" r="0.7" fill="#9ac060" opacity="0.6"/>
<circle cx="499.3" cy="84.8" r="0.7" fill="#8cb656" opacity="0.6"/>
<circle cx="489.8" cy="93.8" r="0.7" fill="#8cb656" opacity="0.6"/>
<circle cx="480.0" cy="91.2" r="0.7" fill="#8cb656" opacity="0.6"/>
<circle cx="483.9" cy="91.2" r="0.7" fill="#9ac060" opacity="0.6"/>
<circle cx="490.5" cy="90.8" r="0.7" fill="#9ac060" opacity="0.6"/>
<circle cx="482.9" cy="95.1" r="0.7" fill="#8cb656" opacity="0.6"/>
<circle cx="499.4" cy="95.6" r="0.7" fill="#9ac060" opacity="0.6"/>
<circle cx="486.9" cy="90.3" r="0.7" fill="#8cb656" opacity="0.6"/>
<circle cx="490.2" cy="88.8" r="0.7" fill="#4a7a2a" opacity="0.6"/>
<circle cx="497.4" cy="83.9" r="0.7" fill="#9ac060" opacity="0.6"/>
<circle cx="499.5" cy="88.5" r="0.7" fill="#8cb656" opacity="0.6"/>
<circle cx="497.7" cy="86.2" r="0.7" fill="#4a7a2a" opacity="0.6"/>
<circle cx="480.7" cy="83.9" r="0.7" fill="#8cb656" opacity="0.6"/>
<circle cx="492.3" cy="90.3" r="0.7" fill="#4a7a2a" opacity="0.6"/>
<circle cx="495.0" cy="84.1" r="0.7" fill="#4a7a2a" opacity="0.6"/>
<circle cx="495.3" cy="97.9" r="0.7" fill="#4a7a2a" opacity="0.6"/>
<circle cx="494.0" cy="90.4" r="0.7" fill="#8cb656" opacity="0.6"/>
<circle cx="492.0" cy="96.9" r="0.7" fill="#8cb656" opacity="0.6"/>
<circle cx="496.7" cy="95.9" r="0.7" fill="#4a7a2a" opacity="0.6"/>
<circle cx="482.4" cy="86.0" r="0.7" fill="#4a7a2a" opacity="0.6"/>
<circle cx="481.2" cy="89.1" r="0.7" fill="#9ac060" opacity="0.6"/>
<circle cx="481.8" cy="83.7" r="0.7" fill="#4a7a2a" opacity="0.6"/>
<circle cx="494.4" cy="89.9" r="0.7" fill="#9ac060" opacity="0.6"/>
<circle cx="489.9" cy="92.0" r="0.7" fill="#8cb656" opacity="0.6"/>
<circle cx="494.0" cy="82.3" r="0.7" fill="#8cb656" opacity="0.6"/>
<circle cx="492.7" cy="99.3" r="0.7" fill="#9ac060" opacity="0.6"/>
<circle cx="491.6" cy="94.8" r="0.7" fill="#8cb656" opacity="0.6"/>
<circle cx="493.1" cy="99.1" r="0.7" fill="#4a7a2a" opacity="0.6"/>
<circle cx="500.0" cy="95.6" r="0.7" fill="#8cb656" opacity="0.6"/>
<path d="M476,99 Q488.9,101.5 501.8,99 L501.8,101 Q488.9,103 476,101z" fill="#3e6e2a" opacity="0.5"/>
<path d="M528.6,79.1 L558.3,79.1 L558.8,105.7 Q543.4,107.2 528,105.7z" fill="url(#papA)"/>
<circle cx="542.9" cy="96.3" r="0.7" fill="#4a7a2a" opacity="0.6"/>
<circle cx="545.1" cy="96.0" r="0.7" fill="#4a7a2a" opacity="0.6"/>
<circle cx="529.4" cy="81.9" r="0.7" fill="#4a7a2a" opacity="0.6"/>
<circle cx="537.0" cy="86.5" r="0.7" fill="#4a7a2a" opacity="0.6"/>
<circle cx="538.7" cy="89.2" r="0.7" fill="#9ac060" opacity="0.6"/>
<circle cx="544.7" cy="83.8" r="0.7" fill="#8cb656" opacity="0.6"/>
<circle cx="536.9" cy="91.0" r="0.7" fill="#8cb656" opacity="0.6"/>
<circle cx="551.0" cy="103.0" r="0.7" fill="#8cb656" opacity="0.6"/>
<circle cx="536.7" cy="99.3" r="0.7" fill="#9ac060" opacity="0.6"/>
<circle cx="543.1" cy="103.9" r="0.7" fill="#4a7a2a" opacity="0.6"/>
<circle cx="545.2" cy="103.2" r="0.7" fill="#8cb656" opacity="0.6"/>
<circle cx="544.0" cy="82.7" r="0.7" fill="#8cb656" opacity="0.6"/>
<circle cx="549.7" cy="91.4" r="0.7" fill="#4a7a2a" opacity="0.6"/>
<circle cx="544.3" cy="100.7" r="0.7" fill="#4a7a2a" opacity="0.6"/>
<circle cx="556.5" cy="83.6" r="0.7" fill="#4a7a2a" opacity="0.6"/>
<circle cx="529.6" cy="85.5" r="0.7" fill="#9ac060" opacity="0.6"/>
<circle cx="546.0" cy="98.5" r="0.7" fill="#8cb656" opacity="0.6"/>
<circle cx="550.1" cy="90.8" r="0.7" fill="#9ac060" opacity="0.6"/>
<circle cx="551.1" cy="92.5" r="0.7" fill="#9ac060" opacity="0.6"/>
<circle cx="550.7" cy="92.5" r="0.7" fill="#4a7a2a" opacity="0.6"/>
<circle cx="548.7" cy="82.3" r="0.7" fill="#8cb656" opacity="0.6"/>
<circle cx="532.6" cy="103.9" r="0.7" fill="#9ac060" opacity="0.6"/>
<circle cx="553.9" cy="93.4" r="0.7" fill="#9ac060" opacity="0.6"/>
<circle cx="552.4" cy="85.4" r="0.7" fill="#4a7a2a" opacity="0.6"/>
<circle cx="552.7" cy="93.4" r="0.7" fill="#9ac060" opacity="0.6"/>
<circle cx="545.0" cy="81.5" r="0.7" fill="#4a7a2a" opacity="0.6"/>
<circle cx="548.2" cy="92.2" r="0.7" fill="#8cb656" opacity="0.6"/>
<circle cx="548.8" cy="102.5" r="0.7" fill="#8cb656" opacity="0.6"/>
<circle cx="541.4" cy="101.5" r="0.7" fill="#8cb656" opacity="0.6"/>
<circle cx="538.1" cy="88.8" r="0.7" fill="#8cb656" opacity="0.6"/>
<circle cx="554.6" cy="93.8" r="0.7" fill="#9ac060" opacity="0.6"/>
<circle cx="534.5" cy="99.8" r="0.7" fill="#9ac060" opacity="0.6"/>
<circle cx="539.7" cy="91.2" r="0.7" fill="#8cb656" opacity="0.6"/>
<circle cx="554.6" cy="97.6" r="0.7" fill="#8cb656" opacity="0.6"/>
<circle cx="532.7" cy="84.8" r="0.7" fill="#4a7a2a" opacity="0.6"/>
<circle cx="532.3" cy="103.7" r="0.7" fill="#9ac060" opacity="0.6"/>
<circle cx="538.2" cy="99.5" r="0.7" fill="#9ac060" opacity="0.6"/>
<circle cx="536.8" cy="101.9" r="0.7" fill="#8cb656" opacity="0.6"/>
<circle cx="554.3" cy="83.6" r="0.7" fill="#9ac060" opacity="0.6"/>
<circle cx="536.1" cy="85.7" r="0.7" fill="#8cb656" opacity="0.6"/>
<circle cx="551.4" cy="100.2" r="0.7" fill="#8cb656" opacity="0.6"/>
<circle cx="554.0" cy="81.9" r="0.7" fill="#9ac060" opacity="0.6"/>
<circle cx="545.3" cy="91.7" r="0.7" fill="#8cb656" opacity="0.6"/>
<circle cx="542.4" cy="103.9" r="0.7" fill="#4a7a2a" opacity="0.6"/>
<circle cx="556.4" cy="82.1" r="0.7" fill="#4a7a2a" opacity="0.6"/>
<path d="M528,103.7 Q543.4,106.2 558.8,103.7 L558.8,105.7 Q543.4,107.7 528,105.7z" fill="#3e6e2a" opacity="0.5"/>
<path d="M356.4,74.0 C356.7,67.3 360.0,59.1 362.9,59.1 C365.8,59.1 369.1,67.3 369.4,74.0z" fill="url(#tipA)"/>
<circle cx="366.2" cy="69.4" r="0.6" fill="#4a7a70" opacity="0.6"/>
<circle cx="360.4" cy="67.1" r="0.6" fill="#b8d4d4" opacity="0.6"/>
<circle cx="361.3" cy="64.1" r="0.6" fill="#b8d4d4" opacity="0.6"/>
<circle cx="365.1" cy="70.5" r="0.6" fill="#b8d4d4" opacity="0.6"/>
<circle cx="367.9" cy="64.7" r="0.6" fill="#b8d4d4" opacity="0.6"/>
<circle cx="362.6" cy="72.5" r="0.6" fill="#b8d4d4" opacity="0.6"/>
<circle cx="361.7" cy="71.9" r="0.6" fill="#9ab8b8" opacity="0.6"/>
<circle cx="359.0" cy="66.5" r="0.6" fill="#4a7a70" opacity="0.6"/>
<circle cx="359.6" cy="64.6" r="0.6" fill="#9ab8b8" opacity="0.6"/>
<circle cx="358.8" cy="61.9" r="0.6" fill="#4a7a70" opacity="0.6"/>
<circle cx="364.5" cy="72.2" r="0.6" fill="#b8d4d4" opacity="0.6"/>
<circle cx="361.6" cy="66.3" r="0.6" fill="#b8d4d4" opacity="0.6"/>
<circle cx="367.2" cy="69.8" r="0.6" fill="#9ab8b8" opacity="0.6"/>
<circle cx="364.7" cy="68.7" r="0.6" fill="#4a7a70" opacity="0.6"/>
<circle cx="367.3" cy="63.1" r="0.6" fill="#b8d4d4" opacity="0.6"/>
<circle cx="366.4" cy="66.5" r="0.6" fill="#9ab8b8" opacity="0.6"/>
<circle cx="363.3" cy="65.2" r="0.6" fill="#4a7a70" opacity="0.6"/>
<circle cx="357.7" cy="67.8" r="0.6" fill="#4a7a70" opacity="0.6"/>
<circle cx="367.2" cy="67.5" r="0.6" fill="#9ab8b8" opacity="0.6"/>
<circle cx="361.4" cy="67.4" r="0.6" fill="#b8d4d4" opacity="0.6"/>
<circle cx="361.6" cy="68.7" r="0.6" fill="#4a7a70" opacity="0.6"/>
<circle cx="366.4" cy="62.1" r="0.6" fill="#4a7a70" opacity="0.6"/>
<circle cx="359.6" cy="65.9" r="0.6" fill="#b8d4d4" opacity="0.6"/>
<circle cx="360.9" cy="63.6" r="0.6" fill="#4a7a70" opacity="0.6"/>
<circle cx="362.6" cy="70.9" r="0.6" fill="#4a7a70" opacity="0.6"/>
<circle cx="366.8" cy="71.1" r="0.6" fill="#9ab8b8" opacity="0.6"/>
<circle cx="360.7" cy="61.8" r="0.6" fill="#4a7a70" opacity="0.6"/>
<circle cx="363.0" cy="65.2" r="0.6" fill="#9ab8b8" opacity="0.6"/>
<circle cx="359.1" cy="70.3" r="0.6" fill="#4a7a70" opacity="0.6"/>
<circle cx="365.1" cy="71.4" r="0.6" fill="#9ab8b8" opacity="0.6"/>
<circle cx="363.2" cy="62.7" r="0.6" fill="#9ab8b8" opacity="0.6"/>
<circle cx="358.4" cy="69.4" r="0.6" fill="#9ab8b8" opacity="0.6"/>
<circle cx="359.9" cy="68.1" r="0.6" fill="#9ab8b8" opacity="0.6"/>
<circle cx="363.2" cy="68.3" r="0.6" fill="#9ab8b8" opacity="0.6"/>
<circle cx="358.3" cy="62.8" r="0.6" fill="#b8d4d4" opacity="0.6"/>
<circle cx="357.8" cy="72.6" r="0.6" fill="#4a7a70" opacity="0.6"/>
<circle cx="357.9" cy="70.3" r="0.6" fill="#9ab8b8" opacity="0.6"/>
<circle cx="365.6" cy="65.5" r="0.6" fill="#9ab8b8" opacity="0.6"/>
<circle cx="358.0" cy="62.0" r="0.6" fill="#9ab8b8" opacity="0.6"/>
<path d="M395.8,74.0 C396.2,64.1 400.2,51.9 403.8,51.9 C407.4,51.9 411.4,64.1 411.8,74.0z" fill="url(#tipA)"/>
<circle cx="406.0" cy="69.3" r="0.6" fill="#4a7a70" opacity="0.6"/>
<circle cx="408.3" cy="54.6" r="0.6" fill="#b8d4d4" opacity="0.6"/>
<circle cx="399.7" cy="64.6" r="0.6" fill="#4a7a70" opacity="0.6"/>
<circle cx="400.3" cy="58.3" r="0.6" fill="#b8d4d4" opacity="0.6"/>
<circle cx="406.2" cy="64.6" r="0.6" fill="#4a7a70" opacity="0.6"/>
<circle cx="399.4" cy="66.2" r="0.6" fill="#9ab8b8" opacity="0.6"/>
<circle cx="405.1" cy="67.8" r="0.6" fill="#4a7a70" opacity="0.6"/>
<circle cx="407.5" cy="69.7" r="0.6" fill="#9ab8b8" opacity="0.6"/>
<circle cx="397.6" cy="66.9" r="0.6" fill="#4a7a70" opacity="0.6"/>
<circle cx="404.7" cy="67.1" r="0.6" fill="#9ab8b8" opacity="0.6"/>
<circle cx="398.1" cy="68.6" r="0.6" fill="#9ab8b8" opacity="0.6"/>
<circle cx="404.7" cy="60.3" r="0.6" fill="#4a7a70" opacity="0.6"/>
<circle cx="409.6" cy="59.2" r="0.6" fill="#b8d4d4" opacity="0.6"/>
<circle cx="401.7" cy="59.0" r="0.6" fill="#b8d4d4" opacity="0.6"/>
<circle cx="397.6" cy="57.5" r="0.6" fill="#b8d4d4" opacity="0.6"/>
<circle cx="405.9" cy="57.7" r="0.6" fill="#b8d4d4" opacity="0.6"/>
<circle cx="402.6" cy="58.1" r="0.6" fill="#9ab8b8" opacity="0.6"/>
<circle cx="410.2" cy="71.9" r="0.6" fill="#b8d4d4" opacity="0.6"/>
<circle cx="398.5" cy="68.9" r="0.6" fill="#4a7a70" opacity="0.6"/>
<circle cx="397.7" cy="66.0" r="0.6" fill="#b8d4d4" opacity="0.6"/>
<circle cx="397.6" cy="63.8" r="0.6" fill="#9ab8b8" opacity="0.6"/>
<circle cx="410.1" cy="72.8" r="0.6" fill="#4a7a70" opacity="0.6"/>
<circle cx="398.3" cy="70.6" r="0.6" fill="#b8d4d4" opacity="0.6"/>
<circle cx="398.4" cy="68.7" r="0.6" fill="#4a7a70" opacity="0.6"/>
<circle cx="405.1" cy="61.3" r="0.6" fill="#4a7a70" opacity="0.6"/>
<circle cx="407.1" cy="62.9" r="0.6" fill="#4a7a70" opacity="0.6"/>
<circle cx="402.4" cy="63.7" r="0.6" fill="#9ab8b8" opacity="0.6"/>
<circle cx="410.1" cy="66.8" r="0.6" fill="#b8d4d4" opacity="0.6"/>
<circle cx="408.3" cy="63.8" r="0.6" fill="#9ab8b8" opacity="0.6"/>
<circle cx="402.4" cy="63.0" r="0.6" fill="#b8d4d4" opacity="0.6"/>
<circle cx="405.5" cy="59.4" r="0.6" fill="#4a7a70" opacity="0.6"/>
<circle cx="401.3" cy="72.3" r="0.6" fill="#9ab8b8" opacity="0.6"/>
<circle cx="397.9" cy="72.4" r="0.6" fill="#4a7a70" opacity="0.6"/>
<circle cx="404.9" cy="59.0" r="0.6" fill="#b8d4d4" opacity="0.6"/>
<circle cx="404.9" cy="64.1" r="0.6" fill="#9ab8b8" opacity="0.6"/>
<circle cx="403.4" cy="57.9" r="0.6" fill="#b8d4d4" opacity="0.6"/>
<circle cx="407.5" cy="64.6" r="0.6" fill="#b8d4d4" opacity="0.6"/>
<circle cx="407.0" cy="56.6" r="0.6" fill="#b8d4d4" opacity="0.6"/>
<circle cx="399.5" cy="72.7" r="0.6" fill="#9ab8b8" opacity="0.6"/>
<circle cx="407.6" cy="54.3" r="0.6" fill="#4a7a70" opacity="0.6"/>
<circle cx="404.5" cy="66.1" r="0.6" fill="#9ab8b8" opacity="0.6"/>
<circle cx="406.6" cy="57.6" r="0.6" fill="#b8d4d4" opacity="0.6"/>
<circle cx="408.0" cy="55.4" r="0.6" fill="#4a7a70" opacity="0.6"/>
<circle cx="402.6" cy="68.9" r="0.6" fill="#b8d4d4" opacity="0.6"/>
<circle cx="398.0" cy="69.0" r="0.6" fill="#9ab8b8" opacity="0.6"/>
<circle cx="400.2" cy="70.5" r="0.6" fill="#4a7a70" opacity="0.6"/>
<circle cx="398.9" cy="66.5" r="0.6" fill="#9ab8b8" opacity="0.6"/>
<circle cx="397.6" cy="61.6" r="0.6" fill="#b8d4d4" opacity="0.6"/>
<path d="M449.5,74.0 C449.8,67.7 452.5,60.0 454.9,60.0 C457.3,60.0 460.0,67.7 460.3,74.0z" fill="url(#tipA)"/>
<circle cx="454.9" cy="64.3" r="0.6" fill="#9ab8b8" opacity="0.6"/>
<circle cx="454.5" cy="64.2" r="0.6" fill="#9ab8b8" opacity="0.6"/>
<circle cx="457.7" cy="70.6" r="0.6" fill="#b8d4d4" opacity="0.6"/>
<circle cx="455.4" cy="67.1" r="0.6" fill="#9ab8b8" opacity="0.6"/>
<circle cx="455.3" cy="68.4" r="0.6" fill="#b8d4d4" opacity="0.6"/>
<circle cx="453.9" cy="69.9" r="0.6" fill="#9ab8b8" opacity="0.6"/>
<circle cx="454.6" cy="72.9" r="0.6" fill="#b8d4d4" opacity="0.6"/>
<circle cx="454.3" cy="65.5" r="0.6" fill="#4a7a70" opacity="0.6"/>
<circle cx="457.2" cy="72.9" r="0.6" fill="#4a7a70" opacity="0.6"/>
<circle cx="450.8" cy="63.0" r="0.6" fill="#b8d4d4" opacity="0.6"/>
<circle cx="453.6" cy="72.6" r="0.6" fill="#b8d4d4" opacity="0.6"/>
<circle cx="456.0" cy="63.9" r="0.6" fill="#b8d4d4" opacity="0.6"/>
<circle cx="454.4" cy="69.5" r="0.6" fill="#4a7a70" opacity="0.6"/>
<circle cx="453.7" cy="72.3" r="0.6" fill="#4a7a70" opacity="0.6"/>
<circle cx="458.0" cy="68.3" r="0.6" fill="#9ab8b8" opacity="0.6"/>
<circle cx="459.1" cy="71.6" r="0.6" fill="#9ab8b8" opacity="0.6"/>
<circle cx="456.0" cy="68.8" r="0.6" fill="#4a7a70" opacity="0.6"/>
<circle cx="454.8" cy="63.1" r="0.6" fill="#b8d4d4" opacity="0.6"/>
<circle cx="451.1" cy="68.8" r="0.6" fill="#4a7a70" opacity="0.6"/>
<circle cx="454.1" cy="70.1" r="0.6" fill="#4a7a70" opacity="0.6"/>
<circle cx="453.7" cy="68.4" r="0.6" fill="#b8d4d4" opacity="0.6"/>
<circle cx="455.9" cy="62.4" r="0.6" fill="#9ab8b8" opacity="0.6"/>
<circle cx="455.7" cy="70.2" r="0.6" fill="#b8d4d4" opacity="0.6"/>
<circle cx="450.9" cy="65.3" r="0.6" fill="#4a7a70" opacity="0.6"/>
<circle cx="453.6" cy="70.6" r="0.6" fill="#4a7a70" opacity="0.6"/>
<circle cx="454.7" cy="64.7" r="0.6" fill="#9ab8b8" opacity="0.6"/>
<circle cx="453.7" cy="71.0" r="0.6" fill="#b8d4d4" opacity="0.6"/>
<circle cx="451.0" cy="65.0" r="0.6" fill="#9ab8b8" opacity="0.6"/>
<circle cx="454.6" cy="65.7" r="0.6" fill="#b8d4d4" opacity="0.6"/>
<circle cx="455.6" cy="67.4" r="0.6" fill="#4a7a70" opacity="0.6"/>
<circle cx="457.3" cy="73.0" r="0.6" fill="#9ab8b8" opacity="0.6"/>
<circle cx="450.7" cy="67.1" r="0.6" fill="#b8d4d4" opacity="0.6"/>
<path d="M310,74 L310,71.0 L316,73.0 L322,73.6 L328,72.8 L334,72.0 L340,72.1 L346,72.8 L352,72.5 L358,70.8 L364,68.7 L370,67.9 L376,68.7 L382,70.0 L388,70.6 L394,70.2 L400,70.2 L406,71.4 L412,73.3 L418,74.4 L424,73.7 L430,71.9 L436,70.7 L442,70.7 L448,71.0 L454,70.4 L460,68.9 L466,67.7 L472,68.3 L478,70.2 L484,71.9 L490,72.3 L496,71.8 L502,71.8 L508,72.8 L514,73.8 L520,73.6 L526,71.7 L532,69.6 L538,68.8 L544,69.3 L550,70.0 L556,69.7 L562,68.9 L568,68.9 L567.5,79.3 L310,88.4z" fill="url(#waveA)"/>
<path d="M312,84 Q331.0,77 350,84 Q331.0,81 312,84z" fill="#1d3a84" opacity="0.85"/>
<path d="M315,85.5 Q331.0,82.5 348,86" stroke="#e8f2fc" stroke-width="0.9" fill="none" opacity="0.85"/>
<path d="M340,79 Q356.0,72 372,79 Q356.0,76 340,79z" fill="#1d3a84" opacity="0.85"/>
<path d="M343,80.5 Q356.0,77.5 370,81" stroke="#e8f2fc" stroke-width="0.9" fill="none" opacity="0.85"/>
<path d="M375,82 Q385.0,75 395,82 Q385.0,79 375,82z" fill="#1d3a84" opacity="0.85"/>
<path d="M378,83.5 Q385.0,80.5 393,84" stroke="#e8f2fc" stroke-width="0.9" fill="none" opacity="0.85"/>
<path d="M392,76 Q406.0,69 420,76 Q406.0,73 392,76z" fill="#1d3a84" opacity="0.85"/>
<path d="M395,77.5 Q406.0,74.5 418,78" stroke="#e8f2fc" stroke-width="0.9" fill="none" opacity="0.85"/>
<path d="M425,81 Q437.5,74 450,81 Q437.5,78 425,81z" fill="#1d3a84" opacity="0.85"/>
<path d="M428,82.5 Q437.5,79.5 448,83" stroke="#e8f2fc" stroke-width="0.9" fill="none" opacity="0.85"/>
<path d="M455,77 Q467.5,70 480,77 Q467.5,74 455,77z" fill="#1d3a84" opacity="0.85"/>
<path d="M458,78.5 Q467.5,75.5 478,79" stroke="#e8f2fc" stroke-width="0.9" fill="none" opacity="0.85"/>
<path d="M470,82 Q487.5,75 505,82 Q487.5,79 470,82z" fill="#1d3a84" opacity="0.85"/>
<path d="M473,83.5 Q487.5,80.5 503,84" stroke="#e8f2fc" stroke-width="0.9" fill="none" opacity="0.85"/>
<path d="M505,79 Q522.5,72 540,79 Q522.5,76 505,79z" fill="#1d3a84" opacity="0.85"/>
<path d="M508,80.5 Q522.5,77.5 538,81" stroke="#e8f2fc" stroke-width="0.9" fill="none" opacity="0.85"/>
<path d="M535,77 Q551.0,70 567,77 Q551.0,74 535,77z" fill="#1d3a84" opacity="0.85"/>
<path d="M538,78.5 Q551.0,75.5 565,79" stroke="#e8f2fc" stroke-width="0.9" fill="none" opacity="0.85"/>
<path d="M550,82 Q558.5,75 567,82 Q558.5,79 550,82z" fill="#1d3a84" opacity="0.85"/>
<path d="M553,83.5 Q558.5,80.5 565,84" stroke="#e8f2fc" stroke-width="0.9" fill="none" opacity="0.85"/>
<path d="M310,85.9 L567.5,76.8 L567.5,79.3 L310,88.4z" fill="#4a74c0" opacity="0.8"/>
<path d="M339.4,84.0 C339.9,73.2 345.3,60.1 350.2,60.1 C355.1,60.1 360.5,73.2 361.0,84.0z" fill="url(#tipA)"/>
<circle cx="349.6" cy="67.4" r="0.6" fill="#9ab8b8" opacity="0.6"/>
<circle cx="345.1" cy="70.3" r="0.6" fill="#b8d4d4" opacity="0.6"/>
<circle cx="356.4" cy="63.4" r="0.6" fill="#b8d4d4" opacity="0.6"/>
<circle cx="343.1" cy="81.7" r="0.6" fill="#b8d4d4" opacity="0.6"/>
<circle cx="349.9" cy="69.3" r="0.6" fill="#b8d4d4" opacity="0.6"/>
<circle cx="357.8" cy="76.7" r="0.6" fill="#b8d4d4" opacity="0.6"/>
<circle cx="351.9" cy="80.8" r="0.6" fill="#b8d4d4" opacity="0.6"/>
<circle cx="349.2" cy="62.3" r="0.6" fill="#b8d4d4" opacity="0.6"/>
<circle cx="352.1" cy="76.9" r="0.6" fill="#4a7a70" opacity="0.6"/>
<circle cx="356.9" cy="68.8" r="0.6" fill="#4a7a70" opacity="0.6"/>
<circle cx="346.4" cy="65.4" r="0.6" fill="#9ab8b8" opacity="0.6"/>
<circle cx="349.3" cy="82.3" r="0.6" fill="#4a7a70" opacity="0.6"/>
<circle cx="351.9" cy="71.0" r="0.6" fill="#4a7a70" opacity="0.6"/>
<circle cx="349.9" cy="78.2" r="0.6" fill="#b8d4d4" opacity="0.6"/>
<circle cx="345.5" cy="69.9" r="0.6" fill="#9ab8b8" opacity="0.6"/>
<circle cx="356.3" cy="68.2" r="0.6" fill="#4a7a70" opacity="0.6"/>
<circle cx="357.1" cy="81.0" r="0.6" fill="#9ab8b8" opacity="0.6"/>
<circle cx="355.8" cy="62.3" r="0.6" fill="#4a7a70" opacity="0.6"/>
<circle cx="352.7" cy="76.2" r="0.6" fill="#9ab8b8" opacity="0.6"/>
<circle cx="356.9" cy="80.4" r="0.6" fill="#4a7a70" opacity="0.6"/>
<circle cx="356.3" cy="67.9" r="0.6" fill="#9ab8b8" opacity="0.6"/>
<circle cx="353.5" cy="72.1" r="0.6" fill="#4a7a70" opacity="0.6"/>
<circle cx="347.4" cy="77.5" r="0.6" fill="#9ab8b8" opacity="0.6"/>
<circle cx="342.9" cy="77.3" r="0.6" fill="#4a7a70" opacity="0.6"/>
<circle cx="343.3" cy="78.2" r="0.6" fill="#9ab8b8" opacity="0.6"/>
<circle cx="355.5" cy="81.0" r="0.6" fill="#4a7a70" opacity="0.6"/>
<circle cx="357.7" cy="80.1" r="0.6" fill="#9ab8b8" opacity="0.6"/>
<circle cx="358.6" cy="78.1" r="0.6" fill="#9ab8b8" opacity="0.6"/>
<circle cx="351.7" cy="63.6" r="0.6" fill="#4a7a70" opacity="0.6"/>
<circle cx="348.9" cy="65.6" r="0.6" fill="#b8d4d4" opacity="0.6"/>
<circle cx="343.5" cy="79.7" r="0.6" fill="#9ab8b8" opacity="0.6"/>
<circle cx="349.7" cy="81.5" r="0.6" fill="#9ab8b8" opacity="0.6"/>
<circle cx="352.1" cy="70.1" r="0.6" fill="#9ab8b8" opacity="0.6"/>
<circle cx="358.4" cy="65.9" r="0.6" fill="#b8d4d4" opacity="0.6"/>
<circle cx="353.4" cy="76.4" r="0.6" fill="#9ab8b8" opacity="0.6"/>
<circle cx="343.2" cy="74.0" r="0.6" fill="#4a7a70" opacity="0.6"/>
<circle cx="343.8" cy="81.7" r="0.6" fill="#4a7a70" opacity="0.6"/>
<circle cx="344.1" cy="68.2" r="0.6" fill="#9ab8b8" opacity="0.6"/>
<circle cx="341.6" cy="68.8" r="0.6" fill="#b8d4d4" opacity="0.6"/>
<circle cx="346.6" cy="72.6" r="0.6" fill="#b8d4d4" opacity="0.6"/>
<circle cx="349.0" cy="71.4" r="0.6" fill="#b8d4d4" opacity="0.6"/>
<circle cx="355.1" cy="80.2" r="0.6" fill="#9ab8b8" opacity="0.6"/>
<circle cx="357.5" cy="75.4" r="0.6" fill="#4a7a70" opacity="0.6"/>
<circle cx="342.1" cy="76.0" r="0.6" fill="#4a7a70" opacity="0.6"/>
<circle cx="357.3" cy="64.8" r="0.6" fill="#9ab8b8" opacity="0.6"/>
<circle cx="343.7" cy="72.2" r="0.6" fill="#4a7a70" opacity="0.6"/>
<circle cx="346.6" cy="82.5" r="0.6" fill="#b8d4d4" opacity="0.6"/>
<circle cx="345.0" cy="62.8" r="0.6" fill="#b8d4d4" opacity="0.6"/>
<circle cx="347.1" cy="75.1" r="0.6" fill="#4a7a70" opacity="0.6"/>
<circle cx="352.0" cy="62.8" r="0.6" fill="#4a7a70" opacity="0.6"/>
<circle cx="349.1" cy="76.1" r="0.6" fill="#9ab8b8" opacity="0.6"/>
<circle cx="353.6" cy="73.6" r="0.6" fill="#b8d4d4" opacity="0.6"/>
<circle cx="342.9" cy="63.7" r="0.6" fill="#9ab8b8" opacity="0.6"/>
<circle cx="349.5" cy="77.9" r="0.6" fill="#4a7a70" opacity="0.6"/>
<circle cx="342.1" cy="80.0" r="0.6" fill="#9ab8b8" opacity="0.6"/>
<circle cx="346.0" cy="72.1" r="0.6" fill="#4a7a70" opacity="0.6"/>
<circle cx="357.0" cy="63.2" r="0.6" fill="#b8d4d4" opacity="0.6"/>
<circle cx="341.8" cy="78.0" r="0.6" fill="#4a7a70" opacity="0.6"/>
<circle cx="345.4" cy="71.7" r="0.6" fill="#4a7a70" opacity="0.6"/>
<circle cx="357.4" cy="72.3" r="0.6" fill="#4a7a70" opacity="0.6"/>
<circle cx="352.5" cy="81.1" r="0.6" fill="#b8d4d4" opacity="0.6"/>
<circle cx="353.1" cy="62.8" r="0.6" fill="#4a7a70" opacity="0.6"/>
<circle cx="357.4" cy="81.1" r="0.6" fill="#b8d4d4" opacity="0.6"/>
<circle cx="342.1" cy="76.1" r="0.6" fill="#9ab8b8" opacity="0.6"/>
<path d="M404.2,83.0 C404.7,72.7 410.1,60.1 415.0,60.1 C419.9,60.1 425.3,72.7 425.8,83.0z" fill="url(#tipA)"/>
<circle cx="420.0" cy="62.8" r="0.6" fill="#9ab8b8" opacity="0.6"/>
<circle cx="411.2" cy="69.6" r="0.6" fill="#b8d4d4" opacity="0.6"/>
<circle cx="421.0" cy="62.1" r="0.6" fill="#b8d4d4" opacity="0.6"/>
<circle cx="408.6" cy="63.1" r="0.6" fill="#9ab8b8" opacity="0.6"/>
<circle cx="423.4" cy="62.2" r="0.6" fill="#b8d4d4" opacity="0.6"/>
<circle cx="414.4" cy="63.8" r="0.6" fill="#9ab8b8" opacity="0.6"/>
<circle cx="422.7" cy="78.7" r="0.6" fill="#9ab8b8" opacity="0.6"/>
<circle cx="410.1" cy="78.2" r="0.6" fill="#9ab8b8" opacity="0.6"/>
<circle cx="420.5" cy="68.3" r="0.6" fill="#b8d4d4" opacity="0.6"/>
<circle cx="407.5" cy="67.5" r="0.6" fill="#9ab8b8" opacity="0.6"/>
<circle cx="409.0" cy="65.3" r="0.6" fill="#9ab8b8" opacity="0.6"/>
<circle cx="422.0" cy="81.3" r="0.6" fill="#b8d4d4" opacity="0.6"/>
<circle cx="420.6" cy="68.4" r="0.6" fill="#4a7a70" opacity="0.6"/>
<circle cx="409.8" cy="67.4" r="0.6" fill="#b8d4d4" opacity="0.6"/>
<circle cx="407.8" cy="63.2" r="0.6" fill="#b8d4d4" opacity="0.6"/>
<circle cx="421.3" cy="75.5" r="0.6" fill="#9ab8b8" opacity="0.6"/>
<circle cx="414.7" cy="78.7" r="0.6" fill="#4a7a70" opacity="0.6"/>
<circle cx="416.9" cy="71.1" r="0.6" fill="#4a7a70" opacity="0.6"/>
<circle cx="414.1" cy="76.5" r="0.6" fill="#b8d4d4" opacity="0.6"/>
<circle cx="421.9" cy="67.6" r="0.6" fill="#4a7a70" opacity="0.6"/>
<circle cx="422.4" cy="66.8" r="0.6" fill="#b8d4d4" opacity="0.6"/>
<circle cx="417.9" cy="71.2" r="0.6" fill="#b8d4d4" opacity="0.6"/>
<circle cx="409.9" cy="81.6" r="0.6" fill="#4a7a70" opacity="0.6"/>
<circle cx="417.2" cy="62.6" r="0.6" fill="#9ab8b8" opacity="0.6"/>
<circle cx="418.8" cy="64.8" r="0.6" fill="#9ab8b8" opacity="0.6"/>
<circle cx="414.0" cy="66.5" r="0.6" fill="#4a7a70" opacity="0.6"/>
<circle cx="419.1" cy="67.5" r="0.6" fill="#9ab8b8" opacity="0.6"/>
<circle cx="419.5" cy="80.3" r="0.6" fill="#9ab8b8" opacity="0.6"/>
<circle cx="412.8" cy="65.5" r="0.6" fill="#4a7a70" opacity="0.6"/>
<circle cx="423.3" cy="69.7" r="0.6" fill="#9ab8b8" opacity="0.6"/>
<circle cx="416.5" cy="66.1" r="0.6" fill="#4a7a70" opacity="0.6"/>
<circle cx="418.6" cy="76.2" r="0.6" fill="#9ab8b8" opacity="0.6"/>
<circle cx="412.8" cy="78.0" r="0.6" fill="#b8d4d4" opacity="0.6"/>
<circle cx="408.6" cy="64.3" r="0.6" fill="#9ab8b8" opacity="0.6"/>
<circle cx="413.9" cy="67.7" r="0.6" fill="#9ab8b8" opacity="0.6"/>
<circle cx="411.7" cy="79.8" r="0.6" fill="#4a7a70" opacity="0.6"/>
<circle cx="422.2" cy="78.6" r="0.6" fill="#4a7a70" opacity="0.6"/>
<circle cx="414.0" cy="73.1" r="0.6" fill="#4a7a70" opacity="0.6"/>
<circle cx="409.9" cy="69.2" r="0.6" fill="#b8d4d4" opacity="0.6"/>
<circle cx="408.3" cy="68.5" r="0.6" fill="#b8d4d4" opacity="0.6"/>
<circle cx="418.0" cy="69.3" r="0.6" fill="#9ab8b8" opacity="0.6"/>
<circle cx="417.6" cy="73.7" r="0.6" fill="#4a7a70" opacity="0.6"/>
<circle cx="413.8" cy="70.4" r="0.6" fill="#b8d4d4" opacity="0.6"/>
<circle cx="409.5" cy="65.5" r="0.6" fill="#b8d4d4" opacity="0.6"/>
<circle cx="411.3" cy="80.0" r="0.6" fill="#4a7a70" opacity="0.6"/>
<circle cx="420.1" cy="80.4" r="0.6" fill="#4a7a70" opacity="0.6"/>
<circle cx="420.1" cy="63.4" r="0.6" fill="#9ab8b8" opacity="0.6"/>
<circle cx="421.7" cy="81.9" r="0.6" fill="#b8d4d4" opacity="0.6"/>
<circle cx="420.4" cy="78.9" r="0.6" fill="#4a7a70" opacity="0.6"/>
<circle cx="412.5" cy="77.7" r="0.6" fill="#b8d4d4" opacity="0.6"/>
<circle cx="415.5" cy="79.4" r="0.6" fill="#4a7a70" opacity="0.6"/>
<circle cx="418.5" cy="67.1" r="0.6" fill="#4a7a70" opacity="0.6"/>
<circle cx="420.0" cy="80.5" r="0.6" fill="#9ab8b8" opacity="0.6"/>
<circle cx="417.6" cy="77.1" r="0.6" fill="#b8d4d4" opacity="0.6"/>
<circle cx="415.0" cy="66.3" r="0.6" fill="#b8d4d4" opacity="0.6"/>
<circle cx="420.1" cy="77.7" r="0.6" fill="#9ab8b8" opacity="0.6"/>
<circle cx="417.5" cy="76.1" r="0.6" fill="#9ab8b8" opacity="0.6"/>
<circle cx="423.3" cy="65.7" r="0.6" fill="#9ab8b8" opacity="0.6"/>
<circle cx="417.9" cy="62.1" r="0.6" fill="#4a7a70" opacity="0.6"/>
<circle cx="408.8" cy="74.4" r="0.6" fill="#9ab8b8" opacity="0.6"/>
<circle cx="414.7" cy="77.2" r="0.6" fill="#b8d4d4" opacity="0.6"/>
<circle cx="421.0" cy="73.2" r="0.6" fill="#b8d4d4" opacity="0.6"/>
<circle cx="407.5" cy="79.8" r="0.6" fill="#b8d4d4" opacity="0.6"/>
<circle cx="408.4" cy="69.7" r="0.6" fill="#b8d4d4" opacity="0.6"/>
<path d="M438.4,82.0 C438.7,75.0 441.7,66.5 444.4,66.5 C447.1,66.5 450.1,75.0 450.4,82.0z" fill="url(#tipA)"/>
<circle cx="440.8" cy="70.4" r="0.6" fill="#9ab8b8" opacity="0.6"/>
<circle cx="447.2" cy="69.0" r="0.6" fill="#4a7a70" opacity="0.6"/>
<circle cx="440.5" cy="72.4" r="0.6" fill="#b8d4d4" opacity="0.6"/>
<circle cx="446.6" cy="75.2" r="0.6" fill="#4a7a70" opacity="0.6"/>
<circle cx="442.8" cy="72.8" r="0.6" fill="#4a7a70" opacity="0.6"/>
<circle cx="441.1" cy="69.1" r="0.6" fill="#9ab8b8" opacity="0.6"/>
<circle cx="447.9" cy="69.5" r="0.6" fill="#9ab8b8" opacity="0.6"/>
<circle cx="443.1" cy="78.5" r="0.6" fill="#4a7a70" opacity="0.6"/>
<circle cx="442.9" cy="77.7" r="0.6" fill="#4a7a70" opacity="0.6"/>
<circle cx="442.8" cy="76.5" r="0.6" fill="#4a7a70" opacity="0.6"/>
<circle cx="440.8" cy="76.3" r="0.6" fill="#9ab8b8" opacity="0.6"/>
<circle cx="440.0" cy="73.2" r="0.6" fill="#b8d4d4" opacity="0.6"/>
<circle cx="445.0" cy="71.9" r="0.6" fill="#4a7a70" opacity="0.6"/>
<circle cx="448.5" cy="73.5" r="0.6" fill="#b8d4d4" opacity="0.6"/>
<circle cx="444.8" cy="71.9" r="0.6" fill="#b8d4d4" opacity="0.6"/>
<circle cx="445.7" cy="74.8" r="0.6" fill="#b8d4d4" opacity="0.6"/>
<circle cx="446.5" cy="69.1" r="0.6" fill="#4a7a70" opacity="0.6"/>
<circle cx="448.1" cy="69.2" r="0.6" fill="#9ab8b8" opacity="0.6"/>
<circle cx="441.0" cy="78.3" r="0.6" fill="#4a7a70" opacity="0.6"/>
<circle cx="440.5" cy="76.4" r="0.6" fill="#4a7a70" opacity="0.6"/>
<circle cx="446.4" cy="80.9" r="0.6" fill="#4a7a70" opacity="0.6"/>
<circle cx="445.0" cy="76.1" r="0.6" fill="#b8d4d4" opacity="0.6"/>
<circle cx="444.7" cy="77.2" r="0.6" fill="#b8d4d4" opacity="0.6"/>
<circle cx="445.5" cy="71.3" r="0.6" fill="#9ab8b8" opacity="0.6"/>
<circle cx="441.4" cy="70.0" r="0.6" fill="#4a7a70" opacity="0.6"/>
<circle cx="448.0" cy="71.6" r="0.6" fill="#9ab8b8" opacity="0.6"/>
<circle cx="444.6" cy="75.0" r="0.6" fill="#9ab8b8" opacity="0.6"/>
<circle cx="446.7" cy="72.6" r="0.6" fill="#b8d4d4" opacity="0.6"/>
<circle cx="440.2" cy="80.8" r="0.6" fill="#4a7a70" opacity="0.6"/>
<circle cx="443.6" cy="77.2" r="0.6" fill="#b8d4d4" opacity="0.6"/>
<circle cx="439.7" cy="70.1" r="0.6" fill="#4a7a70" opacity="0.6"/>
<circle cx="442.1" cy="75.4" r="0.6" fill="#9ab8b8" opacity="0.6"/>
<circle cx="447.3" cy="72.8" r="0.6" fill="#b8d4d4" opacity="0.6"/>
<circle cx="442.6" cy="78.7" r="0.6" fill="#4a7a70" opacity="0.6"/>
<circle cx="448.3" cy="79.6" r="0.6" fill="#4a7a70" opacity="0.6"/>
<circle cx="448.4" cy="75.4" r="0.6" fill="#9ab8b8" opacity="0.6"/>
<path d="M481.4,81.0 C481.8,69.4 485.6,55.2 489.0,55.2 C492.4,55.2 496.2,69.4 496.6,81.0z" fill="url(#tipA)"/>
<circle cx="483.6" cy="63.2" r="0.6" fill="#4a7a70" opacity="0.6"/>
<circle cx="494.3" cy="67.5" r="0.6" fill="#4a7a70" opacity="0.6"/>
<circle cx="488.3" cy="78.1" r="0.6" fill="#9ab8b8" opacity="0.6"/>
<circle cx="490.0" cy="73.8" r="0.6" fill="#9ab8b8" opacity="0.6"/>
<circle cx="487.0" cy="61.5" r="0.6" fill="#b8d4d4" opacity="0.6"/>
<circle cx="490.7" cy="67.5" r="0.6" fill="#9ab8b8" opacity="0.6"/>
<circle cx="487.4" cy="74.4" r="0.6" fill="#9ab8b8" opacity="0.6"/>
<circle cx="489.3" cy="59.1" r="0.6" fill="#4a7a70" opacity="0.6"/>
<circle cx="484.9" cy="75.6" r="0.6" fill="#9ab8b8" opacity="0.6"/>
<circle cx="494.1" cy="59.3" r="0.6" fill="#4a7a70" opacity="0.6"/>
<circle cx="490.4" cy="57.7" r="0.6" fill="#9ab8b8" opacity="0.6"/>
<circle cx="488.0" cy="69.6" r="0.6" fill="#4a7a70" opacity="0.6"/>
<circle cx="489.3" cy="73.0" r="0.6" fill="#b8d4d4" opacity="0.6"/>
<circle cx="487.9" cy="59.8" r="0.6" fill="#9ab8b8" opacity="0.6"/>
<circle cx="489.5" cy="63.3" r="0.6" fill="#b8d4d4" opacity="0.6"/>
<circle cx="483.2" cy="70.3" r="0.6" fill="#b8d4d4" opacity="0.6"/>
<circle cx="483.5" cy="72.7" r="0.6" fill="#9ab8b8" opacity="0.6"/>
<circle cx="487.6" cy="71.6" r="0.6" fill="#4a7a70" opacity="0.6"/>
<circle cx="491.2" cy="75.2" r="0.6" fill="#b8d4d4" opacity="0.6"/>
<circle cx="485.5" cy="74.7" r="0.6" fill="#9ab8b8" opacity="0.6"/>
<circle cx="484.9" cy="59.9" r="0.6" fill="#b8d4d4" opacity="0.6"/>
<circle cx="493.9" cy="77.5" r="0.6" fill="#4a7a70" opacity="0.6"/>
<circle cx="488.7" cy="73.9" r="0.6" fill="#4a7a70" opacity="0.6"/>
<circle cx="494.7" cy="78.7" r="0.6" fill="#4a7a70" opacity="0.6"/>
<circle cx="483.4" cy="69.0" r="0.6" fill="#b8d4d4" opacity="0.6"/>
<circle cx="483.4" cy="62.6" r="0.6" fill="#b8d4d4" opacity="0.6"/>
<circle cx="486.4" cy="65.4" r="0.6" fill="#9ab8b8" opacity="0.6"/>
<circle cx="494.7" cy="70.2" r="0.6" fill="#b8d4d4" opacity="0.6"/>
<circle cx="486.8" cy="69.5" r="0.6" fill="#9ab8b8" opacity="0.6"/>
<circle cx="488.2" cy="75.7" r="0.6" fill="#9ab8b8" opacity="0.6"/>
<circle cx="485.9" cy="60.5" r="0.6" fill="#4a7a70" opacity="0.6"/>
<circle cx="485.6" cy="68.4" r="0.6" fill="#4a7a70" opacity="0.6"/>
<circle cx="489.6" cy="74.0" r="0.6" fill="#9ab8b8" opacity="0.6"/>
<circle cx="485.6" cy="58.8" r="0.6" fill="#b8d4d4" opacity="0.6"/>
<circle cx="484.0" cy="78.5" r="0.6" fill="#b8d4d4" opacity="0.6"/>
<circle cx="493.4" cy="71.6" r="0.6" fill="#9ab8b8" opacity="0.6"/>
<circle cx="487.2" cy="61.8" r="0.6" fill="#9ab8b8" opacity="0.6"/>
<circle cx="484.8" cy="76.8" r="0.6" fill="#4a7a70" opacity="0.6"/>
<circle cx="493.2" cy="59.3" r="0.6" fill="#4a7a70" opacity="0.6"/>
<circle cx="483.2" cy="72.4" r="0.6" fill="#b8d4d4" opacity="0.6"/>
<circle cx="490.2" cy="75.3" r="0.6" fill="#4a7a70" opacity="0.6"/>
<circle cx="493.9" cy="66.2" r="0.6" fill="#b8d4d4" opacity="0.6"/>
<circle cx="494.9" cy="63.9" r="0.6" fill="#9ab8b8" opacity="0.6"/>
<circle cx="484.4" cy="62.6" r="0.6" fill="#b8d4d4" opacity="0.6"/>
<circle cx="494.6" cy="71.9" r="0.6" fill="#b8d4d4" opacity="0.6"/>
<path d="M535.8,80.0 C536.2,68.8 540.7,55.2 544.7,55.2 C548.7,55.2 553.2,68.8 553.6,80.0z" fill="url(#tipA)"/>
<circle cx="551.5" cy="69.6" r="0.6" fill="#9ab8b8" opacity="0.6"/>
<circle cx="549.4" cy="69.4" r="0.6" fill="#b8d4d4" opacity="0.6"/>
<circle cx="549.6" cy="77.5" r="0.6" fill="#b8d4d4" opacity="0.6"/>
<circle cx="548.8" cy="70.7" r="0.6" fill="#9ab8b8" opacity="0.6"/>
<circle cx="547.8" cy="72.7" r="0.6" fill="#9ab8b8" opacity="0.6"/>
<circle cx="544.4" cy="78.8" r="0.6" fill="#9ab8b8" opacity="0.6"/>
<circle cx="549.4" cy="63.8" r="0.6" fill="#4a7a70" opacity="0.6"/>
<circle cx="546.4" cy="70.0" r="0.6" fill="#4a7a70" opacity="0.6"/>
<circle cx="544.9" cy="64.3" r="0.6" fill="#4a7a70" opacity="0.6"/>
<circle cx="547.5" cy="66.3" r="0.6" fill="#9ab8b8" opacity="0.6"/>
<circle cx="538.2" cy="74.3" r="0.6" fill="#9ab8b8" opacity="0.6"/>
<circle cx="541.3" cy="66.1" r="0.6" fill="#9ab8b8" opacity="0.6"/>
<circle cx="550.3" cy="73.7" r="0.6" fill="#b8d4d4" opacity="0.6"/>
<circle cx="543.5" cy="65.6" r="0.6" fill="#4a7a70" opacity="0.6"/>
<circle cx="538.3" cy="70.2" r="0.6" fill="#b8d4d4" opacity="0.6"/>
<circle cx="543.6" cy="73.8" r="0.6" fill="#4a7a70" opacity="0.6"/>
<circle cx="537.9" cy="64.1" r="0.6" fill="#b8d4d4" opacity="0.6"/>
<circle cx="544.0" cy="61.5" r="0.6" fill="#4a7a70" opacity="0.6"/>
<circle cx="549.4" cy="76.5" r="0.6" fill="#4a7a70" opacity="0.6"/>
<circle cx="538.6" cy="75.2" r="0.6" fill="#4a7a70" opacity="0.6"/>
<circle cx="549.3" cy="60.1" r="0.6" fill="#b8d4d4" opacity="0.6"/>
<circle cx="550.9" cy="61.8" r="0.6" fill="#9ab8b8" opacity="0.6"/>
<circle cx="544.5" cy="58.3" r="0.6" fill="#9ab8b8" opacity="0.6"/>
<circle cx="545.7" cy="59.6" r="0.6" fill="#b8d4d4" opacity="0.6"/>
<circle cx="549.8" cy="70.9" r="0.6" fill="#b8d4d4" opacity="0.6"/>
<circle cx="549.5" cy="76.8" r="0.6" fill="#4a7a70" opacity="0.6"/>
<circle cx="551.2" cy="74.1" r="0.6" fill="#b8d4d4" opacity="0.6"/>
<circle cx="546.8" cy="65.5" r="0.6" fill="#4a7a70" opacity="0.6"/>
<circle cx="540.2" cy="69.5" r="0.6" fill="#9ab8b8" opacity="0.6"/>
<circle cx="540.4" cy="68.3" r="0.6" fill="#9ab8b8" opacity="0.6"/>
<circle cx="548.4" cy="57.7" r="0.6" fill="#b8d4d4" opacity="0.6"/>
<circle cx="547.1" cy="75.2" r="0.6" fill="#4a7a70" opacity="0.6"/>
<circle cx="544.6" cy="65.0" r="0.6" fill="#b8d4d4" opacity="0.6"/>
<circle cx="551.1" cy="64.9" r="0.6" fill="#4a7a70" opacity="0.6"/>
<circle cx="542.0" cy="66.0" r="0.6" fill="#9ab8b8" opacity="0.6"/>
<circle cx="550.4" cy="64.9" r="0.6" fill="#4a7a70" opacity="0.6"/>
<circle cx="551.4" cy="69.6" r="0.6" fill="#b8d4d4" opacity="0.6"/>
<circle cx="540.2" cy="61.4" r="0.6" fill="#9ab8b8" opacity="0.6"/>
<circle cx="544.6" cy="74.3" r="0.6" fill="#b8d4d4" opacity="0.6"/>
<circle cx="544.4" cy="78.9" r="0.6" fill="#9ab8b8" opacity="0.6"/>
<circle cx="547.5" cy="62.8" r="0.6" fill="#4a7a70" opacity="0.6"/>
<circle cx="543.1" cy="78.6" r="0.6" fill="#4a7a70" opacity="0.6"/>
<circle cx="539.4" cy="68.0" r="0.6" fill="#9ab8b8" opacity="0.6"/>
<circle cx="548.9" cy="64.2" r="0.6" fill="#9ab8b8" opacity="0.6"/>
<circle cx="549.8" cy="74.2" r="0.6" fill="#4a7a70" opacity="0.6"/>
<circle cx="541.9" cy="75.6" r="0.6" fill="#b8d4d4" opacity="0.6"/>
<circle cx="547.5" cy="74.0" r="0.6" fill="#b8d4d4" opacity="0.6"/>
<circle cx="544.1" cy="74.5" r="0.6" fill="#4a7a70" opacity="0.6"/>
<circle cx="548.3" cy="76.3" r="0.6" fill="#4a7a70" opacity="0.6"/>
<circle cx="549.7" cy="60.0" r="0.6" fill="#b8d4d4" opacity="0.6"/>
<circle cx="542.2" cy="70.8" r="0.6" fill="#b8d4d4" opacity="0.6"/>
<circle cx="547.9" cy="65.7" r="0.6" fill="#9ab8b8" opacity="0.6"/>
<circle cx="543.8" cy="62.2" r="0.6" fill="#b8d4d4" opacity="0.6"/>
<ellipse cx="350.2" cy="86.2" rx="12.8" ry="1.2" fill="#48a060" opacity="0.8"/>
<ellipse cx="415" cy="83.9" rx="12.8" ry="1.2" fill="#48a060" opacity="0.8"/>
<ellipse cx="489" cy="81.3" rx="9.6" ry="1.2" fill="#48a060" opacity="0.8"/>
<ellipse cx="544.7" cy="79.3" rx="10.9" ry="1.2" fill="#48a060" opacity="0.8"/>
<path d="M310,88.4 L567.5,79.3" fill="none" stroke="#111" stroke-width="1.1" stroke-dasharray="2.8,1.8"/>
<circle cx="463.4" cy="15.4" r="0.4" fill="#e8f2fa" opacity="0.85"/>
<circle cx="415.2" cy="40.6" r="0.7" fill="#e8f2fa" opacity="0.85"/>
<circle cx="339.2" cy="49.2" r="0.4" fill="#e8f2fa" opacity="0.85"/>
<circle cx="353.4" cy="52.9" r="0.4" fill="#e8f2fa" opacity="0.85"/>
<circle cx="398.6" cy="30.5" r="0.8" fill="#e8f2fa" opacity="0.85"/>
<circle cx="551.9" cy="18.7" r="0.6" fill="#e8f2fa" opacity="0.85"/>
<circle cx="346.5" cy="56.5" r="0.8" fill="#e8f2fa" opacity="0.85"/>
<circle cx="436.1" cy="39.1" r="0.7" fill="#e8f2fa" opacity="0.85"/>
<circle cx="413.2" cy="18.6" r="0.9" fill="#e8f2fa" opacity="0.85"/>
<circle cx="546.9" cy="20.9" r="0.8" fill="#e8f2fa" opacity="0.85"/>
<circle cx="356.1" cy="57.8" r="0.7" fill="#e8f2fa" opacity="0.85"/>
<circle cx="420.8" cy="28.4" r="0.5" fill="#e8f2fa" opacity="0.85"/>
<circle cx="381.9" cy="51.7" r="0.5" fill="#e8f2fa" opacity="0.85"/>
<circle cx="511.5" cy="39.6" r="0.7" fill="#e8f2fa" opacity="0.85"/>
<circle cx="344.6" cy="55.7" r="0.5" fill="#e8f2fa" opacity="0.85"/>
<circle cx="418.1" cy="61.3" r="0.9" fill="#e8f2fa" opacity="0.85"/>
<circle cx="325.2" cy="34.9" r="0.7" fill="#e8f2fa" opacity="0.85"/>
<circle cx="520.9" cy="61.3" r="0.7" fill="#e8f2fa" opacity="0.85"/>
<circle cx="384.7" cy="44.7" r="0.6" fill="#e8f2fa" opacity="0.85"/>
<circle cx="523.0" cy="49.4" r="0.7" fill="#e8f2fa" opacity="0.85"/>
<circle cx="363.8" cy="24.4" r="0.7" fill="#e8f2fa" opacity="0.85"/>
<circle cx="450.7" cy="51.3" r="0.9" fill="#e8f2fa" opacity="0.85"/>
</g>
<text x="345.2" y="35.3" font-size="10.8" fill="#161414" stroke="#161414" stroke-width="0.22" textLength="30.0" lengthAdjust="spacingAndGlyphs" >Water</text>
<circle cx="324" cy="31.7" r="2.4" fill="#1a1a1a"/><line x1="324" y1="31.7" x2="339.7" y2="31.7" stroke="#1a1a1a" stroke-width="1"/>
<text x="431.5" y="23.5" font-size="11" fill="#161414" stroke="#161414" stroke-width="0.22" textLength="133.2" lengthAdjust="spacingAndGlyphs" >Water–air interface moves</text>
<text x="431.5" y="35.7" font-size="11" fill="#161414" stroke="#161414" stroke-width="0.22" textLength="100.2" lengthAdjust="spacingAndGlyphs" >with water pressure</text>
<text x="372.5" y="124.0" font-size="10.8" fill="#161414" stroke="#161414" stroke-width="0.22" textLength="13.7" lengthAdjust="spacingAndGlyphs" >Air</text>
<circle cx="380.7" cy="97.6" r="2.2" fill="#1a1a1a"/><line x1="380.7" y1="97.6" x2="380.7" y2="112.7" stroke="#1a1a1a" stroke-width="1"/>
<text x="346.4" y="152.8" font-size="10.8" fill="#161414" stroke="#161414" stroke-width="0.22" textLength="89.5" lengthAdjust="spacingAndGlyphs" >Lotus leaf surface</text>
<circle cx="324" cy="150.1" r="2.4" fill="#1a1a1a"/><line x1="324" y1="150.1" x2="339.7" y2="150.1" stroke="#1a1a1a" stroke-width="1"/>
<line x1="468.5" y1="63" x2="468.5" y2="104.5" stroke="#1a1a1a" stroke-width="1.1" marker-start="url(#ahs)" marker-end="url(#ahs)"/>
<circle cx="468.5" cy="84" r="1.5" fill="#1a1a1a"/>
<defs>
<linearGradient id="waterC" x1="0" y1="0" x2="0" y2="1">
 <stop offset="0" stop-color="#5a8fcb"/><stop offset="0.1" stop-color="#6c9fd4"/><stop offset="0.125" stop-color="#90bce2"/><stop offset="0.45" stop-color="#a8cce8"/><stop offset="1" stop-color="#bcdaee"/>
</linearGradient>
<radialGradient id="waterC2" cx="0.9" cy="0.8" r="0.8">
 <stop offset="0" stop-color="#eef6fb" stop-opacity="0.85"/><stop offset="1" stop-color="#e4f0f8" stop-opacity="0"/>
</radialGradient>
<linearGradient id="prismF" x1="0" y1="0" x2="1" y2="0">
 <stop offset="0" stop-color="#e9dcae"/><stop offset="1" stop-color="#e0d0a0"/>
</linearGradient>
<linearGradient id="coneC" gradientUnits="userSpaceOnUse" x1="160" y1="0" x2="276" y2="0">
 <stop offset="0" stop-color="#f6e8a0" stop-opacity="0.8"/><stop offset="0.45" stop-color="#eee8b8" stop-opacity="0.55"/><stop offset="1" stop-color="#c8d4d4" stop-opacity="0.45"/>
</linearGradient>
</defs>
<g clip-path="url(#clipC)">
<rect x="19" y="192" width="256.4" height="159.4" fill="url(#waterC)"/>
<rect x="19" y="192" width="256.4" height="159.4" fill="url(#waterC2)"/>
<ellipse cx="18.1" cy="195.0" rx="26.6" ry="1.5" fill="#c6dcf2" opacity="0.5"/>
<ellipse cx="50.4" cy="195.0" rx="23.1" ry="1.6" fill="#c6dcf2" opacity="0.5"/>
<ellipse cx="52.6" cy="206.3" rx="32.6" ry="0.9" fill="#c6dcf2" opacity="0.5"/>
<ellipse cx="151.6" cy="201.1" rx="27.1" ry="1.8" fill="#c6dcf2" opacity="0.5"/>
<ellipse cx="38.7" cy="193.4" rx="38.7" ry="1.2" fill="#c6dcf2" opacity="0.5"/>
<ellipse cx="65.6" cy="198.9" rx="26.0" ry="1.8" fill="#c6dcf2" opacity="0.5"/>
<ellipse cx="68.6" cy="196.9" rx="30.9" ry="1.3" fill="#c6dcf2" opacity="0.5"/>
<ellipse cx="258.2" cy="208.1" rx="25.8" ry="1.0" fill="#c6dcf2" opacity="0.5"/>
<ellipse cx="228.3" cy="210.8" rx="18.7" ry="1.5" fill="#c6dcf2" opacity="0.5"/>
<ellipse cx="236.4" cy="204.7" rx="22.8" ry="1.6" fill="#c6dcf2" opacity="0.5"/>
<ellipse cx="201.1" cy="196.5" rx="32.1" ry="1.0" fill="#c6dcf2" opacity="0.5"/>
<ellipse cx="25.6" cy="199.0" rx="25.4" ry="1.2" fill="#c6dcf2" opacity="0.5"/>
<ellipse cx="179.9" cy="208.1" rx="39.1" ry="1.8" fill="#c6dcf2" opacity="0.5"/>
<ellipse cx="268.3" cy="207.2" rx="24.7" ry="1.0" fill="#c6dcf2" opacity="0.5"/>
<ellipse cx="174.1" cy="202.8" rx="32.8" ry="0.9" fill="#c6dcf2" opacity="0.5"/>
<ellipse cx="64.2" cy="209.6" rx="31.2" ry="1.5" fill="#c6dcf2" opacity="0.5"/>
<ellipse cx="39.4" cy="200.2" rx="38.0" ry="1.4" fill="#c6dcf2" opacity="0.5"/>
<ellipse cx="267.9" cy="196.5" rx="28.0" ry="1.6" fill="#c6dcf2" opacity="0.5"/>
<ellipse cx="128.4" cy="207.2" rx="30.4" ry="0.9" fill="#c6dcf2" opacity="0.5"/>
<ellipse cx="40.2" cy="210.7" rx="20.6" ry="1.0" fill="#c6dcf2" opacity="0.5"/>
<ellipse cx="100.5" cy="205.8" rx="36.8" ry="1.3" fill="#c6dcf2" opacity="0.5"/>
<ellipse cx="142.0" cy="207.2" rx="24.1" ry="1.2" fill="#c6dcf2" opacity="0.5"/>
<ellipse cx="171.2" cy="204.5" rx="18.8" ry="0.9" fill="#c6dcf2" opacity="0.5"/>
<ellipse cx="50.2" cy="206.1" rx="33.2" ry="1.8" fill="#c6dcf2" opacity="0.5"/>
<path d="M19,307 L60,295 L104.3,280.2 L180,277.5 L225,294.6 L183.7,318.8 L94,318.8 L19,331z" fill="#c3c39b"/>
<path d="M19,314 L75,298 M19,321 L85,304 M19,326 L92,310" stroke="#dcdab6" stroke-width="0.9"/>
<path d="M76,293.5 L104.3,283.2 L178,280.8 L213.5,294.5 L190,305.5 L97,305.5z" fill="#343a2e"/>
<defs><linearGradient id="goldC" x1="0" y1="0" x2="1" y2="0"><stop offset="0" stop-color="#6e4e18"/><stop offset="0.5" stop-color="#a87820"/><stop offset="1" stop-color="#c89028"/></linearGradient></defs>
<path d="M97,302 L192,302 L186.5,312.5 L94.5,312.5z" fill="url(#goldC)"/>
<path d="M104.3,254 L115.7,259.6 L115.7,302.9 L104.3,297.5z" fill="#ece6cc"/>
<path d="M107,256 L112,258.5 L112,300.5 L107,298z" fill="#fbf9f0" opacity="0.9"/>
<path d="M115.7,259.6 L160,259.6 L160,302.9 L115.7,302.9z" fill="url(#prismF)"/>
<path d="M160,259.6 L179.6,254 L179.6,297.5 L160,302.9z" fill="#d8ca9a"/>
<path d="M104.3,254 L113,250.3 L170,250.3 L179.6,254 L160,259.6 L115.7,259.6z" fill="#c4ad74"/>
<ellipse cx="112.0" cy="251.6" rx="1.6" ry="0.9" fill="#b8d4e8"/>
<ellipse cx="116.5" cy="251.6" rx="1.6" ry="0.9" fill="#b8d4e8"/>
<ellipse cx="121.0" cy="251.6" rx="1.6" ry="0.9" fill="#b8d4e8"/>
<ellipse cx="125.5" cy="251.6" rx="1.6" ry="0.9" fill="#b8d4e8"/>
<ellipse cx="130.0" cy="251.6" rx="1.6" ry="0.9" fill="#b8d4e8"/>
<ellipse cx="134.5" cy="251.6" rx="1.6" ry="0.9" fill="#b8d4e8"/>
<ellipse cx="139.0" cy="251.6" rx="1.6" ry="0.9" fill="#b8d4e8"/>
<ellipse cx="143.5" cy="251.6" rx="1.6" ry="0.9" fill="#b8d4e8"/>
<ellipse cx="148.0" cy="251.6" rx="1.6" ry="0.9" fill="#b8d4e8"/>
<ellipse cx="152.5" cy="251.6" rx="1.6" ry="0.9" fill="#b8d4e8"/>
<ellipse cx="157.0" cy="251.6" rx="1.6" ry="0.9" fill="#b8d4e8"/>
<ellipse cx="161.5" cy="251.6" rx="1.6" ry="0.9" fill="#b8d4e8"/>
<ellipse cx="166.0" cy="251.6" rx="1.6" ry="0.9" fill="#b8d4e8"/>
<ellipse cx="170.5" cy="251.6" rx="1.6" ry="0.9" fill="#b8d4e8"/>
<ellipse cx="113.0" cy="253.8" rx="1.6" ry="0.9" fill="#b8d4e8"/>
<ellipse cx="117.5" cy="253.8" rx="1.6" ry="0.9" fill="#b8d4e8"/>
<ellipse cx="122.0" cy="253.8" rx="1.6" ry="0.9" fill="#b8d4e8"/>
<ellipse cx="126.5" cy="253.8" rx="1.6" ry="0.9" fill="#b8d4e8"/>
<ellipse cx="131.0" cy="253.8" rx="1.6" ry="0.9" fill="#b8d4e8"/>
<ellipse cx="135.5" cy="253.8" rx="1.6" ry="0.9" fill="#b8d4e8"/>
<ellipse cx="140.0" cy="253.8" rx="1.6" ry="0.9" fill="#b8d4e8"/>
<ellipse cx="144.5" cy="253.8" rx="1.6" ry="0.9" fill="#b8d4e8"/>
<ellipse cx="149.0" cy="253.8" rx="1.6" ry="0.9" fill="#b8d4e8"/>
<ellipse cx="153.5" cy="253.8" rx="1.6" ry="0.9" fill="#b8d4e8"/>
<ellipse cx="158.0" cy="253.8" rx="1.6" ry="0.9" fill="#b8d4e8"/>
<ellipse cx="162.5" cy="253.8" rx="1.6" ry="0.9" fill="#b8d4e8"/>
<ellipse cx="167.0" cy="253.8" rx="1.6" ry="0.9" fill="#b8d4e8"/>
<ellipse cx="171.5" cy="253.8" rx="1.6" ry="0.9" fill="#b8d4e8"/>
<ellipse cx="109.6" cy="256.0" rx="1.6" ry="0.9" fill="#b8d4e8"/>
<ellipse cx="114.1" cy="256.0" rx="1.6" ry="0.9" fill="#b8d4e8"/>
<ellipse cx="118.6" cy="256.0" rx="1.6" ry="0.9" fill="#b8d4e8"/>
<ellipse cx="123.1" cy="256.0" rx="1.6" ry="0.9" fill="#b8d4e8"/>
<ellipse cx="127.6" cy="256.0" rx="1.6" ry="0.9" fill="#b8d4e8"/>
<ellipse cx="132.1" cy="256.0" rx="1.6" ry="0.9" fill="#b8d4e8"/>
<ellipse cx="136.6" cy="256.0" rx="1.6" ry="0.9" fill="#b8d4e8"/>
<ellipse cx="141.1" cy="256.0" rx="1.6" ry="0.9" fill="#b8d4e8"/>
<ellipse cx="145.6" cy="256.0" rx="1.6" ry="0.9" fill="#b8d4e8"/>
<ellipse cx="150.1" cy="256.0" rx="1.6" ry="0.9" fill="#b8d4e8"/>
<ellipse cx="154.6" cy="256.0" rx="1.6" ry="0.9" fill="#b8d4e8"/>
<ellipse cx="159.1" cy="256.0" rx="1.6" ry="0.9" fill="#b8d4e8"/>
<ellipse cx="163.6" cy="256.0" rx="1.6" ry="0.9" fill="#b8d4e8"/>
<ellipse cx="168.1" cy="256.0" rx="1.6" ry="0.9" fill="#b8d4e8"/>
<ellipse cx="110.6" cy="258.2" rx="1.6" ry="0.9" fill="#b8d4e8"/>
<ellipse cx="115.1" cy="258.2" rx="1.6" ry="0.9" fill="#b8d4e8"/>
<ellipse cx="119.6" cy="258.2" rx="1.6" ry="0.9" fill="#b8d4e8"/>
<ellipse cx="124.1" cy="258.2" rx="1.6" ry="0.9" fill="#b8d4e8"/>
<ellipse cx="128.6" cy="258.2" rx="1.6" ry="0.9" fill="#b8d4e8"/>
<ellipse cx="133.1" cy="258.2" rx="1.6" ry="0.9" fill="#b8d4e8"/>
<ellipse cx="137.6" cy="258.2" rx="1.6" ry="0.9" fill="#b8d4e8"/>
<ellipse cx="142.1" cy="258.2" rx="1.6" ry="0.9" fill="#b8d4e8"/>
<ellipse cx="146.6" cy="258.2" rx="1.6" ry="0.9" fill="#b8d4e8"/>
<ellipse cx="151.1" cy="258.2" rx="1.6" ry="0.9" fill="#b8d4e8"/>
<ellipse cx="155.6" cy="258.2" rx="1.6" ry="0.9" fill="#b8d4e8"/>
<ellipse cx="160.1" cy="258.2" rx="1.6" ry="0.9" fill="#b8d4e8"/>
<ellipse cx="164.6" cy="258.2" rx="1.6" ry="0.9" fill="#b8d4e8"/>
<path d="M92,300 L104.3,297.5 L115.7,302.9 L104,306z" fill="#e4e6ea" opacity="0.9"/>
<circle cx="189" cy="299.5" r="2.6" fill="#cfe0ee" stroke="#f4f8fc" stroke-width="0.6"/>
<circle cx="184" cy="302.5" r="1.4" fill="#cfe0ee" stroke="#f4f8fc" stroke-width="0.6"/>
<circle cx="193" cy="296" r="1.2" fill="#cfe0ee" stroke="#f4f8fc" stroke-width="0.6"/>
<circle cx="182" cy="297" r="1.0" fill="#cfe0ee" stroke="#f4f8fc" stroke-width="0.6"/>
<circle cx="201" cy="295" r="1.0" fill="#cfe0ee" stroke="#f4f8fc" stroke-width="0.6"/>
<circle cx="207" cy="293" r="0.8" fill="#cfe0ee" stroke="#f4f8fc" stroke-width="0.6"/>
<circle cx="221.2" cy="270.5" r="0.9" fill="#eef4fa" opacity="0.8"/>
<circle cx="266.9" cy="279.9" r="0.5" fill="#eef4fa" opacity="0.8"/>
<circle cx="138.8" cy="273.3" r="0.6" fill="#eef4fa" opacity="0.8"/>
<circle cx="69.5" cy="257.5" r="0.9" fill="#eef4fa" opacity="0.8"/>
<circle cx="70.5" cy="306.4" r="0.6" fill="#eef4fa" opacity="0.8"/>
<circle cx="100.6" cy="327.1" r="0.6" fill="#eef4fa" opacity="0.8"/>
<circle cx="98.6" cy="290.5" r="0.8" fill="#eef4fa" opacity="0.8"/>
<circle cx="170.1" cy="331.0" r="0.7" fill="#eef4fa" opacity="0.8"/>
<circle cx="170.0" cy="316.7" r="0.7" fill="#eef4fa" opacity="0.8"/>
<circle cx="210.6" cy="291.7" r="0.6" fill="#eef4fa" opacity="0.8"/>
<circle cx="85.9" cy="323.3" r="0.9" fill="#eef4fa" opacity="0.8"/>
<circle cx="258.0" cy="314.0" r="0.8" fill="#eef4fa" opacity="0.8"/>
<circle cx="94.9" cy="330.3" r="0.6" fill="#eef4fa" opacity="0.8"/>
<circle cx="149.2" cy="259.1" r="0.7" fill="#eef4fa" opacity="0.8"/>
</g>
<path d="M161.7,261.4 C166.2,261.9 179.6,263.6 189.0,264.3 C198.4,265.0 210.1,265.5 218.2,265.3 C226.3,265.1 231.4,264.5 237.6,263.4 C243.8,262.3 250.3,260.4 255.2,258.5 C260.1,256.6 263.2,254.1 266.8,251.7 C270.4,249.3 272.9,247.7 276.6,243.9 C280.3,240.1 285.0,234.7 289.0,229.0 C293.0,223.3 297.2,215.8 300.8,209.7 C304.4,203.6 308.9,195.1 310.5,192.2 L310.7,351.2 C308.2,348.6 301.7,340.3 296.0,335.4 C290.3,330.5 283.1,326.0 276.6,321.8 C270.1,317.6 263.6,314.0 257.1,310.1 C250.6,306.2 244.1,302.3 237.6,298.4 C231.1,294.5 226.3,291.2 218.2,286.7 C210.1,282.2 198.4,275.4 189.0,271.2 C179.6,267.0 166.2,263.0 161.7,261.4Z" fill="url(#coneC)" clip-path="url(#clipC)"/>
<path d="M161.7,261.4 C166.2,261.9 179.6,263.6 189.0,264.3 C198.4,265.0 210.1,265.5 218.2,265.3 C226.3,265.1 231.4,264.5 237.6,263.4 C243.8,262.3 250.3,260.4 255.2,258.5 C260.1,256.6 263.2,254.1 266.8,251.7 C270.4,249.3 272.9,247.7 276.6,243.9 C280.3,240.1 285.0,234.7 289.0,229.0 C293.0,223.3 297.2,215.8 300.8,209.7 C304.4,203.6 308.9,195.1 310.5,192.2 L310.7,351.2 C308.2,348.6 301.7,340.3 296.0,335.4 C290.3,330.5 283.1,326.0 276.6,321.8 C270.1,317.6 263.6,314.0 257.1,310.1 C250.6,306.2 244.1,302.3 237.6,298.4 C231.1,294.5 226.3,291.2 218.2,286.7 C210.1,282.2 198.4,275.4 189.0,271.2 C179.6,267.0 166.2,263.0 161.7,261.4Z" fill="url(#coneGapC)" clip-path="url(#clipGapC)"/>
<path d="M161.7,261.4 C166.2,261.9 179.6,263.6 189.0,264.3 C198.4,265.0 210.1,265.5 218.2,265.3 C226.3,265.1 231.4,264.5 237.6,263.4 C243.8,262.3 250.3,260.4 255.2,258.5 C260.1,256.6 263.2,254.1 266.8,251.7 C270.4,249.3 272.9,247.7 276.6,243.9 C280.3,240.1 285.0,234.7 289.0,229.0 C293.0,223.3 297.2,215.8 300.8,209.7 C304.4,203.6 308.9,195.1 310.5,192.2" fill="none" stroke="#f0b45a" stroke-width="0.9"/>
<path d="M161.7,261.4 C166.2,263.0 179.6,267.0 189.0,271.2 C198.4,275.4 210.1,282.2 218.2,286.7 C226.3,291.2 231.1,294.5 237.6,298.4 C244.1,302.3 250.6,306.2 257.1,310.1 C263.6,314.0 270.1,317.6 276.6,321.8 C283.1,326.0 290.3,330.5 296.0,335.4 C301.7,340.3 308.2,348.6 310.7,351.2" fill="none" stroke="#f0b45a" stroke-width="0.9"/>
<rect x="143.3" y="193.4" width="87.9" height="21.9" stroke="#111" stroke-width="1.2" fill="none" stroke-dasharray="2.4,1.6"/>
<path d="M135.8,226.2 L179.6,226.2 M183.2,226.2 L215.4,226.2 M230.5,226.2 L240.2,226.2 M243.8,226.2 L259.4,226.2" stroke="#111" stroke-width="1.2" fill="none"/>
<path d="M161.3,226.2 L161.3,207.8 L170.5,207.8 M174.1,207.8 L192.9,207.8 M196.5,207.8 L207.2,207.8 L207.2,246 L183.2,246 M179.6,246 L161.3,246 L161.3,226.2" stroke="#111" stroke-width="1.2" fill="none"/>
<path d="M170.5,203.3 L170.5,212.3 M174.10000000000002,203.3 L174.10000000000002,212.3" stroke="#111" stroke-width="1.3"/>
<path d="M192.89999999999998,203.3 L192.89999999999998,212.3 M196.5,203.3 L196.5,212.3" stroke="#111" stroke-width="1.3"/>
<path d="M179.6,221.7 L179.6,230.7 M183.20000000000002,221.7 L183.20000000000002,230.7" stroke="#111" stroke-width="1.3"/>
<path d="M179.6,241.5 L179.6,250.5 M183.20000000000002,241.5 L183.20000000000002,250.5" stroke="#111" stroke-width="1.3"/>
<path d="M240.2,221.7 L240.2,230.7 M243.8,221.7 L243.8,230.7" stroke="#111" stroke-width="1.3"/>
<path d="M215.4,226.2 L216.6,223.8 L218.4,228.6 L220.2,223.8 L222,228.6 L223.8,223.8 L225.6,228.6 L227.4,223.8 L229.2,228.6 L230.5,226.2" stroke="#111" stroke-width="1.2" fill="none"/>
<circle cx="135.8" cy="226.2" r="1.7" fill="#111"/>
<circle cx="161.3" cy="226.2" r="1.7" fill="#111"/>
<circle cx="207.2" cy="226.2" r="1.7" fill="#111"/>
<circle cx="259.4" cy="226.2" r="1.7" fill="#111"/>
<text x="128.3" y="203.2" font-size="10.5" font-style="italic" fill="#111">C<tspan font-size="6.4" font-style="normal" dy="2">ct</tspan></text>
<text x="145.3" y="203.2" font-size="10.5" font-style="italic" fill="#111">C<tspan font-size="6.4" font-style="normal" dy="2">d,ct</tspan></text>
<text x="198.3" y="203.2" font-size="10.5" font-style="italic" fill="#111">C<tspan font-size="6.4" font-style="normal" dy="2">EDL,ct</tspan></text>
<text x="186.2" y="237.3" font-size="10.5" font-style="italic" fill="#111">C<tspan font-size="6.4" font-style="normal" dy="2">0</tspan></text>
<text x="213.5" y="241.5" font-size="10.5" font-style="italic" fill="#111">R<tspan font-size="6.4" font-style="normal" dy="2">liquid</tspan></text>
<text x="242.5" y="243" font-size="10.5" font-style="italic" fill="#111">C<tspan font-size="6.4" font-style="normal" dy="2">counter</tspan></text>
<text x="187.8" y="256.5" font-size="10.5" font-style="italic" fill="#111">C<tspan font-size="6.4" font-style="normal" dy="2">d+air</tspan></text>
<text x="31.6" y="226.4" font-size="11" fill="#161414" stroke="#161414" stroke-width="0.22" textLength="94.6" lengthAdjust="spacingAndGlyphs" >Structural working</text>
<text x="31.6" y="238.9" font-size="11" fill="#161414" stroke="#161414" stroke-width="0.22" textLength="49.6" lengthAdjust="spacingAndGlyphs" >electrode</text>
<path d="M87.4,235.4 C100,235 110,244 114.2,254.7" fill="none" stroke="#222" stroke-width="0.8"/>
<circle cx="114.2" cy="254.7" r="1.3" fill="#222"/>
<text x="24.3" y="266.0" font-size="11" fill="#161414" stroke="#161414" stroke-width="0.22" textLength="30.5" lengthAdjust="spacingAndGlyphs" >Liquid</text>
<line x1="35.3" y1="273" x2="35.3" y2="289.7" stroke="#222" stroke-width="0.9"/><circle cx="35.3" cy="289.7" r="1.4" fill="#222"/>
<text x="97.7" y="340.4" font-size="11" fill="#161414" stroke="#161414" stroke-width="0.22" textLength="90.7" lengthAdjust="spacingAndGlyphs" >Counterelectrode</text>
<path d="M137.6,328.4 C140,318 147,311 156.8,309.1" fill="none" stroke="#222" stroke-width="0.8"/>
<circle cx="156.8" cy="309.1" r="1.5" fill="#222"/>
<defs>
<linearGradient id="skyC2" x1="0" y1="0" x2="0" y2="1">
 <stop offset="0" stop-color="#4580c4"/><stop offset="0.08" stop-color="#6aa4d8"/><stop offset="0.175" stop-color="#9ccbea"/><stop offset="0.27" stop-color="#bfe0f2"/><stop offset="1" stop-color="#c8e4f2"/>
</linearGradient>
<linearGradient id="groundC2" x1="0" y1="0" x2="0" y2="1">
 <stop offset="0" stop-color="#e6e0c2"/><stop offset="0.1" stop-color="#c8cabb"/><stop offset="0.25" stop-color="#9fb4b0"/><stop offset="0.55" stop-color="#98aca4"/><stop offset="0.75" stop-color="#b8b48e"/><stop offset="1" stop-color="#d6ca96"/>
</linearGradient>
<linearGradient id="pilC" x1="0" y1="0" x2="1" y2="0">
 <stop offset="0" stop-color="#4f7a50"/><stop offset="0.12" stop-color="#6c8436"/><stop offset="0.45" stop-color="#9c9c48"/><stop offset="0.7" stop-color="#82903c"/><stop offset="0.9" stop-color="#5e7e34"/><stop offset="1" stop-color="#4a7a5a"/>
</linearGradient>
<linearGradient id="pilB" x1="0" y1="0" x2="1" y2="0">
 <stop offset="0" stop-color="#5a8060"/><stop offset="0.4" stop-color="#88943e"/><stop offset="1" stop-color="#5f7e4a"/>
</linearGradient>
<linearGradient id="meniC" x1="0" y1="0" x2="0" y2="1">
 <stop offset="0" stop-color="#a4c8e4" stop-opacity="0.5"/><stop offset="1" stop-color="#4f80b4" stop-opacity="0.75"/>
</linearGradient>
</defs>
<g clip-path="url(#clipC2)">
<rect x="310" y="192" width="257.5" height="159.4" fill="url(#skyC2)"/>
<rect x="310" y="264" width="257.5" height="88" fill="url(#groundC2)"/>
<path d="M342.8,298.0 L342.8,240.2 C342.8,235.8 345.8,234.5 349.5,234.5 C353.2,234.5 356.2,235.8 356.2,240.2 L356.2,298.0 Q349.5,300.5 342.8,298.0z" fill="url(#pilB)" opacity="0.95"/>
<circle cx="348.3" cy="251.2" r="0.55" fill="#4a6a20" opacity="0.7"/>
<circle cx="353.7" cy="260.4" r="0.55" fill="#c4c464" opacity="0.7"/>
<circle cx="350.1" cy="260.3" r="0.55" fill="#d8d070" opacity="0.7"/>
<circle cx="352.4" cy="276.9" r="0.55" fill="#d8d070" opacity="0.7"/>
<circle cx="348.9" cy="246.7" r="0.55" fill="#4a6a20" opacity="0.7"/>
<circle cx="354.5" cy="256.5" r="0.55" fill="#c4c464" opacity="0.7"/>
<circle cx="351.1" cy="274.4" r="0.55" fill="#d8d070" opacity="0.7"/>
<circle cx="345.5" cy="272.5" r="0.55" fill="#e8e0a0" opacity="0.7"/>
<circle cx="353.3" cy="287.5" r="0.55" fill="#4a6a20" opacity="0.7"/>
<circle cx="345.1" cy="258.9" r="0.55" fill="#e8e0a0" opacity="0.7"/>
<circle cx="345.6" cy="277.4" r="0.55" fill="#d8d070" opacity="0.7"/>
<circle cx="345.3" cy="246.0" r="0.55" fill="#4a6a20" opacity="0.7"/>
<circle cx="344.9" cy="256.4" r="0.55" fill="#d8d070" opacity="0.7"/>
<circle cx="350.6" cy="248.3" r="0.55" fill="#d8d070" opacity="0.7"/>
<circle cx="347.4" cy="246.2" r="0.55" fill="#d8d070" opacity="0.7"/>
<circle cx="348.5" cy="277.0" r="0.55" fill="#e8e0a0" opacity="0.7"/>
<circle cx="353.2" cy="251.2" r="0.55" fill="#d8d070" opacity="0.7"/>
<circle cx="345.7" cy="264.8" r="0.55" fill="#e8e0a0" opacity="0.7"/>
<circle cx="348.7" cy="281.8" r="0.55" fill="#d8d070" opacity="0.7"/>
<circle cx="353.5" cy="276.5" r="0.55" fill="#c4c464" opacity="0.7"/>
<circle cx="346.1" cy="285.5" r="0.55" fill="#d8d070" opacity="0.7"/>
<circle cx="351.8" cy="278.1" r="0.55" fill="#d8d070" opacity="0.7"/>
<circle cx="354.6" cy="279.5" r="0.55" fill="#e8e0a0" opacity="0.7"/>
<circle cx="351.1" cy="282.1" r="0.55" fill="#e8e0a0" opacity="0.7"/>
<circle cx="350.6" cy="243.4" r="0.55" fill="#4a6a20" opacity="0.7"/>
<path d="M354.7,292.0 L354.7,239.3 C354.7,236.8 356.5,236.0 358.6,236.0 C360.7,236.0 362.5,236.8 362.5,239.3 L362.5,292.0 Q358.6,294.5 354.7,292.0z" fill="url(#pilB)" opacity="0.95"/>
<circle cx="357.3" cy="257.9" r="0.55" fill="#e8e0a0" opacity="0.7"/>
<circle cx="359.5" cy="260.4" r="0.55" fill="#e8e0a0" opacity="0.7"/>
<circle cx="356.6" cy="273.8" r="0.55" fill="#4a6a20" opacity="0.7"/>
<circle cx="360.7" cy="251.9" r="0.55" fill="#e8e0a0" opacity="0.7"/>
<circle cx="360.5" cy="255.9" r="0.55" fill="#e8e0a0" opacity="0.7"/>
<circle cx="360.0" cy="254.3" r="0.55" fill="#e8e0a0" opacity="0.7"/>
<circle cx="359.7" cy="250.1" r="0.55" fill="#4a6a20" opacity="0.7"/>
<circle cx="357.2" cy="250.7" r="0.55" fill="#e8e0a0" opacity="0.7"/>
<circle cx="359.4" cy="242.3" r="0.55" fill="#4a6a20" opacity="0.7"/>
<circle cx="358.8" cy="271.4" r="0.55" fill="#e8e0a0" opacity="0.7"/>
<circle cx="357.8" cy="250.9" r="0.55" fill="#d8d070" opacity="0.7"/>
<circle cx="360.1" cy="262.3" r="0.55" fill="#4a6a20" opacity="0.7"/>
<circle cx="358.9" cy="264.9" r="0.55" fill="#c4c464" opacity="0.7"/>
<circle cx="360.5" cy="281.7" r="0.55" fill="#d8d070" opacity="0.7"/>
<circle cx="357.1" cy="275.8" r="0.55" fill="#4a6a20" opacity="0.7"/>
<circle cx="359.3" cy="265.7" r="0.55" fill="#4a6a20" opacity="0.7"/>
<circle cx="358.2" cy="289.6" r="0.55" fill="#d8d070" opacity="0.7"/>
<circle cx="356.4" cy="273.7" r="0.55" fill="#c4c464" opacity="0.7"/>
<circle cx="357.2" cy="259.8" r="0.55" fill="#c4c464" opacity="0.7"/>
<circle cx="357.6" cy="252.5" r="0.55" fill="#e8e0a0" opacity="0.7"/>
<circle cx="359.1" cy="282.1" r="0.55" fill="#c4c464" opacity="0.7"/>
<circle cx="359.2" cy="260.7" r="0.55" fill="#e8e0a0" opacity="0.7"/>
<circle cx="360.0" cy="275.0" r="0.55" fill="#4a6a20" opacity="0.7"/>
<circle cx="356.7" cy="263.4" r="0.55" fill="#e8e0a0" opacity="0.7"/>
<circle cx="357.3" cy="248.5" r="0.55" fill="#e8e0a0" opacity="0.7"/>
<path d="M396.4,298.0 L396.4,239.6 C396.4,235.7 399.1,234.5 402.4,234.5 C405.6,234.5 408.3,235.7 408.3,239.6 L408.3,298.0 Q402.4,300.5 396.4,298.0z" fill="url(#pilB)" opacity="0.95"/>
<circle cx="400.5" cy="252.2" r="0.55" fill="#e8e0a0" opacity="0.7"/>
<circle cx="406.3" cy="286.6" r="0.55" fill="#d8d070" opacity="0.7"/>
<circle cx="403.3" cy="296.9" r="0.55" fill="#d8d070" opacity="0.7"/>
<circle cx="404.6" cy="275.0" r="0.55" fill="#e8e0a0" opacity="0.7"/>
<circle cx="405.0" cy="256.7" r="0.55" fill="#c4c464" opacity="0.7"/>
<circle cx="403.1" cy="262.9" r="0.55" fill="#d8d070" opacity="0.7"/>
<circle cx="399.9" cy="289.4" r="0.55" fill="#e8e0a0" opacity="0.7"/>
<circle cx="399.2" cy="276.5" r="0.55" fill="#e8e0a0" opacity="0.7"/>
<circle cx="398.1" cy="286.5" r="0.55" fill="#c4c464" opacity="0.7"/>
<circle cx="403.4" cy="270.6" r="0.55" fill="#4a6a20" opacity="0.7"/>
<circle cx="401.3" cy="248.6" r="0.55" fill="#c4c464" opacity="0.7"/>
<circle cx="403.1" cy="278.5" r="0.55" fill="#e8e0a0" opacity="0.7"/>
<circle cx="398.5" cy="269.5" r="0.55" fill="#d8d070" opacity="0.7"/>
<circle cx="399.6" cy="248.2" r="0.55" fill="#e8e0a0" opacity="0.7"/>
<circle cx="398.7" cy="276.7" r="0.55" fill="#e8e0a0" opacity="0.7"/>
<circle cx="398.0" cy="256.0" r="0.55" fill="#c4c464" opacity="0.7"/>
<circle cx="401.4" cy="241.5" r="0.55" fill="#c4c464" opacity="0.7"/>
<circle cx="403.9" cy="282.3" r="0.55" fill="#c4c464" opacity="0.7"/>
<circle cx="402.5" cy="248.2" r="0.55" fill="#d8d070" opacity="0.7"/>
<circle cx="401.2" cy="258.4" r="0.55" fill="#e8e0a0" opacity="0.7"/>
<circle cx="399.4" cy="247.0" r="0.55" fill="#d8d070" opacity="0.7"/>
<circle cx="398.5" cy="238.4" r="0.55" fill="#c4c464" opacity="0.7"/>
<circle cx="405.9" cy="256.1" r="0.55" fill="#d8d070" opacity="0.7"/>
<circle cx="399.6" cy="291.2" r="0.55" fill="#d8d070" opacity="0.7"/>
<circle cx="405.9" cy="291.9" r="0.55" fill="#c4c464" opacity="0.7"/>
<path d="M406.8,292.0 L406.8,240.4 C406.8,237.0 409.1,236.0 412.0,236.0 C414.9,236.0 417.2,237.0 417.2,240.4 L417.2,292.0 Q412.0,294.5 406.8,292.0z" fill="url(#pilB)" opacity="0.95"/>
<circle cx="412.2" cy="287.6" r="0.55" fill="#c4c464" opacity="0.7"/>
<circle cx="410.9" cy="247.7" r="0.55" fill="#e8e0a0" opacity="0.7"/>
<circle cx="414.0" cy="279.2" r="0.55" fill="#e8e0a0" opacity="0.7"/>
<circle cx="411.9" cy="252.1" r="0.55" fill="#c4c464" opacity="0.7"/>
<circle cx="412.5" cy="247.4" r="0.55" fill="#4a6a20" opacity="0.7"/>
<circle cx="414.2" cy="240.3" r="0.55" fill="#c4c464" opacity="0.7"/>
<circle cx="412.2" cy="249.1" r="0.55" fill="#c4c464" opacity="0.7"/>
<circle cx="410.4" cy="252.0" r="0.55" fill="#c4c464" opacity="0.7"/>
<circle cx="410.3" cy="243.8" r="0.55" fill="#c4c464" opacity="0.7"/>
<circle cx="415.7" cy="254.9" r="0.55" fill="#e8e0a0" opacity="0.7"/>
<circle cx="414.8" cy="267.5" r="0.55" fill="#d8d070" opacity="0.7"/>
<circle cx="411.1" cy="288.5" r="0.55" fill="#c4c464" opacity="0.7"/>
<circle cx="415.2" cy="260.6" r="0.55" fill="#e8e0a0" opacity="0.7"/>
<circle cx="411.4" cy="250.5" r="0.55" fill="#4a6a20" opacity="0.7"/>
<circle cx="408.8" cy="270.8" r="0.55" fill="#d8d070" opacity="0.7"/>
<circle cx="409.6" cy="260.9" r="0.55" fill="#d8d070" opacity="0.7"/>
<circle cx="412.1" cy="268.2" r="0.55" fill="#e8e0a0" opacity="0.7"/>
<circle cx="414.6" cy="271.3" r="0.55" fill="#d8d070" opacity="0.7"/>
<circle cx="413.0" cy="262.8" r="0.55" fill="#d8d070" opacity="0.7"/>
<circle cx="412.4" cy="277.1" r="0.55" fill="#d8d070" opacity="0.7"/>
<circle cx="414.3" cy="288.8" r="0.55" fill="#d8d070" opacity="0.7"/>
<circle cx="408.9" cy="274.5" r="0.55" fill="#c4c464" opacity="0.7"/>
<circle cx="411.6" cy="261.4" r="0.55" fill="#c4c464" opacity="0.7"/>
<circle cx="414.9" cy="247.0" r="0.55" fill="#d8d070" opacity="0.7"/>
<circle cx="415.2" cy="281.4" r="0.55" fill="#e8e0a0" opacity="0.7"/>
<path d="M448.2,294.5 L448.2,239.8 C448.2,235.7 451.0,234.5 454.4,234.5 C457.8,234.5 460.6,235.7 460.6,239.8 L460.6,294.5 Q454.4,297.0 448.2,294.5z" fill="url(#pilB)" opacity="0.95"/>
<circle cx="453.3" cy="263.8" r="0.55" fill="#c4c464" opacity="0.7"/>
<circle cx="456.6" cy="270.4" r="0.55" fill="#d8d070" opacity="0.7"/>
<circle cx="458.1" cy="266.6" r="0.55" fill="#4a6a20" opacity="0.7"/>
<circle cx="456.2" cy="253.7" r="0.55" fill="#4a6a20" opacity="0.7"/>
<circle cx="458.6" cy="273.1" r="0.55" fill="#c4c464" opacity="0.7"/>
<circle cx="454.3" cy="278.7" r="0.55" fill="#4a6a20" opacity="0.7"/>
<circle cx="454.6" cy="246.5" r="0.55" fill="#d8d070" opacity="0.7"/>
<circle cx="450.5" cy="287.8" r="0.55" fill="#c4c464" opacity="0.7"/>
<circle cx="457.2" cy="291.0" r="0.55" fill="#4a6a20" opacity="0.7"/>
<circle cx="450.9" cy="251.6" r="0.55" fill="#4a6a20" opacity="0.7"/>
<circle cx="453.0" cy="237.9" r="0.55" fill="#e8e0a0" opacity="0.7"/>
<circle cx="450.5" cy="241.6" r="0.55" fill="#d8d070" opacity="0.7"/>
<circle cx="457.0" cy="273.8" r="0.55" fill="#d8d070" opacity="0.7"/>
<circle cx="451.6" cy="253.2" r="0.55" fill="#4a6a20" opacity="0.7"/>
<circle cx="458.6" cy="245.7" r="0.55" fill="#c4c464" opacity="0.7"/>
<circle cx="450.5" cy="246.5" r="0.55" fill="#d8d070" opacity="0.7"/>
<circle cx="451.5" cy="263.1" r="0.55" fill="#4a6a20" opacity="0.7"/>
<circle cx="452.1" cy="249.7" r="0.55" fill="#d8d070" opacity="0.7"/>
<circle cx="453.0" cy="284.9" r="0.55" fill="#e8e0a0" opacity="0.7"/>
<circle cx="453.0" cy="264.4" r="0.55" fill="#c4c464" opacity="0.7"/>
<circle cx="457.1" cy="272.5" r="0.55" fill="#c4c464" opacity="0.7"/>
<circle cx="451.1" cy="242.8" r="0.55" fill="#e8e0a0" opacity="0.7"/>
<circle cx="451.1" cy="261.8" r="0.55" fill="#e8e0a0" opacity="0.7"/>
<circle cx="457.8" cy="290.5" r="0.55" fill="#c4c464" opacity="0.7"/>
<circle cx="451.9" cy="256.9" r="0.55" fill="#d8d070" opacity="0.7"/>
<path d="M459.0,286.2 L459.0,239.5 C459.0,236.8 460.8,236.0 463.1,236.0 C465.4,236.0 467.2,236.8 467.2,239.5 L467.2,286.2 Q463.1,288.7 459.0,286.2z" fill="url(#pilB)" opacity="0.95"/>
<circle cx="463.3" cy="252.3" r="0.55" fill="#4a6a20" opacity="0.7"/>
<circle cx="465.6" cy="248.9" r="0.55" fill="#d8d070" opacity="0.7"/>
<circle cx="463.2" cy="280.6" r="0.55" fill="#e8e0a0" opacity="0.7"/>
<circle cx="464.4" cy="270.0" r="0.55" fill="#e8e0a0" opacity="0.7"/>
<circle cx="465.3" cy="266.4" r="0.55" fill="#e8e0a0" opacity="0.7"/>
<circle cx="461.7" cy="243.6" r="0.55" fill="#e8e0a0" opacity="0.7"/>
<circle cx="461.3" cy="268.6" r="0.55" fill="#d8d070" opacity="0.7"/>
<circle cx="460.6" cy="259.4" r="0.55" fill="#4a6a20" opacity="0.7"/>
<circle cx="461.5" cy="283.3" r="0.55" fill="#c4c464" opacity="0.7"/>
<circle cx="465.5" cy="257.4" r="0.55" fill="#e8e0a0" opacity="0.7"/>
<circle cx="465.1" cy="252.4" r="0.55" fill="#e8e0a0" opacity="0.7"/>
<circle cx="460.7" cy="273.8" r="0.55" fill="#c4c464" opacity="0.7"/>
<circle cx="461.5" cy="254.9" r="0.55" fill="#4a6a20" opacity="0.7"/>
<circle cx="460.7" cy="254.1" r="0.55" fill="#e8e0a0" opacity="0.7"/>
<circle cx="464.2" cy="279.1" r="0.55" fill="#d8d070" opacity="0.7"/>
<circle cx="463.3" cy="260.7" r="0.55" fill="#e8e0a0" opacity="0.7"/>
<circle cx="462.0" cy="246.8" r="0.55" fill="#e8e0a0" opacity="0.7"/>
<circle cx="461.2" cy="258.9" r="0.55" fill="#d8d070" opacity="0.7"/>
<circle cx="461.7" cy="261.3" r="0.55" fill="#d8d070" opacity="0.7"/>
<circle cx="461.0" cy="245.8" r="0.55" fill="#d8d070" opacity="0.7"/>
<circle cx="460.8" cy="255.5" r="0.55" fill="#d8d070" opacity="0.7"/>
<circle cx="463.6" cy="284.9" r="0.55" fill="#c4c464" opacity="0.7"/>
<circle cx="464.8" cy="253.9" r="0.55" fill="#4a6a20" opacity="0.7"/>
<circle cx="465.4" cy="282.0" r="0.55" fill="#4a6a20" opacity="0.7"/>
<circle cx="460.6" cy="259.0" r="0.55" fill="#e8e0a0" opacity="0.7"/>
<path d="M497.0,296.0 L497.0,239.1 C497.0,235.6 499.4,234.5 502.4,234.5 C505.4,234.5 507.8,235.6 507.8,239.1 L507.8,296.0 Q502.4,298.5 497.0,296.0z" fill="url(#pilB)" opacity="0.95"/>
<circle cx="498.6" cy="242.3" r="0.55" fill="#e8e0a0" opacity="0.7"/>
<circle cx="499.5" cy="268.1" r="0.55" fill="#4a6a20" opacity="0.7"/>
<circle cx="502.3" cy="260.3" r="0.55" fill="#d8d070" opacity="0.7"/>
<circle cx="499.2" cy="293.0" r="0.55" fill="#e8e0a0" opacity="0.7"/>
<circle cx="503.7" cy="272.7" r="0.55" fill="#4a6a20" opacity="0.7"/>
<circle cx="499.3" cy="281.5" r="0.55" fill="#e8e0a0" opacity="0.7"/>
<circle cx="504.5" cy="246.5" r="0.55" fill="#d8d070" opacity="0.7"/>
<circle cx="499.9" cy="293.8" r="0.55" fill="#d8d070" opacity="0.7"/>
<circle cx="502.7" cy="244.4" r="0.55" fill="#c4c464" opacity="0.7"/>
<circle cx="499.1" cy="292.3" r="0.55" fill="#c4c464" opacity="0.7"/>
<circle cx="498.9" cy="248.2" r="0.55" fill="#c4c464" opacity="0.7"/>
<circle cx="504.9" cy="244.7" r="0.55" fill="#e8e0a0" opacity="0.7"/>
<circle cx="501.2" cy="254.4" r="0.55" fill="#d8d070" opacity="0.7"/>
<circle cx="499.0" cy="262.6" r="0.55" fill="#e8e0a0" opacity="0.7"/>
<circle cx="501.1" cy="252.5" r="0.55" fill="#d8d070" opacity="0.7"/>
<circle cx="503.5" cy="290.3" r="0.55" fill="#c4c464" opacity="0.7"/>
<circle cx="498.6" cy="279.4" r="0.55" fill="#e8e0a0" opacity="0.7"/>
<circle cx="503.4" cy="246.0" r="0.55" fill="#c4c464" opacity="0.7"/>
<circle cx="504.4" cy="248.2" r="0.55" fill="#e8e0a0" opacity="0.7"/>
<circle cx="503.6" cy="281.9" r="0.55" fill="#4a6a20" opacity="0.7"/>
<circle cx="502.4" cy="265.2" r="0.55" fill="#d8d070" opacity="0.7"/>
<circle cx="503.5" cy="246.1" r="0.55" fill="#4a6a20" opacity="0.7"/>
<circle cx="503.8" cy="249.8" r="0.55" fill="#d8d070" opacity="0.7"/>
<circle cx="503.5" cy="254.0" r="0.55" fill="#4a6a20" opacity="0.7"/>
<circle cx="505.0" cy="239.3" r="0.55" fill="#4a6a20" opacity="0.7"/>
<path d="M506.0,288.0 L506.0,239.6 C506.0,236.8 507.9,236.0 510.2,236.0 C512.5,236.0 514.4,236.8 514.4,239.6 L514.4,288.0 Q510.2,290.5 506.0,288.0z" fill="url(#pilB)" opacity="0.95"/>
<circle cx="511.6" cy="285.4" r="0.55" fill="#c4c464" opacity="0.7"/>
<circle cx="510.8" cy="260.3" r="0.55" fill="#c4c464" opacity="0.7"/>
<circle cx="512.5" cy="276.8" r="0.55" fill="#e8e0a0" opacity="0.7"/>
<circle cx="507.8" cy="259.4" r="0.55" fill="#4a6a20" opacity="0.7"/>
<circle cx="511.2" cy="282.9" r="0.55" fill="#c4c464" opacity="0.7"/>
<circle cx="511.7" cy="282.3" r="0.55" fill="#d8d070" opacity="0.7"/>
<circle cx="510.4" cy="239.9" r="0.55" fill="#c4c464" opacity="0.7"/>
<circle cx="510.0" cy="255.1" r="0.55" fill="#c4c464" opacity="0.7"/>
<circle cx="508.5" cy="277.2" r="0.55" fill="#4a6a20" opacity="0.7"/>
<circle cx="511.4" cy="255.1" r="0.55" fill="#c4c464" opacity="0.7"/>
<circle cx="511.1" cy="250.5" r="0.55" fill="#d8d070" opacity="0.7"/>
<circle cx="511.7" cy="281.1" r="0.55" fill="#4a6a20" opacity="0.7"/>
<circle cx="509.6" cy="275.3" r="0.55" fill="#c4c464" opacity="0.7"/>
<circle cx="511.9" cy="249.3" r="0.55" fill="#4a6a20" opacity="0.7"/>
<circle cx="512.4" cy="263.8" r="0.55" fill="#d8d070" opacity="0.7"/>
<circle cx="509.1" cy="262.5" r="0.55" fill="#c4c464" opacity="0.7"/>
<circle cx="507.6" cy="257.1" r="0.55" fill="#d8d070" opacity="0.7"/>
<circle cx="511.8" cy="264.3" r="0.55" fill="#e8e0a0" opacity="0.7"/>
<circle cx="510.9" cy="258.9" r="0.55" fill="#d8d070" opacity="0.7"/>
<circle cx="510.7" cy="278.4" r="0.55" fill="#d8d070" opacity="0.7"/>
<circle cx="510.5" cy="258.2" r="0.55" fill="#d8d070" opacity="0.7"/>
<circle cx="508.1" cy="269.9" r="0.55" fill="#d8d070" opacity="0.7"/>
<circle cx="510.9" cy="287.0" r="0.55" fill="#c4c464" opacity="0.7"/>
<circle cx="512.6" cy="282.6" r="0.55" fill="#4a6a20" opacity="0.7"/>
<circle cx="512.6" cy="249.1" r="0.55" fill="#e8e0a0" opacity="0.7"/>
<path d="M549.0,296.0 L549.0,240.7 C549.0,236.3 552.0,235.0 555.7,235.0 C559.4,235.0 562.4,236.3 562.4,240.7 L562.4,296.0 Q555.7,298.5 549.0,296.0z" fill="url(#pilB)" opacity="0.95"/>
<circle cx="555.1" cy="253.0" r="0.55" fill="#d8d070" opacity="0.7"/>
<circle cx="560.0" cy="251.0" r="0.55" fill="#4a6a20" opacity="0.7"/>
<circle cx="554.9" cy="257.9" r="0.55" fill="#4a6a20" opacity="0.7"/>
<circle cx="556.2" cy="246.2" r="0.55" fill="#4a6a20" opacity="0.7"/>
<circle cx="557.8" cy="286.9" r="0.55" fill="#4a6a20" opacity="0.7"/>
<circle cx="556.6" cy="252.3" r="0.55" fill="#e8e0a0" opacity="0.7"/>
<circle cx="560.0" cy="281.2" r="0.55" fill="#d8d070" opacity="0.7"/>
<circle cx="557.8" cy="285.4" r="0.55" fill="#c4c464" opacity="0.7"/>
<circle cx="558.5" cy="238.0" r="0.55" fill="#d8d070" opacity="0.7"/>
<circle cx="557.2" cy="271.5" r="0.55" fill="#e8e0a0" opacity="0.7"/>
<circle cx="552.7" cy="264.4" r="0.55" fill="#4a6a20" opacity="0.7"/>
<circle cx="559.9" cy="269.9" r="0.55" fill="#4a6a20" opacity="0.7"/>
<circle cx="558.8" cy="287.5" r="0.55" fill="#e8e0a0" opacity="0.7"/>
<circle cx="560.8" cy="259.6" r="0.55" fill="#4a6a20" opacity="0.7"/>
<circle cx="554.9" cy="255.1" r="0.55" fill="#e8e0a0" opacity="0.7"/>
<circle cx="553.3" cy="288.6" r="0.55" fill="#4a6a20" opacity="0.7"/>
<circle cx="552.7" cy="258.0" r="0.55" fill="#d8d070" opacity="0.7"/>
<circle cx="555.8" cy="250.8" r="0.55" fill="#4a6a20" opacity="0.7"/>
<circle cx="556.5" cy="288.7" r="0.55" fill="#e8e0a0" opacity="0.7"/>
<circle cx="555.3" cy="267.3" r="0.55" fill="#c4c464" opacity="0.7"/>
<circle cx="551.3" cy="286.1" r="0.55" fill="#4a6a20" opacity="0.7"/>
<circle cx="556.8" cy="271.7" r="0.55" fill="#4a6a20" opacity="0.7"/>
<circle cx="558.2" cy="286.2" r="0.55" fill="#d8d070" opacity="0.7"/>
<circle cx="557.8" cy="251.5" r="0.55" fill="#c4c464" opacity="0.7"/>
<circle cx="554.0" cy="268.2" r="0.55" fill="#e8e0a0" opacity="0.7"/>
<path d="M322.0,316.5 L322.0,243.7 C322.0,235.1 328.0,232.4 335.4,232.4 C342.7,232.4 348.7,235.1 348.7,243.7 L348.7,316.5 Q335.4,319.0 322.0,316.5z" fill="url(#pilC)" opacity="1"/>
<path d="M322.0,316.5 L322.0,243.7 C322.0,235.1 328.0,232.4 335.4,232.4 C342.7,232.4 348.7,235.1 348.7,243.7 L348.7,316.5 Q335.4,319.0 322.0,316.5z" fill="none" stroke="#4c9c84" stroke-width="1.4" opacity="0.55"/>
<circle cx="346.8" cy="263.7" r="0.55" fill="#4a6a20" opacity="0.7"/>
<circle cx="334.2" cy="268.9" r="0.55" fill="#c4c464" opacity="0.7"/>
<circle cx="328.6" cy="288.6" r="0.55" fill="#e8e0a0" opacity="0.7"/>
<circle cx="324.0" cy="260.3" r="0.55" fill="#e8e0a0" opacity="0.7"/>
<circle cx="329.0" cy="311.8" r="0.55" fill="#c4c464" opacity="0.7"/>
<circle cx="339.4" cy="292.8" r="0.55" fill="#4a6a20" opacity="0.7"/>
<circle cx="325.4" cy="305.6" r="0.55" fill="#4a6a20" opacity="0.7"/>
<circle cx="328.5" cy="266.7" r="0.55" fill="#e8e0a0" opacity="0.7"/>
<circle cx="327.7" cy="310.1" r="0.55" fill="#4a6a20" opacity="0.7"/>
<circle cx="330.7" cy="304.2" r="0.55" fill="#4a6a20" opacity="0.7"/>
<circle cx="326.2" cy="265.7" r="0.55" fill="#4a6a20" opacity="0.7"/>
<circle cx="334.7" cy="283.4" r="0.55" fill="#4a6a20" opacity="0.7"/>
<circle cx="342.5" cy="296.1" r="0.55" fill="#d8d070" opacity="0.7"/>
<circle cx="325.8" cy="262.0" r="0.55" fill="#c4c464" opacity="0.7"/>
<circle cx="341.6" cy="249.3" r="0.55" fill="#4a6a20" opacity="0.7"/>
<circle cx="338.2" cy="266.1" r="0.55" fill="#d8d070" opacity="0.7"/>
<circle cx="328.8" cy="271.1" r="0.55" fill="#e8e0a0" opacity="0.7"/>
<circle cx="345.5" cy="308.0" r="0.55" fill="#e8e0a0" opacity="0.7"/>
<circle cx="324.9" cy="285.3" r="0.55" fill="#e8e0a0" opacity="0.7"/>
<circle cx="331.3" cy="244.9" r="0.55" fill="#4a6a20" opacity="0.7"/>
<circle cx="346.7" cy="276.6" r="0.55" fill="#e8e0a0" opacity="0.7"/>
<circle cx="334.2" cy="241.9" r="0.55" fill="#e8e0a0" opacity="0.7"/>
<circle cx="334.4" cy="252.1" r="0.55" fill="#d8d070" opacity="0.7"/>
<circle cx="343.0" cy="269.5" r="0.55" fill="#4a6a20" opacity="0.7"/>
<circle cx="323.8" cy="307.6" r="0.55" fill="#d8d070" opacity="0.7"/>
<circle cx="337.4" cy="310.3" r="0.55" fill="#c4c464" opacity="0.7"/>
<circle cx="325.7" cy="244.7" r="0.55" fill="#4a6a20" opacity="0.7"/>
<circle cx="338.6" cy="280.4" r="0.55" fill="#d8d070" opacity="0.7"/>
<circle cx="337.5" cy="262.2" r="0.55" fill="#d8d070" opacity="0.7"/>
<circle cx="327.4" cy="310.2" r="0.55" fill="#4a6a20" opacity="0.7"/>
<circle cx="331.3" cy="260.4" r="0.55" fill="#4a6a20" opacity="0.7"/>
<circle cx="332.4" cy="295.0" r="0.55" fill="#e8e0a0" opacity="0.7"/>
<circle cx="344.9" cy="258.1" r="0.55" fill="#c4c464" opacity="0.7"/>
<circle cx="329.4" cy="309.3" r="0.55" fill="#4a6a20" opacity="0.7"/>
<circle cx="339.4" cy="297.7" r="0.55" fill="#c4c464" opacity="0.7"/>
<circle cx="338.8" cy="274.9" r="0.55" fill="#c4c464" opacity="0.7"/>
<circle cx="325.4" cy="237.1" r="0.55" fill="#e8e0a0" opacity="0.7"/>
<circle cx="345.8" cy="240.6" r="0.55" fill="#c4c464" opacity="0.7"/>
<circle cx="325.6" cy="288.1" r="0.55" fill="#d8d070" opacity="0.7"/>
<circle cx="339.4" cy="239.5" r="0.55" fill="#4a6a20" opacity="0.7"/>
<circle cx="342.7" cy="237.0" r="0.55" fill="#d8d070" opacity="0.7"/>
<circle cx="346.3" cy="278.0" r="0.55" fill="#e8e0a0" opacity="0.7"/>
<circle cx="342.3" cy="245.2" r="0.55" fill="#e8e0a0" opacity="0.7"/>
<circle cx="333.4" cy="251.9" r="0.55" fill="#d8d070" opacity="0.7"/>
<circle cx="346.2" cy="262.6" r="0.55" fill="#c4c464" opacity="0.7"/>
<circle cx="331.5" cy="258.2" r="0.55" fill="#d8d070" opacity="0.7"/>
<circle cx="342.0" cy="259.0" r="0.55" fill="#e8e0a0" opacity="0.7"/>
<circle cx="343.0" cy="240.0" r="0.55" fill="#d8d070" opacity="0.7"/>
<circle cx="334.8" cy="306.0" r="0.55" fill="#c4c464" opacity="0.7"/>
<circle cx="338.3" cy="243.5" r="0.55" fill="#c4c464" opacity="0.7"/>
<circle cx="332.5" cy="251.7" r="0.55" fill="#d8d070" opacity="0.7"/>
<circle cx="334.0" cy="244.7" r="0.55" fill="#4a6a20" opacity="0.7"/>
<circle cx="331.6" cy="238.9" r="0.55" fill="#d8d070" opacity="0.7"/>
<circle cx="333.4" cy="286.8" r="0.55" fill="#4a6a20" opacity="0.7"/>
<circle cx="325.4" cy="303.7" r="0.55" fill="#c4c464" opacity="0.7"/>
<circle cx="327.9" cy="238.7" r="0.55" fill="#c4c464" opacity="0.7"/>
<circle cx="346.8" cy="277.7" r="0.55" fill="#4a6a20" opacity="0.7"/>
<circle cx="324.5" cy="239.7" r="0.55" fill="#4a6a20" opacity="0.7"/>
<circle cx="342.6" cy="280.1" r="0.55" fill="#d8d070" opacity="0.7"/>
<circle cx="331.5" cy="259.2" r="0.55" fill="#4a6a20" opacity="0.7"/>
<circle cx="331.6" cy="296.0" r="0.55" fill="#d8d070" opacity="0.7"/>
<circle cx="333.4" cy="278.7" r="0.55" fill="#c4c464" opacity="0.7"/>
<circle cx="341.6" cy="255.2" r="0.55" fill="#d8d070" opacity="0.7"/>
<circle cx="324.5" cy="315.1" r="0.55" fill="#d8d070" opacity="0.7"/>
<circle cx="336.3" cy="315.5" r="0.55" fill="#e8e0a0" opacity="0.7"/>
<circle cx="333.8" cy="288.9" r="0.55" fill="#e8e0a0" opacity="0.7"/>
<circle cx="328.7" cy="274.8" r="0.55" fill="#e8e0a0" opacity="0.7"/>
<circle cx="335.3" cy="238.8" r="0.55" fill="#4a6a20" opacity="0.7"/>
<circle cx="344.4" cy="278.9" r="0.55" fill="#4a6a20" opacity="0.7"/>
<circle cx="333.7" cy="275.2" r="0.55" fill="#e8e0a0" opacity="0.7"/>
<circle cx="332.4" cy="296.6" r="0.55" fill="#c4c464" opacity="0.7"/>
<circle cx="336.2" cy="248.4" r="0.55" fill="#4a6a20" opacity="0.7"/>
<circle cx="341.3" cy="297.8" r="0.55" fill="#c4c464" opacity="0.7"/>
<circle cx="335.1" cy="253.0" r="0.55" fill="#e8e0a0" opacity="0.7"/>
<circle cx="332.5" cy="280.9" r="0.55" fill="#d8d070" opacity="0.7"/>
<circle cx="341.9" cy="308.5" r="0.55" fill="#d8d070" opacity="0.7"/>
<circle cx="329.5" cy="277.7" r="0.55" fill="#c4c464" opacity="0.7"/>
<circle cx="331.2" cy="281.6" r="0.55" fill="#4a6a20" opacity="0.7"/>
<circle cx="337.2" cy="270.5" r="0.55" fill="#d8d070" opacity="0.7"/>
<circle cx="341.0" cy="293.0" r="0.55" fill="#e8e0a0" opacity="0.7"/>
<circle cx="345.9" cy="314.5" r="0.55" fill="#e8e0a0" opacity="0.7"/>
<circle cx="328.5" cy="291.6" r="0.55" fill="#c4c464" opacity="0.7"/>
<circle cx="330.4" cy="260.2" r="0.55" fill="#4a6a20" opacity="0.7"/>
<circle cx="340.7" cy="237.3" r="0.55" fill="#c4c464" opacity="0.7"/>
<circle cx="332.8" cy="259.3" r="0.55" fill="#e8e0a0" opacity="0.7"/>
<circle cx="331.3" cy="280.9" r="0.55" fill="#4a6a20" opacity="0.7"/>
<circle cx="343.5" cy="286.9" r="0.55" fill="#e8e0a0" opacity="0.7"/>
<circle cx="339.2" cy="311.4" r="0.55" fill="#4a6a20" opacity="0.7"/>
<circle cx="329.5" cy="239.1" r="0.55" fill="#4a6a20" opacity="0.7"/>
<circle cx="326.0" cy="249.7" r="0.55" fill="#e8e0a0" opacity="0.7"/>
<circle cx="326.8" cy="296.9" r="0.55" fill="#d8d070" opacity="0.7"/>
<circle cx="330.6" cy="267.7" r="0.55" fill="#e8e0a0" opacity="0.7"/>
<circle cx="327.9" cy="271.8" r="0.55" fill="#4a6a20" opacity="0.7"/>
<circle cx="329.8" cy="283.5" r="0.55" fill="#c4c464" opacity="0.7"/>
<circle cx="324.1" cy="248.8" r="0.55" fill="#d8d070" opacity="0.7"/>
<circle cx="330.7" cy="265.6" r="0.55" fill="#e8e0a0" opacity="0.7"/>
<circle cx="345.1" cy="260.3" r="0.55" fill="#d8d070" opacity="0.7"/>
<circle cx="324.8" cy="253.6" r="0.55" fill="#4a6a20" opacity="0.7"/>
<circle cx="325.2" cy="311.2" r="0.55" fill="#e8e0a0" opacity="0.7"/>
<circle cx="336.4" cy="310.0" r="0.55" fill="#d8d070" opacity="0.7"/>
<circle cx="334.0" cy="272.8" r="0.55" fill="#d8d070" opacity="0.7"/>
<circle cx="337.6" cy="247.4" r="0.55" fill="#d8d070" opacity="0.7"/>
<circle cx="325.7" cy="235.7" r="0.55" fill="#d8d070" opacity="0.7"/>
<circle cx="341.7" cy="249.1" r="0.55" fill="#4a6a20" opacity="0.7"/>
<circle cx="332.2" cy="242.7" r="0.55" fill="#d8d070" opacity="0.7"/>
<circle cx="328.4" cy="295.6" r="0.55" fill="#4a6a20" opacity="0.7"/>
<circle cx="326.0" cy="291.9" r="0.55" fill="#4a6a20" opacity="0.7"/>
<circle cx="334.7" cy="252.6" r="0.55" fill="#e8e0a0" opacity="0.7"/>
<circle cx="334.4" cy="264.4" r="0.55" fill="#4a6a20" opacity="0.7"/>
<circle cx="342.3" cy="279.8" r="0.55" fill="#e8e0a0" opacity="0.7"/>
<circle cx="336.1" cy="302.3" r="0.55" fill="#d8d070" opacity="0.7"/>
<circle cx="333.2" cy="270.9" r="0.55" fill="#c4c464" opacity="0.7"/>
<circle cx="326.3" cy="271.9" r="0.55" fill="#c4c464" opacity="0.7"/>
<circle cx="332.8" cy="259.7" r="0.55" fill="#4a6a20" opacity="0.7"/>
<circle cx="325.1" cy="293.6" r="0.55" fill="#e8e0a0" opacity="0.7"/>
<circle cx="343.8" cy="286.7" r="0.55" fill="#d8d070" opacity="0.7"/>
<circle cx="330.6" cy="235.8" r="0.55" fill="#c4c464" opacity="0.7"/>
<circle cx="346.6" cy="268.3" r="0.55" fill="#e8e0a0" opacity="0.7"/>
<circle cx="343.7" cy="300.4" r="0.55" fill="#d8d070" opacity="0.7"/>
<circle cx="330.9" cy="305.7" r="0.55" fill="#4a6a20" opacity="0.7"/>
<circle cx="330.5" cy="240.5" r="0.55" fill="#c4c464" opacity="0.7"/>
<circle cx="342.9" cy="277.7" r="0.55" fill="#e8e0a0" opacity="0.7"/>
<circle cx="334.1" cy="289.5" r="0.55" fill="#d8d070" opacity="0.7"/>
<circle cx="347.2" cy="313.0" r="0.55" fill="#4a6a20" opacity="0.7"/>
<circle cx="329.8" cy="304.8" r="0.55" fill="#c4c464" opacity="0.7"/>
<circle cx="330.3" cy="245.4" r="0.55" fill="#c4c464" opacity="0.7"/>
<circle cx="323.6" cy="277.9" r="0.55" fill="#4a6a20" opacity="0.7"/>
<circle cx="333.5" cy="267.0" r="0.55" fill="#4a6a20" opacity="0.7"/>
<circle cx="344.2" cy="302.5" r="0.55" fill="#e8e0a0" opacity="0.7"/>
<circle cx="330.2" cy="277.0" r="0.55" fill="#d8d070" opacity="0.7"/>
<circle cx="346.9" cy="283.5" r="0.55" fill="#c4c464" opacity="0.7"/>
<circle cx="339.8" cy="301.4" r="0.55" fill="#4a6a20" opacity="0.7"/>
<circle cx="344.2" cy="309.2" r="0.55" fill="#4a6a20" opacity="0.7"/>
<circle cx="344.9" cy="297.8" r="0.55" fill="#c4c464" opacity="0.7"/>
<circle cx="344.7" cy="264.3" r="0.55" fill="#d8d070" opacity="0.7"/>
<circle cx="333.3" cy="301.5" r="0.55" fill="#4a6a20" opacity="0.7"/>
<circle cx="334.0" cy="271.6" r="0.55" fill="#c4c464" opacity="0.7"/>
<circle cx="326.8" cy="239.7" r="0.55" fill="#c4c464" opacity="0.7"/>
<circle cx="341.9" cy="261.7" r="0.55" fill="#d8d070" opacity="0.7"/>
<circle cx="335.2" cy="315.1" r="0.55" fill="#e8e0a0" opacity="0.7"/>
<line x1="335.4" y1="240.4" x2="335.4" y2="312.5" stroke="#d8d09a" stroke-width="2" opacity="0.45" stroke-dasharray="2,2.5"/>
<path d="M374.0,317.5 L374.0,242.3 C374.0,234.0 379.7,231.5 386.6,231.5 C393.6,231.5 399.3,234.0 399.3,242.3 L399.3,317.5 Q386.6,320.0 374.0,317.5z" fill="url(#pilC)" opacity="1"/>
<path d="M374.0,317.5 L374.0,242.3 C374.0,234.0 379.7,231.5 386.6,231.5 C393.6,231.5 399.3,234.0 399.3,242.3 L399.3,317.5 Q386.6,320.0 374.0,317.5z" fill="none" stroke="#4c9c84" stroke-width="1.4" opacity="0.55"/>
<circle cx="380.7" cy="246.2" r="0.55" fill="#4a6a20" opacity="0.7"/>
<circle cx="390.1" cy="264.6" r="0.55" fill="#e8e0a0" opacity="0.7"/>
<circle cx="385.6" cy="251.0" r="0.55" fill="#e8e0a0" opacity="0.7"/>
<circle cx="379.6" cy="272.2" r="0.55" fill="#d8d070" opacity="0.7"/>
<circle cx="382.2" cy="243.4" r="0.55" fill="#e8e0a0" opacity="0.7"/>
<circle cx="377.0" cy="283.3" r="0.55" fill="#4a6a20" opacity="0.7"/>
<circle cx="386.5" cy="273.3" r="0.55" fill="#d8d070" opacity="0.7"/>
<circle cx="390.1" cy="310.3" r="0.55" fill="#4a6a20" opacity="0.7"/>
<circle cx="382.5" cy="267.8" r="0.55" fill="#e8e0a0" opacity="0.7"/>
<circle cx="388.6" cy="265.9" r="0.55" fill="#c4c464" opacity="0.7"/>
<circle cx="382.0" cy="295.1" r="0.55" fill="#d8d070" opacity="0.7"/>
<circle cx="381.2" cy="264.4" r="0.55" fill="#4a6a20" opacity="0.7"/>
<circle cx="395.5" cy="276.4" r="0.55" fill="#c4c464" opacity="0.7"/>
<circle cx="375.9" cy="294.3" r="0.55" fill="#d8d070" opacity="0.7"/>
<circle cx="392.4" cy="301.2" r="0.55" fill="#c4c464" opacity="0.7"/>
<circle cx="391.8" cy="287.0" r="0.55" fill="#4a6a20" opacity="0.7"/>
<circle cx="377.7" cy="302.5" r="0.55" fill="#c4c464" opacity="0.7"/>
<circle cx="391.0" cy="236.8" r="0.55" fill="#4a6a20" opacity="0.7"/>
<circle cx="385.7" cy="316.4" r="0.55" fill="#4a6a20" opacity="0.7"/>
<circle cx="386.2" cy="260.3" r="0.55" fill="#c4c464" opacity="0.7"/>
<circle cx="394.4" cy="282.9" r="0.55" fill="#4a6a20" opacity="0.7"/>
<circle cx="396.1" cy="277.6" r="0.55" fill="#c4c464" opacity="0.7"/>
<circle cx="384.6" cy="252.4" r="0.55" fill="#d8d070" opacity="0.7"/>
<circle cx="375.9" cy="307.9" r="0.55" fill="#c4c464" opacity="0.7"/>
<circle cx="391.7" cy="285.3" r="0.55" fill="#e8e0a0" opacity="0.7"/>
<circle cx="389.7" cy="302.3" r="0.55" fill="#d8d070" opacity="0.7"/>
<circle cx="388.6" cy="297.4" r="0.55" fill="#e8e0a0" opacity="0.7"/>
<circle cx="390.0" cy="273.6" r="0.55" fill="#d8d070" opacity="0.7"/>
<circle cx="386.2" cy="306.0" r="0.55" fill="#4a6a20" opacity="0.7"/>
<circle cx="380.5" cy="255.0" r="0.55" fill="#d8d070" opacity="0.7"/>
<circle cx="393.8" cy="301.3" r="0.55" fill="#c4c464" opacity="0.7"/>
<circle cx="381.7" cy="262.5" r="0.55" fill="#d8d070" opacity="0.7"/>
<circle cx="378.4" cy="239.6" r="0.55" fill="#4a6a20" opacity="0.7"/>
<circle cx="380.6" cy="257.7" r="0.55" fill="#d8d070" opacity="0.7"/>
<circle cx="381.9" cy="311.4" r="0.55" fill="#d8d070" opacity="0.7"/>
<circle cx="383.4" cy="297.4" r="0.55" fill="#e8e0a0" opacity="0.7"/>
<circle cx="396.1" cy="293.2" r="0.55" fill="#c4c464" opacity="0.7"/>
<circle cx="380.9" cy="248.9" r="0.55" fill="#c4c464" opacity="0.7"/>
<circle cx="380.2" cy="273.1" r="0.55" fill="#4a6a20" opacity="0.7"/>
<circle cx="389.9" cy="250.6" r="0.55" fill="#e8e0a0" opacity="0.7"/>
<circle cx="387.0" cy="287.4" r="0.55" fill="#c4c464" opacity="0.7"/>
<circle cx="385.4" cy="246.3" r="0.55" fill="#d8d070" opacity="0.7"/>
<circle cx="388.1" cy="301.3" r="0.55" fill="#e8e0a0" opacity="0.7"/>
<circle cx="394.7" cy="267.5" r="0.55" fill="#4a6a20" opacity="0.7"/>
<circle cx="382.7" cy="239.3" r="0.55" fill="#d8d070" opacity="0.7"/>
<circle cx="388.7" cy="313.5" r="0.55" fill="#e8e0a0" opacity="0.7"/>
<circle cx="386.6" cy="262.1" r="0.55" fill="#d8d070" opacity="0.7"/>
<circle cx="394.1" cy="315.1" r="0.55" fill="#e8e0a0" opacity="0.7"/>
<circle cx="389.2" cy="243.2" r="0.55" fill="#d8d070" opacity="0.7"/>
<circle cx="381.2" cy="263.3" r="0.55" fill="#4a6a20" opacity="0.7"/>
<circle cx="391.3" cy="294.7" r="0.55" fill="#4a6a20" opacity="0.7"/>
<circle cx="393.9" cy="316.2" r="0.55" fill="#c4c464" opacity="0.7"/>
<circle cx="378.5" cy="294.2" r="0.55" fill="#d8d070" opacity="0.7"/>
<circle cx="392.1" cy="235.8" r="0.55" fill="#4a6a20" opacity="0.7"/>
<circle cx="391.7" cy="270.2" r="0.55" fill="#e8e0a0" opacity="0.7"/>
<circle cx="392.7" cy="241.4" r="0.55" fill="#c4c464" opacity="0.7"/>
<circle cx="378.8" cy="269.2" r="0.55" fill="#d8d070" opacity="0.7"/>
<circle cx="384.8" cy="251.7" r="0.55" fill="#d8d070" opacity="0.7"/>
<circle cx="380.8" cy="253.8" r="0.55" fill="#e8e0a0" opacity="0.7"/>
<circle cx="391.1" cy="279.9" r="0.55" fill="#c4c464" opacity="0.7"/>
<circle cx="384.0" cy="312.1" r="0.55" fill="#c4c464" opacity="0.7"/>
<circle cx="394.9" cy="311.3" r="0.55" fill="#4a6a20" opacity="0.7"/>
<circle cx="382.0" cy="241.3" r="0.55" fill="#d8d070" opacity="0.7"/>
<circle cx="396.9" cy="277.8" r="0.55" fill="#d8d070" opacity="0.7"/>
<circle cx="381.8" cy="290.3" r="0.55" fill="#4a6a20" opacity="0.7"/>
<circle cx="395.4" cy="241.7" r="0.55" fill="#d8d070" opacity="0.7"/>
<circle cx="376.3" cy="272.8" r="0.55" fill="#e8e0a0" opacity="0.7"/>
<circle cx="389.7" cy="244.9" r="0.55" fill="#d8d070" opacity="0.7"/>
<circle cx="380.7" cy="247.9" r="0.55" fill="#c4c464" opacity="0.7"/>
<circle cx="381.9" cy="291.2" r="0.55" fill="#d8d070" opacity="0.7"/>
<circle cx="378.7" cy="255.7" r="0.55" fill="#4a6a20" opacity="0.7"/>
<circle cx="379.1" cy="282.0" r="0.55" fill="#e8e0a0" opacity="0.7"/>
<circle cx="382.4" cy="269.8" r="0.55" fill="#d8d070" opacity="0.7"/>
<circle cx="383.1" cy="311.8" r="0.55" fill="#4a6a20" opacity="0.7"/>
<circle cx="389.1" cy="275.5" r="0.55" fill="#e8e0a0" opacity="0.7"/>
<circle cx="388.1" cy="314.9" r="0.55" fill="#d8d070" opacity="0.7"/>
<circle cx="391.1" cy="294.5" r="0.55" fill="#c4c464" opacity="0.7"/>
<circle cx="375.8" cy="253.5" r="0.55" fill="#d8d070" opacity="0.7"/>
<circle cx="397.0" cy="236.2" r="0.55" fill="#e8e0a0" opacity="0.7"/>
<circle cx="384.3" cy="267.4" r="0.55" fill="#c4c464" opacity="0.7"/>
<circle cx="380.4" cy="260.9" r="0.55" fill="#e8e0a0" opacity="0.7"/>
<circle cx="378.7" cy="287.4" r="0.55" fill="#c4c464" opacity="0.7"/>
<circle cx="390.2" cy="288.9" r="0.55" fill="#e8e0a0" opacity="0.7"/>
<circle cx="389.0" cy="272.2" r="0.55" fill="#c4c464" opacity="0.7"/>
<circle cx="392.3" cy="288.2" r="0.55" fill="#d8d070" opacity="0.7"/>
<circle cx="387.9" cy="249.7" r="0.55" fill="#4a6a20" opacity="0.7"/>
<circle cx="385.8" cy="235.8" r="0.55" fill="#c4c464" opacity="0.7"/>
<circle cx="397.2" cy="303.3" r="0.55" fill="#d8d070" opacity="0.7"/>
<circle cx="379.0" cy="249.3" r="0.55" fill="#c4c464" opacity="0.7"/>
<circle cx="392.6" cy="280.6" r="0.55" fill="#c4c464" opacity="0.7"/>
<circle cx="386.4" cy="298.9" r="0.55" fill="#c4c464" opacity="0.7"/>
<circle cx="378.0" cy="259.0" r="0.55" fill="#e8e0a0" opacity="0.7"/>
<circle cx="381.5" cy="294.7" r="0.55" fill="#4a6a20" opacity="0.7"/>
<circle cx="395.7" cy="260.1" r="0.55" fill="#d8d070" opacity="0.7"/>
<circle cx="389.2" cy="272.8" r="0.55" fill="#4a6a20" opacity="0.7"/>
<circle cx="396.8" cy="273.9" r="0.55" fill="#d8d070" opacity="0.7"/>
<circle cx="384.9" cy="261.4" r="0.55" fill="#c4c464" opacity="0.7"/>
<circle cx="394.2" cy="248.1" r="0.55" fill="#d8d070" opacity="0.7"/>
<circle cx="392.3" cy="258.8" r="0.55" fill="#e8e0a0" opacity="0.7"/>
<circle cx="387.9" cy="249.2" r="0.55" fill="#d8d070" opacity="0.7"/>
<circle cx="377.5" cy="262.6" r="0.55" fill="#e8e0a0" opacity="0.7"/>
<circle cx="393.9" cy="252.5" r="0.55" fill="#4a6a20" opacity="0.7"/>
<circle cx="390.7" cy="259.7" r="0.55" fill="#c4c464" opacity="0.7"/>
<circle cx="391.2" cy="262.8" r="0.55" fill="#d8d070" opacity="0.7"/>
<circle cx="392.2" cy="312.6" r="0.55" fill="#c4c464" opacity="0.7"/>
<circle cx="389.8" cy="235.7" r="0.55" fill="#e8e0a0" opacity="0.7"/>
<circle cx="387.0" cy="243.9" r="0.55" fill="#e8e0a0" opacity="0.7"/>
<circle cx="376.7" cy="283.2" r="0.55" fill="#4a6a20" opacity="0.7"/>
<circle cx="380.0" cy="245.2" r="0.55" fill="#d8d070" opacity="0.7"/>
<circle cx="388.0" cy="315.2" r="0.55" fill="#d8d070" opacity="0.7"/>
<circle cx="391.5" cy="266.5" r="0.55" fill="#d8d070" opacity="0.7"/>
<circle cx="387.7" cy="245.7" r="0.55" fill="#4a6a20" opacity="0.7"/>
<circle cx="380.7" cy="282.2" r="0.55" fill="#4a6a20" opacity="0.7"/>
<circle cx="385.9" cy="239.7" r="0.55" fill="#c4c464" opacity="0.7"/>
<circle cx="377.7" cy="298.4" r="0.55" fill="#4a6a20" opacity="0.7"/>
<circle cx="394.3" cy="235.2" r="0.55" fill="#d8d070" opacity="0.7"/>
<circle cx="397.3" cy="248.8" r="0.55" fill="#e8e0a0" opacity="0.7"/>
<circle cx="376.9" cy="255.1" r="0.55" fill="#d8d070" opacity="0.7"/>
<circle cx="396.8" cy="266.1" r="0.55" fill="#4a6a20" opacity="0.7"/>
<circle cx="392.6" cy="299.6" r="0.55" fill="#c4c464" opacity="0.7"/>
<circle cx="389.9" cy="243.4" r="0.55" fill="#d8d070" opacity="0.7"/>
<circle cx="393.6" cy="275.0" r="0.55" fill="#4a6a20" opacity="0.7"/>
<circle cx="381.3" cy="237.5" r="0.55" fill="#4a6a20" opacity="0.7"/>
<circle cx="391.0" cy="305.4" r="0.55" fill="#c4c464" opacity="0.7"/>
<circle cx="389.1" cy="276.9" r="0.55" fill="#4a6a20" opacity="0.7"/>
<circle cx="383.5" cy="259.3" r="0.55" fill="#4a6a20" opacity="0.7"/>
<circle cx="395.6" cy="264.3" r="0.55" fill="#c4c464" opacity="0.7"/>
<circle cx="387.7" cy="289.9" r="0.55" fill="#d8d070" opacity="0.7"/>
<circle cx="388.0" cy="260.6" r="0.55" fill="#4a6a20" opacity="0.7"/>
<circle cx="378.5" cy="315.3" r="0.55" fill="#c4c464" opacity="0.7"/>
<circle cx="388.2" cy="284.4" r="0.55" fill="#4a6a20" opacity="0.7"/>
<circle cx="393.5" cy="268.7" r="0.55" fill="#d8d070" opacity="0.7"/>
<circle cx="380.8" cy="313.7" r="0.55" fill="#e8e0a0" opacity="0.7"/>
<circle cx="380.9" cy="278.2" r="0.55" fill="#e8e0a0" opacity="0.7"/>
<circle cx="391.6" cy="265.9" r="0.55" fill="#d8d070" opacity="0.7"/>
<circle cx="395.6" cy="249.0" r="0.55" fill="#4a6a20" opacity="0.7"/>
<circle cx="392.0" cy="234.8" r="0.55" fill="#e8e0a0" opacity="0.7"/>
<circle cx="393.7" cy="252.2" r="0.55" fill="#e8e0a0" opacity="0.7"/>
<circle cx="378.9" cy="296.3" r="0.55" fill="#d8d070" opacity="0.7"/>
<circle cx="390.5" cy="250.6" r="0.55" fill="#d8d070" opacity="0.7"/>
<line x1="386.6" y1="239.5" x2="386.6" y2="313.5" stroke="#d8d09a" stroke-width="2" opacity="0.45" stroke-dasharray="2,2.5"/>
<path d="M474.7,317.7 L474.7,244.6 C474.7,235.7 480.8,233.0 488.4,233.0 C495.9,233.0 502.0,235.7 502.0,244.6 L502.0,317.7 Q488.4,320.2 474.7,317.7z" fill="url(#pilC)" opacity="1"/>
<path d="M474.7,317.7 L474.7,244.6 C474.7,235.7 480.8,233.0 488.4,233.0 C495.9,233.0 502.0,235.7 502.0,244.6 L502.0,317.7 Q488.4,320.2 474.7,317.7z" fill="none" stroke="#4c9c84" stroke-width="1.4" opacity="0.55"/>
<circle cx="499.1" cy="261.7" r="0.55" fill="#4a6a20" opacity="0.7"/>
<circle cx="477.5" cy="305.7" r="0.55" fill="#4a6a20" opacity="0.7"/>
<circle cx="490.5" cy="299.3" r="0.55" fill="#c4c464" opacity="0.7"/>
<circle cx="479.5" cy="301.8" r="0.55" fill="#c4c464" opacity="0.7"/>
<circle cx="487.1" cy="286.6" r="0.55" fill="#4a6a20" opacity="0.7"/>
<circle cx="497.0" cy="293.4" r="0.55" fill="#e8e0a0" opacity="0.7"/>
<circle cx="487.2" cy="300.7" r="0.55" fill="#4a6a20" opacity="0.7"/>
<circle cx="492.6" cy="250.9" r="0.55" fill="#4a6a20" opacity="0.7"/>
<circle cx="480.8" cy="266.2" r="0.55" fill="#e8e0a0" opacity="0.7"/>
<circle cx="487.3" cy="255.5" r="0.55" fill="#e8e0a0" opacity="0.7"/>
<circle cx="500.1" cy="280.9" r="0.55" fill="#4a6a20" opacity="0.7"/>
<circle cx="488.0" cy="308.3" r="0.55" fill="#4a6a20" opacity="0.7"/>
<circle cx="488.8" cy="245.7" r="0.55" fill="#c4c464" opacity="0.7"/>
<circle cx="492.9" cy="279.7" r="0.55" fill="#d8d070" opacity="0.7"/>
<circle cx="498.7" cy="279.4" r="0.55" fill="#e8e0a0" opacity="0.7"/>
<circle cx="498.7" cy="283.0" r="0.55" fill="#c4c464" opacity="0.7"/>
<circle cx="480.0" cy="292.7" r="0.55" fill="#c4c464" opacity="0.7"/>
<circle cx="497.3" cy="268.8" r="0.55" fill="#c4c464" opacity="0.7"/>
<circle cx="479.8" cy="303.2" r="0.55" fill="#d8d070" opacity="0.7"/>
<circle cx="489.4" cy="308.9" r="0.55" fill="#c4c464" opacity="0.7"/>
<circle cx="495.3" cy="246.6" r="0.55" fill="#e8e0a0" opacity="0.7"/>
<circle cx="496.6" cy="289.5" r="0.55" fill="#c4c464" opacity="0.7"/>
<circle cx="494.9" cy="266.9" r="0.55" fill="#4a6a20" opacity="0.7"/>
<circle cx="491.3" cy="310.4" r="0.55" fill="#e8e0a0" opacity="0.7"/>
<circle cx="479.9" cy="238.4" r="0.55" fill="#e8e0a0" opacity="0.7"/>
<circle cx="491.4" cy="307.0" r="0.55" fill="#d8d070" opacity="0.7"/>
<circle cx="499.4" cy="274.6" r="0.55" fill="#c4c464" opacity="0.7"/>
<circle cx="484.1" cy="270.2" r="0.55" fill="#d8d070" opacity="0.7"/>
<circle cx="486.9" cy="291.5" r="0.55" fill="#4a6a20" opacity="0.7"/>
<circle cx="495.4" cy="236.4" r="0.55" fill="#4a6a20" opacity="0.7"/>
<circle cx="479.9" cy="298.6" r="0.55" fill="#c4c464" opacity="0.7"/>
<circle cx="489.8" cy="272.0" r="0.55" fill="#4a6a20" opacity="0.7"/>
<circle cx="495.1" cy="264.3" r="0.55" fill="#4a6a20" opacity="0.7"/>
<circle cx="492.0" cy="251.2" r="0.55" fill="#4a6a20" opacity="0.7"/>
<circle cx="479.0" cy="275.0" r="0.55" fill="#c4c464" opacity="0.7"/>
<circle cx="499.7" cy="250.2" r="0.55" fill="#4a6a20" opacity="0.7"/>
<circle cx="477.9" cy="279.8" r="0.55" fill="#e8e0a0" opacity="0.7"/>
<circle cx="497.0" cy="249.2" r="0.55" fill="#e8e0a0" opacity="0.7"/>
<circle cx="492.2" cy="254.7" r="0.55" fill="#4a6a20" opacity="0.7"/>
<circle cx="489.6" cy="256.5" r="0.55" fill="#e8e0a0" opacity="0.7"/>
<circle cx="497.9" cy="311.3" r="0.55" fill="#c4c464" opacity="0.7"/>
<circle cx="482.8" cy="290.5" r="0.55" fill="#4a6a20" opacity="0.7"/>
<circle cx="493.8" cy="295.5" r="0.55" fill="#4a6a20" opacity="0.7"/>
<circle cx="498.9" cy="267.5" r="0.55" fill="#d8d070" opacity="0.7"/>
<circle cx="491.1" cy="280.3" r="0.55" fill="#d8d070" opacity="0.7"/>
<circle cx="492.5" cy="276.1" r="0.55" fill="#e8e0a0" opacity="0.7"/>
<circle cx="476.9" cy="301.4" r="0.55" fill="#e8e0a0" opacity="0.7"/>
<circle cx="490.0" cy="295.5" r="0.55" fill="#e8e0a0" opacity="0.7"/>
<circle cx="499.5" cy="236.1" r="0.55" fill="#d8d070" opacity="0.7"/>
<circle cx="497.2" cy="243.2" r="0.55" fill="#4a6a20" opacity="0.7"/>
<circle cx="497.0" cy="280.1" r="0.55" fill="#d8d070" opacity="0.7"/>
<circle cx="486.0" cy="247.3" r="0.55" fill="#c4c464" opacity="0.7"/>
<circle cx="482.8" cy="289.4" r="0.55" fill="#c4c464" opacity="0.7"/>
<circle cx="483.7" cy="276.9" r="0.55" fill="#c4c464" opacity="0.7"/>
<circle cx="493.3" cy="284.9" r="0.55" fill="#c4c464" opacity="0.7"/>
<circle cx="493.3" cy="240.3" r="0.55" fill="#4a6a20" opacity="0.7"/>
<circle cx="487.7" cy="244.6" r="0.55" fill="#d8d070" opacity="0.7"/>
<circle cx="477.2" cy="236.3" r="0.55" fill="#d8d070" opacity="0.7"/>
<circle cx="498.2" cy="294.2" r="0.55" fill="#d8d070" opacity="0.7"/>
<circle cx="477.7" cy="250.6" r="0.55" fill="#e8e0a0" opacity="0.7"/>
<circle cx="481.6" cy="239.0" r="0.55" fill="#e8e0a0" opacity="0.7"/>
<circle cx="488.7" cy="282.9" r="0.55" fill="#d8d070" opacity="0.7"/>
<circle cx="483.0" cy="316.4" r="0.55" fill="#4a6a20" opacity="0.7"/>
<circle cx="477.5" cy="311.1" r="0.55" fill="#d8d070" opacity="0.7"/>
<circle cx="488.0" cy="295.5" r="0.55" fill="#d8d070" opacity="0.7"/>
<circle cx="479.4" cy="269.7" r="0.55" fill="#c4c464" opacity="0.7"/>
<circle cx="490.3" cy="239.7" r="0.55" fill="#4a6a20" opacity="0.7"/>
<circle cx="479.8" cy="273.0" r="0.55" fill="#4a6a20" opacity="0.7"/>
<circle cx="482.7" cy="296.3" r="0.55" fill="#d8d070" opacity="0.7"/>
<circle cx="496.7" cy="300.7" r="0.55" fill="#d8d070" opacity="0.7"/>
<circle cx="494.8" cy="313.2" r="0.55" fill="#4a6a20" opacity="0.7"/>
<circle cx="482.0" cy="274.1" r="0.55" fill="#e8e0a0" opacity="0.7"/>
<circle cx="489.3" cy="250.3" r="0.55" fill="#d8d070" opacity="0.7"/>
<circle cx="480.3" cy="307.2" r="0.55" fill="#4a6a20" opacity="0.7"/>
<circle cx="486.2" cy="288.5" r="0.55" fill="#d8d070" opacity="0.7"/>
<circle cx="492.8" cy="247.4" r="0.55" fill="#e8e0a0" opacity="0.7"/>
<circle cx="476.2" cy="259.4" r="0.55" fill="#d8d070" opacity="0.7"/>
<circle cx="490.4" cy="294.7" r="0.55" fill="#4a6a20" opacity="0.7"/>
<circle cx="483.1" cy="283.9" r="0.55" fill="#c4c464" opacity="0.7"/>
<circle cx="484.1" cy="305.9" r="0.55" fill="#e8e0a0" opacity="0.7"/>
<circle cx="491.3" cy="259.3" r="0.55" fill="#e8e0a0" opacity="0.7"/>
<circle cx="492.4" cy="285.2" r="0.55" fill="#e8e0a0" opacity="0.7"/>
<circle cx="492.4" cy="281.9" r="0.55" fill="#c4c464" opacity="0.7"/>
<circle cx="496.3" cy="304.6" r="0.55" fill="#e8e0a0" opacity="0.7"/>
<circle cx="486.4" cy="289.0" r="0.55" fill="#d8d070" opacity="0.7"/>
<circle cx="495.9" cy="255.0" r="0.55" fill="#e8e0a0" opacity="0.7"/>
<circle cx="478.9" cy="288.5" r="0.55" fill="#4a6a20" opacity="0.7"/>
<circle cx="485.1" cy="274.6" r="0.55" fill="#e8e0a0" opacity="0.7"/>
<circle cx="497.6" cy="295.7" r="0.55" fill="#d8d070" opacity="0.7"/>
<circle cx="491.6" cy="244.8" r="0.55" fill="#4a6a20" opacity="0.7"/>
<circle cx="477.7" cy="316.6" r="0.55" fill="#e8e0a0" opacity="0.7"/>
<circle cx="480.2" cy="252.8" r="0.55" fill="#c4c464" opacity="0.7"/>
<circle cx="491.6" cy="306.9" r="0.55" fill="#4a6a20" opacity="0.7"/>
<circle cx="486.9" cy="306.0" r="0.55" fill="#4a6a20" opacity="0.7"/>
<circle cx="498.3" cy="296.8" r="0.55" fill="#4a6a20" opacity="0.7"/>
<circle cx="495.9" cy="242.6" r="0.55" fill="#d8d070" opacity="0.7"/>
<circle cx="481.7" cy="258.7" r="0.55" fill="#c4c464" opacity="0.7"/>
<circle cx="497.1" cy="265.5" r="0.55" fill="#4a6a20" opacity="0.7"/>
<circle cx="483.5" cy="240.2" r="0.55" fill="#d8d070" opacity="0.7"/>
<circle cx="499.4" cy="278.1" r="0.55" fill="#d8d070" opacity="0.7"/>
<circle cx="479.3" cy="275.2" r="0.55" fill="#4a6a20" opacity="0.7"/>
<circle cx="495.1" cy="279.7" r="0.55" fill="#e8e0a0" opacity="0.7"/>
<circle cx="494.0" cy="252.8" r="0.55" fill="#d8d070" opacity="0.7"/>
<circle cx="496.4" cy="268.3" r="0.55" fill="#d8d070" opacity="0.7"/>
<circle cx="480.6" cy="236.8" r="0.55" fill="#d8d070" opacity="0.7"/>
<circle cx="484.9" cy="271.7" r="0.55" fill="#d8d070" opacity="0.7"/>
<circle cx="489.8" cy="289.6" r="0.55" fill="#4a6a20" opacity="0.7"/>
<circle cx="477.0" cy="288.5" r="0.55" fill="#c4c464" opacity="0.7"/>
<circle cx="483.5" cy="283.1" r="0.55" fill="#d8d070" opacity="0.7"/>
<circle cx="481.6" cy="278.6" r="0.55" fill="#d8d070" opacity="0.7"/>
<circle cx="479.5" cy="303.7" r="0.55" fill="#c4c464" opacity="0.7"/>
<circle cx="497.8" cy="281.9" r="0.55" fill="#e8e0a0" opacity="0.7"/>
<circle cx="498.8" cy="293.0" r="0.55" fill="#d8d070" opacity="0.7"/>
<circle cx="478.7" cy="312.8" r="0.55" fill="#d8d070" opacity="0.7"/>
<circle cx="478.5" cy="314.6" r="0.55" fill="#4a6a20" opacity="0.7"/>
<circle cx="486.5" cy="239.7" r="0.55" fill="#e8e0a0" opacity="0.7"/>
<circle cx="479.2" cy="276.1" r="0.55" fill="#d8d070" opacity="0.7"/>
<circle cx="493.1" cy="255.2" r="0.55" fill="#4a6a20" opacity="0.7"/>
<circle cx="494.2" cy="303.0" r="0.55" fill="#e8e0a0" opacity="0.7"/>
<circle cx="491.8" cy="268.5" r="0.55" fill="#e8e0a0" opacity="0.7"/>
<circle cx="496.6" cy="245.1" r="0.55" fill="#4a6a20" opacity="0.7"/>
<circle cx="496.6" cy="243.4" r="0.55" fill="#e8e0a0" opacity="0.7"/>
<circle cx="480.4" cy="237.6" r="0.55" fill="#d8d070" opacity="0.7"/>
<circle cx="476.6" cy="268.6" r="0.55" fill="#c4c464" opacity="0.7"/>
<circle cx="493.2" cy="240.2" r="0.55" fill="#e8e0a0" opacity="0.7"/>
<circle cx="487.0" cy="288.8" r="0.55" fill="#e8e0a0" opacity="0.7"/>
<circle cx="489.7" cy="267.9" r="0.55" fill="#d8d070" opacity="0.7"/>
<circle cx="495.0" cy="291.0" r="0.55" fill="#c4c464" opacity="0.7"/>
<circle cx="481.4" cy="314.1" r="0.55" fill="#d8d070" opacity="0.7"/>
<circle cx="477.8" cy="273.9" r="0.55" fill="#d8d070" opacity="0.7"/>
<circle cx="484.4" cy="256.1" r="0.55" fill="#d8d070" opacity="0.7"/>
<circle cx="492.9" cy="255.4" r="0.55" fill="#d8d070" opacity="0.7"/>
<circle cx="484.6" cy="305.6" r="0.55" fill="#d8d070" opacity="0.7"/>
<circle cx="476.4" cy="265.3" r="0.55" fill="#d8d070" opacity="0.7"/>
<circle cx="492.9" cy="314.7" r="0.55" fill="#c4c464" opacity="0.7"/>
<circle cx="499.6" cy="252.9" r="0.55" fill="#e8e0a0" opacity="0.7"/>
<circle cx="490.1" cy="246.4" r="0.55" fill="#e8e0a0" opacity="0.7"/>
<circle cx="492.3" cy="298.8" r="0.55" fill="#e8e0a0" opacity="0.7"/>
<circle cx="488.4" cy="295.3" r="0.55" fill="#4a6a20" opacity="0.7"/>
<circle cx="488.1" cy="271.3" r="0.55" fill="#d8d070" opacity="0.7"/>
<line x1="488.4" y1="241" x2="488.4" y2="313.7" stroke="#d8d09a" stroke-width="2" opacity="0.45" stroke-dasharray="2,2.5"/>
<path d="M524.3,319.3 L524.3,244.8 C524.3,236.2 530.3,233.5 537.5,233.5 C544.8,233.5 550.8,236.2 550.8,244.8 L550.8,319.3 Q537.5,321.8 524.3,319.3z" fill="url(#pilC)" opacity="1"/>
<path d="M524.3,319.3 L524.3,244.8 C524.3,236.2 530.3,233.5 537.5,233.5 C544.8,233.5 550.8,236.2 550.8,244.8 L550.8,319.3 Q537.5,321.8 524.3,319.3z" fill="none" stroke="#4c9c84" stroke-width="1.4" opacity="0.55"/>
<circle cx="531.0" cy="236.5" r="0.55" fill="#e8e0a0" opacity="0.7"/>
<circle cx="536.1" cy="281.2" r="0.55" fill="#e8e0a0" opacity="0.7"/>
<circle cx="532.5" cy="256.0" r="0.55" fill="#c4c464" opacity="0.7"/>
<circle cx="547.0" cy="272.8" r="0.55" fill="#e8e0a0" opacity="0.7"/>
<circle cx="537.8" cy="294.1" r="0.55" fill="#d8d070" opacity="0.7"/>
<circle cx="540.9" cy="243.8" r="0.55" fill="#d8d070" opacity="0.7"/>
<circle cx="529.4" cy="242.5" r="0.55" fill="#c4c464" opacity="0.7"/>
<circle cx="534.3" cy="276.7" r="0.55" fill="#4a6a20" opacity="0.7"/>
<circle cx="541.0" cy="238.0" r="0.55" fill="#e8e0a0" opacity="0.7"/>
<circle cx="534.2" cy="270.8" r="0.55" fill="#e8e0a0" opacity="0.7"/>
<circle cx="526.0" cy="315.9" r="0.55" fill="#e8e0a0" opacity="0.7"/>
<circle cx="547.5" cy="312.2" r="0.55" fill="#c4c464" opacity="0.7"/>
<circle cx="527.5" cy="300.8" r="0.55" fill="#e8e0a0" opacity="0.7"/>
<circle cx="548.1" cy="310.8" r="0.55" fill="#4a6a20" opacity="0.7"/>
<circle cx="534.5" cy="296.7" r="0.55" fill="#e8e0a0" opacity="0.7"/>
<circle cx="536.5" cy="265.7" r="0.55" fill="#4a6a20" opacity="0.7"/>
<circle cx="545.6" cy="287.9" r="0.55" fill="#e8e0a0" opacity="0.7"/>
<circle cx="529.5" cy="249.8" r="0.55" fill="#c4c464" opacity="0.7"/>
<circle cx="543.0" cy="291.0" r="0.55" fill="#e8e0a0" opacity="0.7"/>
<circle cx="532.5" cy="296.0" r="0.55" fill="#4a6a20" opacity="0.7"/>
<circle cx="539.2" cy="282.2" r="0.55" fill="#e8e0a0" opacity="0.7"/>
<circle cx="534.7" cy="271.6" r="0.55" fill="#c4c464" opacity="0.7"/>
<circle cx="527.4" cy="314.8" r="0.55" fill="#d8d070" opacity="0.7"/>
<circle cx="530.4" cy="244.6" r="0.55" fill="#e8e0a0" opacity="0.7"/>
<circle cx="533.4" cy="268.5" r="0.55" fill="#e8e0a0" opacity="0.7"/>
<circle cx="526.9" cy="278.3" r="0.55" fill="#d8d070" opacity="0.7"/>
<circle cx="543.1" cy="311.2" r="0.55" fill="#4a6a20" opacity="0.7"/>
<circle cx="546.4" cy="291.3" r="0.55" fill="#e8e0a0" opacity="0.7"/>
<circle cx="529.8" cy="303.3" r="0.55" fill="#d8d070" opacity="0.7"/>
<circle cx="540.6" cy="318.2" r="0.55" fill="#e8e0a0" opacity="0.7"/>
<circle cx="548.7" cy="288.7" r="0.55" fill="#c4c464" opacity="0.7"/>
<circle cx="546.4" cy="279.3" r="0.55" fill="#4a6a20" opacity="0.7"/>
<circle cx="540.5" cy="267.5" r="0.55" fill="#e8e0a0" opacity="0.7"/>
<circle cx="530.9" cy="300.3" r="0.55" fill="#d8d070" opacity="0.7"/>
<circle cx="540.7" cy="311.0" r="0.55" fill="#d8d070" opacity="0.7"/>
<circle cx="531.1" cy="247.0" r="0.55" fill="#c4c464" opacity="0.7"/>
<circle cx="548.2" cy="297.6" r="0.55" fill="#c4c464" opacity="0.7"/>
<circle cx="548.7" cy="292.6" r="0.55" fill="#4a6a20" opacity="0.7"/>
<circle cx="533.9" cy="269.8" r="0.55" fill="#e8e0a0" opacity="0.7"/>
<circle cx="532.2" cy="249.7" r="0.55" fill="#e8e0a0" opacity="0.7"/>
<circle cx="532.1" cy="296.3" r="0.55" fill="#c4c464" opacity="0.7"/>
<circle cx="530.0" cy="266.2" r="0.55" fill="#e8e0a0" opacity="0.7"/>
<circle cx="529.6" cy="310.1" r="0.55" fill="#4a6a20" opacity="0.7"/>
<circle cx="525.9" cy="313.9" r="0.55" fill="#e8e0a0" opacity="0.7"/>
<circle cx="525.9" cy="273.3" r="0.55" fill="#c4c464" opacity="0.7"/>
<circle cx="547.1" cy="272.0" r="0.55" fill="#c4c464" opacity="0.7"/>
<circle cx="541.8" cy="275.8" r="0.55" fill="#e8e0a0" opacity="0.7"/>
<circle cx="534.7" cy="258.8" r="0.55" fill="#c4c464" opacity="0.7"/>
<circle cx="528.2" cy="256.5" r="0.55" fill="#c4c464" opacity="0.7"/>
<circle cx="544.8" cy="276.0" r="0.55" fill="#4a6a20" opacity="0.7"/>
<circle cx="547.4" cy="250.7" r="0.55" fill="#e8e0a0" opacity="0.7"/>
<circle cx="546.3" cy="239.0" r="0.55" fill="#c4c464" opacity="0.7"/>
<circle cx="541.6" cy="290.9" r="0.55" fill="#e8e0a0" opacity="0.7"/>
<circle cx="530.3" cy="303.5" r="0.55" fill="#e8e0a0" opacity="0.7"/>
<circle cx="535.2" cy="263.4" r="0.55" fill="#e8e0a0" opacity="0.7"/>
<circle cx="526.5" cy="307.3" r="0.55" fill="#c4c464" opacity="0.7"/>
<circle cx="544.0" cy="251.3" r="0.55" fill="#d8d070" opacity="0.7"/>
<circle cx="535.1" cy="285.7" r="0.55" fill="#e8e0a0" opacity="0.7"/>
<circle cx="532.5" cy="248.6" r="0.55" fill="#e8e0a0" opacity="0.7"/>
<circle cx="537.8" cy="314.0" r="0.55" fill="#c4c464" opacity="0.7"/>
<circle cx="530.3" cy="315.8" r="0.55" fill="#e8e0a0" opacity="0.7"/>
<circle cx="526.6" cy="279.0" r="0.55" fill="#c4c464" opacity="0.7"/>
<circle cx="546.2" cy="298.0" r="0.55" fill="#e8e0a0" opacity="0.7"/>
<circle cx="533.5" cy="280.4" r="0.55" fill="#4a6a20" opacity="0.7"/>
<circle cx="529.2" cy="313.9" r="0.55" fill="#d8d070" opacity="0.7"/>
<circle cx="528.3" cy="269.3" r="0.55" fill="#4a6a20" opacity="0.7"/>
<circle cx="526.1" cy="306.5" r="0.55" fill="#4a6a20" opacity="0.7"/>
<circle cx="542.3" cy="265.5" r="0.55" fill="#c4c464" opacity="0.7"/>
<circle cx="544.3" cy="264.0" r="0.55" fill="#d8d070" opacity="0.7"/>
<circle cx="541.8" cy="275.3" r="0.55" fill="#e8e0a0" opacity="0.7"/>
<circle cx="548.4" cy="251.5" r="0.55" fill="#4a6a20" opacity="0.7"/>
<circle cx="537.1" cy="287.1" r="0.55" fill="#4a6a20" opacity="0.7"/>
<circle cx="537.0" cy="315.7" r="0.55" fill="#e8e0a0" opacity="0.7"/>
<circle cx="536.2" cy="280.1" r="0.55" fill="#e8e0a0" opacity="0.7"/>
<circle cx="528.5" cy="245.1" r="0.55" fill="#d8d070" opacity="0.7"/>
<circle cx="529.7" cy="290.5" r="0.55" fill="#d8d070" opacity="0.7"/>
<circle cx="533.1" cy="317.8" r="0.55" fill="#e8e0a0" opacity="0.7"/>
<circle cx="533.4" cy="303.8" r="0.55" fill="#4a6a20" opacity="0.7"/>
<circle cx="549.1" cy="238.2" r="0.55" fill="#c4c464" opacity="0.7"/>
<circle cx="543.2" cy="313.7" r="0.55" fill="#e8e0a0" opacity="0.7"/>
<circle cx="532.2" cy="280.4" r="0.55" fill="#c4c464" opacity="0.7"/>
<circle cx="532.8" cy="241.5" r="0.55" fill="#e8e0a0" opacity="0.7"/>
<circle cx="532.2" cy="294.6" r="0.55" fill="#c4c464" opacity="0.7"/>
<circle cx="548.2" cy="237.9" r="0.55" fill="#d8d070" opacity="0.7"/>
<circle cx="543.3" cy="278.7" r="0.55" fill="#c4c464" opacity="0.7"/>
<circle cx="538.6" cy="275.1" r="0.55" fill="#e8e0a0" opacity="0.7"/>
<circle cx="530.1" cy="280.8" r="0.55" fill="#c4c464" opacity="0.7"/>
<circle cx="539.9" cy="257.5" r="0.55" fill="#e8e0a0" opacity="0.7"/>
<circle cx="546.5" cy="283.1" r="0.55" fill="#4a6a20" opacity="0.7"/>
<circle cx="529.2" cy="300.5" r="0.55" fill="#e8e0a0" opacity="0.7"/>
<circle cx="536.3" cy="265.7" r="0.55" fill="#e8e0a0" opacity="0.7"/>
<circle cx="526.8" cy="306.8" r="0.55" fill="#4a6a20" opacity="0.7"/>
<circle cx="538.8" cy="284.7" r="0.55" fill="#d8d070" opacity="0.7"/>
<circle cx="537.0" cy="311.7" r="0.55" fill="#e8e0a0" opacity="0.7"/>
<circle cx="526.0" cy="275.4" r="0.55" fill="#e8e0a0" opacity="0.7"/>
<circle cx="529.9" cy="251.2" r="0.55" fill="#e8e0a0" opacity="0.7"/>
<circle cx="537.7" cy="292.8" r="0.55" fill="#d8d070" opacity="0.7"/>
<circle cx="544.9" cy="256.1" r="0.55" fill="#e8e0a0" opacity="0.7"/>
<circle cx="531.6" cy="245.3" r="0.55" fill="#c4c464" opacity="0.7"/>
<circle cx="533.6" cy="243.4" r="0.55" fill="#c4c464" opacity="0.7"/>
<circle cx="544.6" cy="248.7" r="0.55" fill="#4a6a20" opacity="0.7"/>
<circle cx="533.2" cy="294.9" r="0.55" fill="#e8e0a0" opacity="0.7"/>
<circle cx="538.4" cy="251.6" r="0.55" fill="#c4c464" opacity="0.7"/>
<circle cx="545.8" cy="284.1" r="0.55" fill="#d8d070" opacity="0.7"/>
<circle cx="538.2" cy="237.3" r="0.55" fill="#e8e0a0" opacity="0.7"/>
<circle cx="544.1" cy="307.5" r="0.55" fill="#d8d070" opacity="0.7"/>
<circle cx="538.3" cy="240.9" r="0.55" fill="#d8d070" opacity="0.7"/>
<circle cx="533.9" cy="253.8" r="0.55" fill="#d8d070" opacity="0.7"/>
<circle cx="533.6" cy="253.0" r="0.55" fill="#d8d070" opacity="0.7"/>
<circle cx="531.4" cy="238.1" r="0.55" fill="#4a6a20" opacity="0.7"/>
<circle cx="539.0" cy="288.8" r="0.55" fill="#d8d070" opacity="0.7"/>
<circle cx="536.0" cy="312.1" r="0.55" fill="#d8d070" opacity="0.7"/>
<circle cx="545.4" cy="304.6" r="0.55" fill="#d8d070" opacity="0.7"/>
<circle cx="526.3" cy="308.9" r="0.55" fill="#4a6a20" opacity="0.7"/>
<circle cx="527.1" cy="262.4" r="0.55" fill="#4a6a20" opacity="0.7"/>
<circle cx="545.9" cy="257.4" r="0.55" fill="#e8e0a0" opacity="0.7"/>
<circle cx="535.2" cy="279.7" r="0.55" fill="#c4c464" opacity="0.7"/>
<circle cx="544.1" cy="287.5" r="0.55" fill="#d8d070" opacity="0.7"/>
<circle cx="549.3" cy="271.2" r="0.55" fill="#d8d070" opacity="0.7"/>
<circle cx="532.6" cy="263.2" r="0.55" fill="#d8d070" opacity="0.7"/>
<circle cx="543.0" cy="267.6" r="0.55" fill="#d8d070" opacity="0.7"/>
<circle cx="529.5" cy="253.0" r="0.55" fill="#e8e0a0" opacity="0.7"/>
<circle cx="528.3" cy="287.6" r="0.55" fill="#d8d070" opacity="0.7"/>
<circle cx="540.5" cy="238.4" r="0.55" fill="#c4c464" opacity="0.7"/>
<circle cx="535.6" cy="283.5" r="0.55" fill="#c4c464" opacity="0.7"/>
<circle cx="546.5" cy="248.0" r="0.55" fill="#c4c464" opacity="0.7"/>
<circle cx="532.3" cy="272.0" r="0.55" fill="#4a6a20" opacity="0.7"/>
<circle cx="527.7" cy="309.9" r="0.55" fill="#e8e0a0" opacity="0.7"/>
<circle cx="534.2" cy="290.1" r="0.55" fill="#e8e0a0" opacity="0.7"/>
<circle cx="540.2" cy="289.4" r="0.55" fill="#d8d070" opacity="0.7"/>
<circle cx="547.9" cy="273.0" r="0.55" fill="#4a6a20" opacity="0.7"/>
<circle cx="530.9" cy="281.5" r="0.55" fill="#d8d070" opacity="0.7"/>
<circle cx="539.5" cy="309.4" r="0.55" fill="#4a6a20" opacity="0.7"/>
<circle cx="545.3" cy="291.6" r="0.55" fill="#4a6a20" opacity="0.7"/>
<circle cx="527.0" cy="255.2" r="0.55" fill="#e8e0a0" opacity="0.7"/>
<circle cx="540.9" cy="277.7" r="0.55" fill="#4a6a20" opacity="0.7"/>
<circle cx="547.2" cy="268.1" r="0.55" fill="#e8e0a0" opacity="0.7"/>
<circle cx="545.1" cy="256.5" r="0.55" fill="#c4c464" opacity="0.7"/>
<circle cx="534.5" cy="254.2" r="0.55" fill="#d8d070" opacity="0.7"/>
<circle cx="547.5" cy="265.0" r="0.55" fill="#e8e0a0" opacity="0.7"/>
<line x1="537.5" y1="241.5" x2="537.5" y2="315.3" stroke="#d8d09a" stroke-width="2" opacity="0.45" stroke-dasharray="2,2.5"/>
<path d="M310,257.0 L311,257.0 L312,257.0 L313,257.0 L314,256.9 L315,256.7 L316,256.4 L317,256.1 L318,255.8 L319,255.4 L320,255.0 L321,254.6 L322,254.2 L323,253.8 L324,253.3 L325,252.8 L326,252.3 L327,251.8 L328,251.3 L329,250.7 L330,250.2 L331,249.6 L332,249.0 L333,248.4 L334,247.8 L335,247.2 L336,247.4 L337,248.0 L338,248.6 L339,249.2 L340,249.8 L341,250.4 L342,250.9 L343,251.4 L344,252.0 L345,252.2 L346,251.6 L347,250.9 L348,250.3 L349,249.6 L350,248.9 L351,248.2 L352,247.5 L353,247.3 L354,248.0 L355,248.7 L356,249.4 L357,250.1 L358,250.7 L359,251.4 L360,252.0 L361,252.6 L362,253.2 L363,253.7 L364,254.2 L365,254.7 L366,255.2 L367,255.7 L368,256.1 L369,256.1 L370,255.7 L371,255.3 L372,254.9 L373,254.5 L374,254.1 L375,253.6 L376,253.1 L377,252.6 L378,252.1 L379,251.6 L380,251.0 L381,250.5 L382,249.9 L383,249.3 L384,248.7 L385,248.1 L386,247.4 L387,247.2 L388,247.9 L389,248.5 L390,249.1 L391,249.7 L392,250.3 L393,250.8 L394,251.4 L395,251.9 L396,252.5 L397,253.0 L398,252.7 L399,252.1 L400,251.5 L401,250.9 L402,250.3 L403,249.6 L404,249.0 L405,248.3 L406,247.6 L407,247.1 L408,247.9 L409,248.6 L410,249.2 L411,249.9 L412,250.5 L413,251.2 L414,251.8 L415,252.4 L416,252.9 L417,253.5 L418,254.0 L419,254.5 L420,255.0 L421,255.4 L422,255.8 L423,256.2 L424,256.3 L425,256.0 L426,255.6 L427,255.2 L428,254.7 L429,254.3 L430,253.8 L431,253.3 L432,252.7 L433,252.2 L434,251.6 L435,251.0 L436,250.4 L437,249.8 L438,249.1 L439,248.5 L440,247.8 L441,247.1 L442,247.6 L443,248.3 L444,248.9 L445,249.6 L446,250.2 L447,250.8 L448,251.4 L449,252.0 L450,252.3 L451,251.7 L452,251.0 L453,250.4 L454,249.7 L455,249.0 L456,248.3 L457,247.5 L458,247.2 L459,248.0 L460,248.7 L461,249.4 L462,250.1 L463,250.8 L464,251.4 L465,252.0 L466,252.7 L467,253.2 L468,253.8 L469,254.3 L470,254.8 L471,255.3 L472,255.3 L473,255.0 L474,254.5 L475,254.1 L476,253.7 L477,253.2 L478,252.7 L479,252.3 L480,251.7 L481,251.2 L482,250.7 L483,250.1 L484,249.6 L485,249.0 L486,248.4 L487,247.8 L488,247.2 L489,247.4 L490,248.0 L491,248.6 L492,249.2 L493,249.8 L494,250.3 L495,250.9 L496,251.4 L497,251.9 L498,252.4 L499,251.9 L500,251.2 L501,250.5 L502,249.8 L503,249.1 L504,248.3 L505,247.5 L506,247.2 L507,248.0 L508,248.8 L509,249.5 L510,250.2 L511,250.9 L512,251.6 L513,252.3 L514,252.9 L515,253.5 L516,254.1 L517,254.6 L518,255.1 L519,255.6 L520,255.9 L521,255.5 L522,255.1 L523,254.7 L524,254.3 L525,253.9 L526,253.4 L527,252.9 L528,252.4 L529,251.9 L530,251.4 L531,250.9 L532,250.3 L533,249.7 L534,249.2 L535,248.6 L536,248.0 L537,247.3 L538,247.3 L539,247.9 L540,248.5 L541,249.1 L542,249.7 L543,250.3 L544,250.8 L545,251.3 L546,251.9 L547,252.4 L548,252.9 L549,252.4 L550,251.7 L551,250.9 L552,250.1 L553,249.3 L554,248.5 L555,247.6 L556,247.3 L557,248.1 L558,249.0 L559,249.8 L560,250.6 L561,251.4 L562,252.1 L563,252.8 L564,253.5 L565,254.2 L566,254.8 L567,255.3 L568,255.8 L568,266.4 L564,267.1 L560,267.8 L556,268.3 L552,268.6 L548,268.5 L544,268.2 L540,267.7 L536,267.0 L532,266.3 L528,265.7 L524,265.4 L520,265.4 L516,265.7 L512,266.3 L508,267.0 L504,267.7 L500,268.2 L496,268.6 L492,268.6 L488,268.3 L484,267.7 L480,267.1 L476,266.4 L472,265.8 L468,265.5 L464,265.4 L460,265.7 L456,266.2 L452,266.9 L448,267.6 L444,268.2 L440,268.5 L436,268.6 L432,268.3 L428,267.8 L424,267.2 L420,266.5 L416,265.9 L412,265.5 L408,265.4 L404,265.6 L400,266.1 L396,266.8 L392,267.5 L388,268.1 L384,268.5 L380,268.6 L376,268.4 L372,267.9 L368,267.3 L364,266.6 L360,265.9 L356,265.5 L352,265.4 L348,265.6 L344,266.0 L340,266.7 L336,267.4 L332,268.0 L328,268.5 L324,268.6 L320,268.4 L316,268.0 L312,267.4 z" fill="#5a8cbc" opacity="0.5"/>
<path d="M310,257.0 L311,257.0 L312,257.0 L313,257.0 L314,256.9 L315,256.7 L316,256.4 L317,256.1 L318,255.8 L319,255.4 L320,255.0 L321,254.6 L322,254.2 L323,253.8 L324,253.3 L325,252.8 L326,252.3 L327,251.8 L328,251.3 L329,250.7 L330,250.2 L331,249.6 L332,249.0 L333,248.4 L334,247.8 L335,247.2 L336,247.4 L337,248.0 L338,248.6 L339,249.2 L340,249.8 L341,250.4 L342,250.9 L343,251.4 L344,252.0 L345,252.2 L346,251.6 L347,250.9 L348,250.3 L349,249.6 L350,248.9 L351,248.2 L352,247.5 L353,247.3 L354,248.0 L355,248.7 L356,249.4 L357,250.1 L358,250.7 L359,251.4 L360,252.0 L361,252.6 L362,253.2 L363,253.7 L364,254.2 L365,254.7 L366,255.2 L367,255.7 L368,256.1 L369,256.1 L370,255.7 L371,255.3 L372,254.9 L373,254.5 L374,254.1 L375,253.6 L376,253.1 L377,252.6 L378,252.1 L379,251.6 L380,251.0 L381,250.5 L382,249.9 L383,249.3 L384,248.7 L385,248.1 L386,247.4 L387,247.2 L388,247.9 L389,248.5 L390,249.1 L391,249.7 L392,250.3 L393,250.8 L394,251.4 L395,251.9 L396,252.5 L397,253.0 L398,252.7 L399,252.1 L400,251.5 L401,250.9 L402,250.3 L403,249.6 L404,249.0 L405,248.3 L406,247.6 L407,247.1 L408,247.9 L409,248.6 L410,249.2 L411,249.9 L412,250.5 L413,251.2 L414,251.8 L415,252.4 L416,252.9 L417,253.5 L418,254.0 L419,254.5 L420,255.0 L421,255.4 L422,255.8 L423,256.2 L424,256.3 L425,256.0 L426,255.6 L427,255.2 L428,254.7 L429,254.3 L430,253.8 L431,253.3 L432,252.7 L433,252.2 L434,251.6 L435,251.0 L436,250.4 L437,249.8 L438,249.1 L439,248.5 L440,247.8 L441,247.1 L442,247.6 L443,248.3 L444,248.9 L445,249.6 L446,250.2 L447,250.8 L448,251.4 L449,252.0 L450,252.3 L451,251.7 L452,251.0 L453,250.4 L454,249.7 L455,249.0 L456,248.3 L457,247.5 L458,247.2 L459,248.0 L460,248.7 L461,249.4 L462,250.1 L463,250.8 L464,251.4 L465,252.0 L466,252.7 L467,253.2 L468,253.8 L469,254.3 L470,254.8 L471,255.3 L472,255.3 L473,255.0 L474,254.5 L475,254.1 L476,253.7 L477,253.2 L478,252.7 L479,252.3 L480,251.7 L481,251.2 L482,250.7 L483,250.1 L484,249.6 L485,249.0 L486,248.4 L487,247.8 L488,247.2 L489,247.4 L490,248.0 L491,248.6 L492,249.2 L493,249.8 L494,250.3 L495,250.9 L496,251.4 L497,251.9 L498,252.4 L499,251.9 L500,251.2 L501,250.5 L502,249.8 L503,249.1 L504,248.3 L505,247.5 L506,247.2 L507,248.0 L508,248.8 L509,249.5 L510,250.2 L511,250.9 L512,251.6 L513,252.3 L514,252.9 L515,253.5 L516,254.1 L517,254.6 L518,255.1 L519,255.6 L520,255.9 L521,255.5 L522,255.1 L523,254.7 L524,254.3 L525,253.9 L526,253.4 L527,252.9 L528,252.4 L529,251.9 L530,251.4 L531,250.9 L532,250.3 L533,249.7 L534,249.2 L535,248.6 L536,248.0 L537,247.3 L538,247.3 L539,247.9 L540,248.5 L541,249.1 L542,249.7 L543,250.3 L544,250.8 L545,251.3 L546,251.9 L547,252.4 L548,252.9 L549,252.4 L550,251.7 L551,250.9 L552,250.1 L553,249.3 L554,248.5 L555,247.6 L556,247.3 L557,248.1 L558,249.0 L559,249.8 L560,250.6 L561,251.4 L562,252.1 L563,252.8 L564,253.5 L565,254.2 L566,254.8 L567,255.3 L568,255.8 L568,266.4 L564,267.1 L560,267.8 L556,268.3 L552,268.6 L548,268.5 L544,268.2 L540,267.7 L536,267.0 L532,266.3 L528,265.7 L524,265.4 L520,265.4 L516,265.7 L512,266.3 L508,267.0 L504,267.7 L500,268.2 L496,268.6 L492,268.6 L488,268.3 L484,267.7 L480,267.1 L476,266.4 L472,265.8 L468,265.5 L464,265.4 L460,265.7 L456,266.2 L452,266.9 L448,267.6 L444,268.2 L440,268.5 L436,268.6 L432,268.3 L428,267.8 L424,267.2 L420,266.5 L416,265.9 L412,265.5 L408,265.4 L404,265.6 L400,266.1 L396,266.8 L392,267.5 L388,268.1 L384,268.5 L380,268.6 L376,268.4 L372,267.9 L368,267.3 L364,266.6 L360,265.9 L356,265.5 L352,265.4 L348,265.6 L344,266.0 L340,266.7 L336,267.4 L332,268.0 L328,268.5 L324,268.6 L320,268.4 L316,268.0 L312,267.4 z" fill="none" stroke="#2f5f98" stroke-width="0.6" opacity="0.6"/>
<path d="M430.0,321.0 L430.0,242.8 C430.0,235.5 435.0,233.3 441.1,233.3 C447.3,233.3 452.3,235.5 452.3,242.8 L452.3,321.0 Q441.1,323.5 430.0,321.0z" fill="url(#pilB)" opacity="1"/>
<circle cx="441.9" cy="267.0" r="0.55" fill="#d8d070" opacity="0.7"/>
<circle cx="436.7" cy="295.0" r="0.55" fill="#d8d070" opacity="0.7"/>
<circle cx="439.0" cy="296.2" r="0.55" fill="#e8e0a0" opacity="0.7"/>
<circle cx="437.1" cy="308.5" r="0.55" fill="#e8e0a0" opacity="0.7"/>
<circle cx="450.0" cy="255.3" r="0.55" fill="#e8e0a0" opacity="0.7"/>
<circle cx="439.9" cy="253.1" r="0.55" fill="#4a6a20" opacity="0.7"/>
<circle cx="439.1" cy="246.2" r="0.55" fill="#c4c464" opacity="0.7"/>
<circle cx="438.9" cy="300.0" r="0.55" fill="#d8d070" opacity="0.7"/>
<circle cx="442.9" cy="252.8" r="0.55" fill="#e8e0a0" opacity="0.7"/>
<circle cx="433.4" cy="309.7" r="0.55" fill="#e8e0a0" opacity="0.7"/>
<circle cx="439.7" cy="238.9" r="0.55" fill="#e8e0a0" opacity="0.7"/>
<circle cx="436.1" cy="260.5" r="0.55" fill="#4a6a20" opacity="0.7"/>
<circle cx="440.0" cy="303.9" r="0.55" fill="#4a6a20" opacity="0.7"/>
<circle cx="445.7" cy="248.9" r="0.55" fill="#d8d070" opacity="0.7"/>
<circle cx="444.5" cy="245.1" r="0.55" fill="#c4c464" opacity="0.7"/>
<circle cx="439.1" cy="291.2" r="0.55" fill="#e8e0a0" opacity="0.7"/>
<circle cx="443.4" cy="258.8" r="0.55" fill="#e8e0a0" opacity="0.7"/>
<circle cx="437.3" cy="263.4" r="0.55" fill="#4a6a20" opacity="0.7"/>
<circle cx="434.9" cy="267.6" r="0.55" fill="#e8e0a0" opacity="0.7"/>
<circle cx="441.7" cy="245.7" r="0.55" fill="#c4c464" opacity="0.7"/>
<circle cx="434.4" cy="261.7" r="0.55" fill="#4a6a20" opacity="0.7"/>
<circle cx="437.9" cy="317.2" r="0.55" fill="#4a6a20" opacity="0.7"/>
<circle cx="435.3" cy="258.0" r="0.55" fill="#4a6a20" opacity="0.7"/>
<circle cx="446.3" cy="283.1" r="0.55" fill="#d8d070" opacity="0.7"/>
<circle cx="434.5" cy="276.4" r="0.55" fill="#c4c464" opacity="0.7"/>
<circle cx="439.8" cy="286.1" r="0.55" fill="#c4c464" opacity="0.7"/>
<circle cx="435.0" cy="308.7" r="0.55" fill="#c4c464" opacity="0.7"/>
<circle cx="437.6" cy="274.3" r="0.55" fill="#c4c464" opacity="0.7"/>
<circle cx="445.4" cy="263.3" r="0.55" fill="#e8e0a0" opacity="0.7"/>
<circle cx="436.4" cy="309.3" r="0.55" fill="#4a6a20" opacity="0.7"/>
<circle cx="449.2" cy="283.8" r="0.55" fill="#c4c464" opacity="0.7"/>
<circle cx="441.4" cy="297.6" r="0.55" fill="#c4c464" opacity="0.7"/>
<circle cx="435.4" cy="295.8" r="0.55" fill="#4a6a20" opacity="0.7"/>
<circle cx="432.2" cy="319.8" r="0.55" fill="#c4c464" opacity="0.7"/>
<circle cx="442.3" cy="310.1" r="0.55" fill="#c4c464" opacity="0.7"/>
<circle cx="439.6" cy="254.6" r="0.55" fill="#e8e0a0" opacity="0.7"/>
<circle cx="436.1" cy="268.4" r="0.55" fill="#4a6a20" opacity="0.7"/>
<circle cx="441.5" cy="245.5" r="0.55" fill="#d8d070" opacity="0.7"/>
<circle cx="445.1" cy="259.5" r="0.55" fill="#e8e0a0" opacity="0.7"/>
<circle cx="450.0" cy="275.4" r="0.55" fill="#e8e0a0" opacity="0.7"/>
<path d="M433.3,320.5 L433.3,242.4 C433.3,237.1 436.9,235.5 441.4,235.5 C445.9,235.5 449.5,237.1 449.5,242.4 L449.5,320.5 Q441.4,323.0 433.3,320.5z" fill="#2a9a3a" opacity="1"/>
<path d="M436.5,320.2 L436.5,242.4 C436.5,239.2 438.8,238.2 441.5,238.2 C444.2,238.2 446.5,239.2 446.5,242.4 L446.5,320.2 Q441.5,322.7 436.5,320.2z" fill="#f2e9bf" opacity="1"/>
<path d="M438.8,320.0 L438.8,242.8 C438.8,241.0 440.0,240.5 441.5,240.5 C443.0,240.5 444.2,241.0 444.2,242.8 L444.2,320.0 Q441.5,322.5 438.8,320.0z" fill="#fffaea" opacity="1"/>
<path d="M310,265.5 L312,265.9 L315,266.3 L318,266.7 L321,267.0 L324,267.1 L327,267.0 L330,266.8 L333,266.4 L336,265.9 L339,265.4 L342,264.9 L345,264.4 L348,264.1 L351,263.9 L354,263.9 L357,264.1 L360,264.4 L363,264.9 L366,265.4 L369,265.9 L372,266.4 L375,266.8 L378,267.0 L381,267.1 L384,267.0 L387,266.7 L390,266.3 L393,265.8 L396,265.3 L399,264.8 L402,264.4 L405,264.1 L408,263.9 L411,263.9 L414,264.1 L417,264.5 L420,265.0 L423,265.5 L426,266.0 L429,266.5 L432,266.8 L435,267.1 L438,267.1 L441,267.0 L444,266.7 L447,266.2 L450,265.7 L453,265.2 L456,264.7 L459,264.3 L462,264.0 L465,263.9 L468,264.0 L471,264.2 L474,264.6 L477,265.0 L480,265.6 L483,266.1 L486,266.5 L489,266.9 L492,267.1 L495,267.1 L498,266.9 L501,266.6 L504,266.2 L507,265.7 L510,265.1 L513,264.6 L516,264.2 L519,264.0 L522,263.9 L525,264.0 L528,264.2 L531,264.6 L534,265.1 L537,265.6 L540,266.2 L543,266.6 L546,266.9 L549,267.1 L552,267.1 L555,266.9 L558,266.6 L561,266.1 L564,265.6 L567,265.1" fill="none" stroke="#111" stroke-width="1.1" stroke-dasharray="2.8,1.8"/>
</g>
<text x="347.0" y="216.1" font-size="11" fill="#161414" stroke="#161414" stroke-width="0.22" textLength="31.4" lengthAdjust="spacingAndGlyphs" >Liquid</text>
<circle cx="321.3" cy="212.4" r="2.4" fill="#1a1a1a"/><line x1="321.3" y1="212.4" x2="342.9" y2="212.4" stroke="#1a1a1a" stroke-width="1"/>
<text x="431.5" y="205.7" font-size="11" fill="#161414" stroke="#161414" stroke-width="0.22" textLength="132.4" lengthAdjust="spacingAndGlyphs" >Liquid-air interface moves</text>
<text x="431.5" y="217.7" font-size="11" fill="#161414" stroke="#161414" stroke-width="0.22" textLength="100.9" lengthAdjust="spacingAndGlyphs" >with liquid pressure</text>
<line x1="366.6" y1="245.5" x2="366.6" y2="287" stroke="#1a1a1a" stroke-width="1.1" marker-start="url(#ahs)" marker-end="url(#ahs)"/>
<text x="409.8" y="301.2" font-size="11" fill="#161414" stroke="#161414" stroke-width="0.22" textLength="14.2" lengthAdjust="spacingAndGlyphs" >Air</text>
<circle cx="420.6" cy="275.5" r="2.2" fill="#1a1a1a"/><line x1="420.6" y1="275.5" x2="418.1" y2="290.6" stroke="#1a1a1a" stroke-width="1"/>
<text x="319.1" y="340.1" font-size="11" fill="#161414" stroke="#161414" stroke-width="0.22" textLength="82.9" lengthAdjust="spacingAndGlyphs" >Slippery surface</text>
<circle cx="334" cy="310.1" r="2.2" fill="#1a1a1a"/><line x1="334" y1="310.1" x2="341.6" y2="326.4" stroke="#1a1a1a" stroke-width="1"/>
<text transform="translate(5.6,13.7) scale(1.05,1)" x="0" y="0" font-size="15.5" font-weight="bold" fill="#000" stroke="#000" stroke-width="0.9">a</text>
<text transform="translate(601.5,13.7) scale(1.17,1)" x="0" y="0" font-size="15.5" font-weight="bold" fill="#000" stroke="#000" stroke-width="0.9">b</text>
<text transform="translate(5.3,195.8) scale(1.17,1)" x="0" y="0" font-size="15.5" font-weight="bold" fill="#000" stroke="#000" stroke-width="0.9">c</text>
<text transform="translate(600.6,196.2) scale(1.17,1)" x="0" y="0" font-size="15.5" font-weight="bold" fill="#000" stroke="#000" stroke-width="0.9">d</text>
<text transform="translate(6.1,380.3) scale(1.17,1)" x="0" y="0" font-size="15.5" font-weight="bold" fill="#000" stroke="#000" stroke-width="0.9">e</text>
<text transform="translate(602.1,379.5) scale(1.17,1)" x="0" y="0" font-size="15.5" font-weight="bold" fill="#000" stroke="#000" stroke-width="0.9">f</text>
<text transform="translate(601.6,601.5) scale(1.17,1)" x="0" y="0" font-size="15.5" font-weight="bold" fill="#000" stroke="#000" stroke-width="0.9">g</text>
<rect x="657" y="15.4" width="202.60000000000002" height="124.0" fill="none" stroke="#231f20" stroke-width="1.1"/>
<line x1="673.9" y1="139.4" x2="673.9" y2="143.0" stroke="#231f20" stroke-width="1"/>
<text x="670.7" y="155.3" font-size="9" fill="#161414" stroke="#161414" stroke-width="0.22" textLength="6.3" lengthAdjust="spacingAndGlyphs" >0</text>
<line x1="707.6" y1="139.4" x2="707.6" y2="143.0" stroke="#231f20" stroke-width="1"/>
<text x="704.4" y="155.3" font-size="9" fill="#161414" stroke="#161414" stroke-width="0.22" textLength="6.3" lengthAdjust="spacingAndGlyphs" >2</text>
<line x1="741.4" y1="139.4" x2="741.4" y2="143.0" stroke="#231f20" stroke-width="1"/>
<text x="738.2" y="155.3" font-size="9" fill="#161414" stroke="#161414" stroke-width="0.22" textLength="6.3" lengthAdjust="spacingAndGlyphs" >4</text>
<line x1="775.1" y1="139.4" x2="775.1" y2="143.0" stroke="#231f20" stroke-width="1"/>
<text x="771.9" y="155.3" font-size="9" fill="#161414" stroke="#161414" stroke-width="0.22" textLength="6.3" lengthAdjust="spacingAndGlyphs" >6</text>
<line x1="808.9" y1="139.4" x2="808.9" y2="143.0" stroke="#231f20" stroke-width="1"/>
<text x="805.7" y="155.3" font-size="9" fill="#161414" stroke="#161414" stroke-width="0.22" textLength="6.3" lengthAdjust="spacingAndGlyphs" >8</text>
<line x1="842.6" y1="139.4" x2="842.6" y2="143.0" stroke="#231f20" stroke-width="1"/>
<text x="837.0" y="155.3" font-size="9" fill="#161414" stroke="#161414" stroke-width="0.22" textLength="11.1" lengthAdjust="spacingAndGlyphs" >10</text>
<line x1="653.4" y1="118.5" x2="657" y2="118.5" stroke="#231f20" stroke-width="1"/>
<text x="636.4" y="122.0" font-size="9" fill="#161414" stroke="#161414" stroke-width="0.22" textLength="12.1" lengthAdjust="spacingAndGlyphs" >98</text>
<line x1="653.4" y1="91.0" x2="657" y2="91.0" stroke="#231f20" stroke-width="1"/>
<text x="636.4" y="94.5" font-size="9" fill="#161414" stroke="#161414" stroke-width="0.22" textLength="12.1" lengthAdjust="spacingAndGlyphs" >99</text>
<line x1="653.4" y1="63.5" x2="657" y2="63.5" stroke="#231f20" stroke-width="1"/>
<text x="632.7" y="67.0" font-size="9" fill="#161414" stroke="#161414" stroke-width="0.22" textLength="15.8" lengthAdjust="spacingAndGlyphs" >100</text>
<line x1="653.4" y1="36.0" x2="657" y2="36.0" stroke="#231f20" stroke-width="1"/>
<text x="634.4" y="39.5" font-size="9" fill="#161414" stroke="#161414" stroke-width="0.22" textLength="14.1" lengthAdjust="spacingAndGlyphs" >101</text>
<text x="722.4" y="174.2" font-size="10.5" fill="#161414" stroke="#161414" stroke-width="0.22" textLength="71.5" lengthAdjust="spacingAndGlyphs" >Pressure (kPa)</text>
<text transform="translate(622,119.0) rotate(-90)" font-size="10.8" fill="#161414" stroke="#161414" stroke-width="0.22" textLength="84.0" lengthAdjust="spacingAndGlyphs">Capacitance (nF)</text>
<path d="M670.4,129.8 C673.8,129.5 684.7,128.7 690.7,128.2 C696.7,127.7 701.1,127.4 706.3,126.6 C711.5,125.8 716.8,124.8 722.0,123.5 C727.2,122.2 732.9,120.6 737.6,118.8 C742.3,117.0 745.4,114.7 750.1,112.6 C754.8,110.5 761.5,108.4 765.7,106.3 C769.9,104.2 772.0,102.3 775.1,100.0 C778.2,97.7 781.4,95.6 784.5,92.2 C787.6,88.8 790.8,84.7 793.9,79.7 C797.0,74.8 800.3,68.0 803.2,62.5 C806.1,57.0 808.5,51.1 811.1,46.9 C813.7,42.7 816.3,39.6 818.9,37.5 C821.5,35.4 823.8,36.0 826.7,34.4 C829.6,32.8 833.0,29.2 836.1,28.1 C839.2,27.1 843.9,28.1 845.5,28.1" fill="none" stroke="#1b6db4" stroke-width="1.5"/>
<path d="M670.4,129.8 C673.8,129.0 684.5,126.9 690.7,125.1 C697.0,123.3 702.2,121.1 707.9,118.8 C713.6,116.5 720.1,113.3 725.1,111.0 C730.1,108.7 734.0,107.7 737.6,104.8 C741.2,101.9 744.4,96.4 747.0,93.8 C749.6,91.2 750.6,92.2 753.2,89.1 C755.8,86.0 759.7,79.7 762.6,75.0 C765.5,70.3 768.0,65.2 770.4,61.0 C772.8,56.8 773.8,53.9 776.7,50.0 C779.6,46.1 783.7,40.9 787.6,37.5 C791.5,34.1 795.9,31.4 800.1,29.7 C804.3,28.0 807.4,27.6 812.6,27.2 C817.8,26.8 825.9,27.0 831.4,27.2 C836.9,27.4 843.1,28.0 845.5,28.1" fill="none" stroke="#e5373f" stroke-width="1.5"/>
<line x1="667.2" y1="28.5" x2="698.5" y2="28.5" stroke="#1b6db4" stroke-width="1.5"/>
<line x1="667.2" y1="46.3" x2="698.5" y2="46.3" stroke="#e5373f" stroke-width="1.5"/>
<text x="704.6" y="31.9" font-size="10.3" fill="#161414" stroke="#161414" stroke-width="0.22" textLength="40.5" lengthAdjust="spacingAndGlyphs" >Loading</text>
<text x="704.6" y="49.8" font-size="10.3" fill="#161414" stroke="#161414" stroke-width="0.22" textLength="51.8" lengthAdjust="spacingAndGlyphs" >Unloading</text>
<rect x="657" y="197.2" width="202.60000000000002" height="124.10000000000002" fill="none" stroke="#231f20" stroke-width="1.1"/>
<line x1="673.9" y1="321.3" x2="673.9" y2="324.90000000000003" stroke="#231f20" stroke-width="1"/>
<text x="670.7" y="337.2" font-size="9" fill="#161414" stroke="#161414" stroke-width="0.22" textLength="6.3" lengthAdjust="spacingAndGlyphs" >0</text>
<line x1="707.6" y1="321.3" x2="707.6" y2="324.90000000000003" stroke="#231f20" stroke-width="1"/>
<text x="704.4" y="337.2" font-size="9" fill="#161414" stroke="#161414" stroke-width="0.22" textLength="6.3" lengthAdjust="spacingAndGlyphs" >2</text>
<line x1="741.4" y1="321.3" x2="741.4" y2="324.90000000000003" stroke="#231f20" stroke-width="1"/>
<text x="738.2" y="337.2" font-size="9" fill="#161414" stroke="#161414" stroke-width="0.22" textLength="6.3" lengthAdjust="spacingAndGlyphs" >4</text>
<line x1="775.1" y1="321.3" x2="775.1" y2="324.90000000000003" stroke="#231f20" stroke-width="1"/>
<text x="771.9" y="337.2" font-size="9" fill="#161414" stroke="#161414" stroke-width="0.22" textLength="6.3" lengthAdjust="spacingAndGlyphs" >6</text>
<line x1="808.9" y1="321.3" x2="808.9" y2="324.90000000000003" stroke="#231f20" stroke-width="1"/>
<text x="805.7" y="337.2" font-size="9" fill="#161414" stroke="#161414" stroke-width="0.22" textLength="6.3" lengthAdjust="spacingAndGlyphs" >8</text>
<line x1="842.6" y1="321.3" x2="842.6" y2="324.90000000000003" stroke="#231f20" stroke-width="1"/>
<text x="837.0" y="337.2" font-size="9" fill="#161414" stroke="#161414" stroke-width="0.22" textLength="11.1" lengthAdjust="spacingAndGlyphs" >10</text>
<line x1="653.4" y1="298.8" x2="657" y2="298.8" stroke="#231f20" stroke-width="1"/>
<text x="633.5" y="302.3" font-size="9" fill="#161414" stroke="#161414" stroke-width="0.22" textLength="15.1" lengthAdjust="spacingAndGlyphs" >0.6</text>
<line x1="653.4" y1="264.9" x2="657" y2="264.9" stroke="#231f20" stroke-width="1"/>
<text x="633.5" y="268.4" font-size="9" fill="#161414" stroke="#161414" stroke-width="0.22" textLength="15.1" lengthAdjust="spacingAndGlyphs" >0.9</text>
<line x1="653.4" y1="231.0" x2="657" y2="231.0" stroke="#231f20" stroke-width="1"/>
<text x="633.5" y="234.5" font-size="9" fill="#161414" stroke="#161414" stroke-width="0.22" textLength="15.1" lengthAdjust="spacingAndGlyphs" >1.2</text>
<line x1="653.4" y1="197.1" x2="657" y2="197.1" stroke="#231f20" stroke-width="1"/>
<text x="633.5" y="200.6" font-size="9" fill="#161414" stroke="#161414" stroke-width="0.22" textLength="15.1" lengthAdjust="spacingAndGlyphs" >1.5</text>
<text x="722.4" y="356.1" font-size="10.5" fill="#161414" stroke="#161414" stroke-width="0.22" textLength="71.5" lengthAdjust="spacingAndGlyphs" >Pressure (kPa)</text>
<text transform="translate(622,301.0) rotate(-90)" font-size="10.8" fill="#161414" stroke="#161414" stroke-width="0.22" textLength="84.0" lengthAdjust="spacingAndGlyphs">Capacitance (nF)</text>
<path d="M674.1,307.3 C720,281 790,240 843.9,207.5" fill="none" stroke="#1b6db4" stroke-width="1.5"/>
<path d="M674.1,307.8 C720,280 790,241 843.9,208" fill="none" stroke="#e5373f" stroke-width="1.5"/>
<line x1="667.2" y1="210.3" x2="698.5" y2="210.3" stroke="#1b6db4" stroke-width="1.5"/>
<line x1="667.2" y1="229.1" x2="698.5" y2="229.1" stroke="#e5373f" stroke-width="1.5"/>
<text x="704.6" y="214.1" font-size="10.3" fill="#161414" stroke="#161414" stroke-width="0.22" textLength="40.5" lengthAdjust="spacingAndGlyphs" >Loading</text>
<text x="704.6" y="232.9" font-size="10.3" fill="#161414" stroke="#161414" stroke-width="0.22" textLength="51.8" lengthAdjust="spacingAndGlyphs" >Unloading</text>
<defs><marker id="ah" viewBox="0 0 10 10" refX="9" refY="5" markerWidth="7" markerHeight="7" orient="auto-start-reverse"><path d="M0,1 L10,5 L0,9 z" fill="#231f20"/></marker><marker id="ahs" viewBox="0 0 10 10" refX="9" refY="5" markerWidth="5" markerHeight="5" orient="auto-start-reverse"><path d="M0,1 L10,5 L0,9 z" fill="#231f20"/></marker><marker id="ahr" viewBox="0 0 10 10" refX="8" refY="5" markerWidth="4.5" markerHeight="4.5" orient="auto"><path d="M0,0 L10,5 L0,10 z" fill="#e5373f"/></marker><marker id="ahb" viewBox="0 0 10 10" refX="8" refY="5" markerWidth="4.5" markerHeight="4.5" orient="auto"><path d="M0,0 L10,5 L0,10 z" fill="#1b6db4"/></marker><marker id="aho" viewBox="0 0 10 10" refX="8" refY="5" markerWidth="4.5" markerHeight="4.5" orient="auto"><path d="M0,0 L10,5 L0,10 z" fill="#f3a51c"/></marker><marker id="aht" viewBox="0 0 10 10" refX="8" refY="5" markerWidth="4.5" markerHeight="4.5" orient="auto"><path d="M0,0 L10,5 L0,10 z" fill="#3a9a8c"/></marker></defs>
<path d="M638.5,545.4 L638.5,388" fill="none" stroke="#231f20" stroke-width="1.3" marker-end="url(#ah)"/>
<path d="M638.5,545.4 L870.5,545.4" fill="none" stroke="#231f20" stroke-width="1.3" marker-end="url(#ah)"/>
<line x1="654.7" y1="519" x2="654.7" y2="563" stroke="#231f20" stroke-width="0.9" stroke-dasharray="1.2,1.6" fill="none"/>
<line x1="733.8" y1="520" x2="733.8" y2="563" stroke="#231f20" stroke-width="0.9" stroke-dasharray="1.2,1.6" fill="none"/>
<line x1="779.2" y1="405" x2="779.2" y2="426" stroke="#231f20" stroke-width="0.9" stroke-dasharray="1.2,1.6" fill="none"/>
<line x1="868.9" y1="405" x2="868.9" y2="426" stroke="#231f20" stroke-width="0.9" stroke-dasharray="1.2,1.6" fill="none"/>
<line x1="769" y1="421" x2="868.9" y2="421" stroke="#231f20" stroke-width="0.9" stroke-dasharray="1.2,1.6" fill="none"/>
<line x1="654.7" y1="531.4" x2="750" y2="531.4" stroke="#231f20" stroke-width="0.9" stroke-dasharray="1.2,1.6" fill="none"/>
<line x1="654.7" y1="531.4" x2="868.9" y2="421" stroke="#f3a51c" stroke-width="1.8"/>
<line x1="654.7" y1="531.4" x2="868.9" y2="421" stroke="#3a9a8c" stroke-width="1.8" stroke-dasharray="2.5,2.5"/>
<path d="M654.7,531.4 C670,524 676,518 684,510 L765.7,433.5 C775,425 782,422 795,421.5 L868.9,421" fill="none" stroke="#e5373f" stroke-width="1.6"/>
<line x1="684" y1="510" x2="772" y2="427.5" stroke="#231f20" stroke-width="0.9" stroke-dasharray="1.2,1.6" fill="none"/>
<path d="M654.7,531.4 L722,531 C732,530.5 736,529 744,523 L868.9,421" fill="none" stroke="#1b6db4" stroke-width="1.6"/>
<line x1="738" y1="527.5" x2="868.9" y2="421" stroke="#231f20" stroke-width="0.9" stroke-dasharray="1.2,1.6" fill="none"/>
<line x1="656.5" y1="541.4" x2="732" y2="541.4" stroke="#231f20" stroke-width="0.9" marker-start="url(#ahs)" marker-end="url(#ahs)"/>
<line x1="784.5" y1="413.8" x2="866" y2="413.8" stroke="#231f20" stroke-width="0.9" marker-start="url(#ahs)" marker-end="url(#ahs)"/>
<line x1="736.6" y1="451.6" x2="712" y2="474" stroke="#e5373f" stroke-width="1.5" marker-end="url(#ahr)"/>
<line x1="776" y1="507.6" x2="798.5" y2="486" stroke="#1b6db4" stroke-width="1.5" marker-end="url(#ahb)"/>
<line x1="739.8" y1="497.6" x2="773" y2="481" stroke="#f3a51c" stroke-width="1.5" marker-end="url(#aho)"/>
<line x1="767.9" y1="464.1" x2="733.5" y2="480.5" stroke="#3a9a8c" stroke-width="1.3" stroke-dasharray="2.4,1.6" marker-end="url(#aht)"/>
<path d="M760,425.5 C765,425 768,427 771,430" fill="none" stroke="#231f20" stroke-width="0.8"/>
<path d="M755,526 C750,526 746,526 741,527" fill="none" stroke="#231f20" stroke-width="0.8"/>
<path d="M798,447 C799,451 802,454 806,455" fill="none" stroke="#231f20" stroke-width="0.8"/>
<path d="M685,475 C690,484 697,488 707,489" fill="none" stroke="#231f20" stroke-width="0.8"/>
<path d="M685,475 C692,500 702,520 722,530" fill="none" stroke="#231f20" stroke-width="0.8"/>
<text x="800.2" y="394.3" font-size="10.5" fill="#161414" stroke="#161414" stroke-width="0.22" textLength="49.6" lengthAdjust="spacingAndGlyphs" >Backward</text>
<text x="800.8" y="407.1" font-size="10.5" fill="#161414" stroke="#161414" stroke-width="0.22" textLength="48.8" lengthAdjust="spacingAndGlyphs" >threshold</text>
<text x="674.9" y="558.2" font-size="10.5" fill="#161414" stroke="#161414" stroke-width="0.22" textLength="41.5" lengthAdjust="spacingAndGlyphs" >Forward</text>
<text x="671.0" y="570.4" font-size="10.5" fill="#161414" stroke="#161414" stroke-width="0.22" textLength="48.8" lengthAdjust="spacingAndGlyphs" >threshold</text>
<text x="697.7" y="429.4" font-size="10.5" fill="#161414" stroke="#161414" stroke-width="0.22" textLength="54.1" lengthAdjust="spacingAndGlyphs" >Max. slope</text>
<text x="780.8" y="443.2" font-size="10.5" fill="#161414" stroke="#161414" stroke-width="0.22" textLength="25.1" lengthAdjust="spacingAndGlyphs" >Ideal</text>
<text x="649.4" y="469.0" font-size="10.5" fill="#161414" stroke="#161414" stroke-width="0.22" textLength="49.8" lengthAdjust="spacingAndGlyphs" >Non-ideal</text>
<text x="757.2" y="530.0" font-size="10.5" fill="#161414" stroke="#161414" stroke-width="0.22" textLength="55.2" lengthAdjust="spacingAndGlyphs" >Max. slope</text>
<text x="824.7" y="560.9" font-size="10.5" fill="#161414" stroke="#161414" stroke-width="0.22" textLength="44.3" lengthAdjust="spacingAndGlyphs" >Pressure</text>
<text transform="translate(632,483.8) rotate(-90)" font-size="10.8" fill="#161414" stroke="#161414" stroke-width="0.22" textLength="36.0" lengthAdjust="spacingAndGlyphs">Output</text>
<rect x="657.8" y="599.4" width="202.4000000000001" height="162.60000000000002" fill="none" stroke="#231f20" stroke-width="1.1"/>
<line x1="654.1999999999999" y1="740.7" x2="657.8" y2="740.7" stroke="#231f20" stroke-width="1"/>
<text x="644.5" y="744.0" font-size="8.6" fill="#161414" stroke="#161414" stroke-width="0.22" textLength="5.5" lengthAdjust="spacingAndGlyphs" >0</text>
<line x1="654.1999999999999" y1="705.4" x2="657.8" y2="705.4" stroke="#231f20" stroke-width="1"/>
<text x="631.5" y="708.7" font-size="8.6" fill="#161414" stroke="#161414" stroke-width="0.22" textLength="18.5" lengthAdjust="spacingAndGlyphs" >500</text>
<line x1="654.1999999999999" y1="670.1" x2="657.8" y2="670.1" stroke="#231f20" stroke-width="1"/>
<text x="623.7" y="673.4" font-size="8.6" fill="#161414" stroke="#161414" stroke-width="0.22" textLength="26.3" lengthAdjust="spacingAndGlyphs" >1,000</text>
<line x1="654.1999999999999" y1="634.8" x2="657.8" y2="634.8" stroke="#231f20" stroke-width="1"/>
<text x="623.9" y="638.1" font-size="8.6" fill="#161414" stroke="#161414" stroke-width="0.22" textLength="26.1" lengthAdjust="spacingAndGlyphs" >1,500</text>
<line x1="654.1999999999999" y1="599.5" x2="657.8" y2="599.5" stroke="#231f20" stroke-width="1"/>
<text x="623.2" y="602.8" font-size="8.6" fill="#161414" stroke="#161414" stroke-width="0.22" textLength="26.8" lengthAdjust="spacingAndGlyphs" >2,000</text>
<polygon points="671.60,677.50 673.06,680.78 676.64,681.16 673.97,683.57 674.72,687.09 671.60,685.29 668.48,687.09 669.23,683.57 666.56,681.16 670.14,680.78" fill="#1b6db4"/>
<polygon points="689.10,694.00 690.56,697.28 694.14,697.66 691.47,700.07 692.22,703.59 689.10,701.79 685.98,703.59 686.73,700.07 684.06,697.66 687.64,697.28" fill="#1b6db4"/>
<polygon points="706.60,725.90 708.06,729.18 711.64,729.56 708.97,731.97 709.72,735.49 706.60,733.69 703.48,735.49 704.23,731.97 701.56,729.56 705.14,729.18" fill="#1b6db4"/>
<polygon points="724.10,735.60 725.56,738.88 729.14,739.26 726.47,741.67 727.22,745.19 724.10,743.39 720.98,745.19 721.73,741.67 719.06,739.26 722.64,738.88" fill="#1b6db4"/>
<polygon points="741.70,734.00 743.16,737.28 746.74,737.66 744.07,740.07 744.82,743.59 741.70,741.79 738.58,743.59 739.33,740.07 736.66,737.66 740.24,737.28" fill="#1b6db4"/>
<polygon points="758.80,728.40 760.26,731.68 763.84,732.06 761.17,734.47 761.92,737.99 758.80,736.19 755.68,737.99 756.43,734.47 753.76,732.06 757.34,731.68" fill="#1b6db4"/>
<polygon points="776.40,725.60 777.86,728.88 781.44,729.26 778.77,731.67 779.52,735.19 776.40,733.39 773.28,735.19 774.03,731.67 771.36,729.26 774.94,728.88" fill="#1b6db4"/>
<polygon points="793.90,735.30 795.36,738.58 798.94,738.96 796.27,741.37 797.02,744.89 793.90,743.09 790.78,744.89 791.53,741.37 788.86,738.96 792.44,738.58" fill="#1b6db4"/>
<polygon points="811.40,733.40 812.86,736.68 816.44,737.06 813.77,739.47 814.52,742.99 811.40,741.19 808.28,742.99 809.03,739.47 806.36,737.06 809.94,736.68" fill="#1b6db4"/>
<polygon points="828.60,724.40 830.06,727.68 833.64,728.06 830.97,730.47 831.72,733.99 828.60,732.19 825.48,733.99 826.23,730.47 823.56,728.06 827.14,727.68" fill="#1b6db4"/>
<polygon points="846.40,609.40 847.92,612.81 851.63,613.20 848.86,615.70 849.63,619.35 846.40,617.49 843.17,619.35 843.94,615.70 841.17,613.20 844.88,612.81" fill="#e5373f"/>
<text x="662.5" y="675.0" font-size="10" fill="#161414" stroke="#161414" stroke-width="0.22" textLength="19.6" lengthAdjust="spacingAndGlyphs" >[10]</text>
<text x="679.0" y="691.2" font-size="10" fill="#161414" stroke="#161414" stroke-width="0.22" textLength="17.9" lengthAdjust="spacingAndGlyphs" >[11]</text>
<text x="695.3" y="722.6" font-size="10" fill="#161414" stroke="#161414" stroke-width="0.22" textLength="16.7" lengthAdjust="spacingAndGlyphs" >[17]</text>
<text x="716.3" y="732.9" font-size="10" fill="#161414" stroke="#161414" stroke-width="0.22" textLength="18.4" lengthAdjust="spacingAndGlyphs" >[18]</text>
<text x="732.8" y="756.4" font-size="10" fill="#161414" stroke="#161414" stroke-width="0.22" textLength="18.8" lengthAdjust="spacingAndGlyphs" >[19]</text>
<text x="748.7" y="726.7" font-size="10" fill="#161414" stroke="#161414" stroke-width="0.22" textLength="20.7" lengthAdjust="spacingAndGlyphs" >[20]</text>
<text x="769.5" y="721.3" font-size="10" fill="#161414" stroke="#161414" stroke-width="0.22" textLength="17.8" lengthAdjust="spacingAndGlyphs" >[21]</text>
<text x="784.3" y="756.4" font-size="10" fill="#161414" stroke="#161414" stroke-width="0.22" textLength="19.5" lengthAdjust="spacingAndGlyphs" >[22]</text>
<text x="801.5" y="731.6" font-size="10" fill="#161414" stroke="#161414" stroke-width="0.22" textLength="19.8" lengthAdjust="spacingAndGlyphs" >[24]</text>
<text x="822.5" y="721.3" font-size="10" fill="#161414" stroke="#161414" stroke-width="0.22" textLength="19.4" lengthAdjust="spacingAndGlyphs" >[25]</text>
<text x="817.3" y="619.2" font-size="9.3" fill="#ee4450" stroke="#ee4450" stroke-width="0.22" textLength="20.4" lengthAdjust="spacingAndGlyphs" >eAir</text>
<text x="660.5" y="775.6" font-size="10.5" fill="#161414" stroke="#161414" stroke-width="0.22" textLength="196.5" lengthAdjust="spacingAndGlyphs" >Pressure sensors in liquid environment</text>
<text transform="translate(612.6,727.1) rotate(-90)" font-size="10.8" fill="#161414" stroke="#161414" stroke-width="0.22" textLength="93.4" lengthAdjust="spacingAndGlyphs">Degree of linearity</text>
<defs>
<pattern id="hatch" patternUnits="userSpaceOnUse" width="3" height="3" patternTransform="rotate(45)">
 <rect width="3" height="3" fill="#f2f5fa"/><line x1="0" y1="0" x2="0" y2="3" stroke="#6f7888" stroke-width="1"/>
</pattern>
<linearGradient id="liqE" x1="0" y1="0" x2="0.6" y2="1">
 <stop offset="0" stop-color="#3ba3e0"/><stop offset="0.5" stop-color="#5ab4e6"/><stop offset="1" stop-color="#8cccf0"/>
</linearGradient>
<linearGradient id="resinE" x1="0" y1="0" x2="1" y2="0">
 <stop offset="0" stop-color="#a0a4a9"/><stop offset="1" stop-color="#92979e"/>
</linearGradient>
<filter id="blurE" x="-20%" y="-20%" width="140%" height="140%"><feGaussianBlur stdDeviation="6"/></filter>
<radialGradient id="ionP" cx="0.4" cy="0.35" r="0.7"><stop offset="0" stop-color="#f87880"/><stop offset="0.6" stop-color="#e63446"/><stop offset="1" stop-color="#d0283c"/></radialGradient>
<radialGradient id="ionM" cx="0.4" cy="0.35" r="0.7"><stop offset="0" stop-color="#8a64c4"/><stop offset="0.6" stop-color="#5a2e96"/><stop offset="1" stop-color="#4a2482"/></radialGradient>
<filter id="blur4" x="-50%" y="-50%" width="200%" height="200%"><feGaussianBlur stdDeviation="4"/></filter>
<filter id="blur2" x="-20%" y="-20%" width="140%" height="140%"><feGaussianBlur stdDeviation="1.2"/></filter>
<linearGradient id="liqS" x1="0" y1="0" x2="1" y2="0">
 <stop offset="0" stop-color="#b5def5"/><stop offset="1" stop-color="#3aa8e6"/>
</linearGradient>
<linearGradient id="yarrow" x1="0" y1="0" x2="0" y2="1">
 <stop offset="0" stop-color="#fbf6b4"/><stop offset="0.5" stop-color="#f9ee70"/><stop offset="1" stop-color="#f6df10"/>
</linearGradient>
<linearGradient id="wedgeG" x1="0" y1="0" x2="1" y2="0"><stop offset="0" stop-color="#9ed2f2"/><stop offset="0.6" stop-color="#cfe9f8"/><stop offset="1" stop-color="#f4fafd"/></linearGradient>
<pattern id="odt" patternUnits="userSpaceOnUse" width="1.6" height="7">
 <rect width="1.6" height="7" fill="#fafafa"/><line x1="0.4" y1="0" x2="0.4" y2="7" stroke="#7a7a7a" stroke-width="0.55"/>
</pattern>
</defs>
<rect x="61.2" y="376.1" width="25.7" height="10.8" fill="#818181"/>
<text x="92.1" y="385.1" font-size="11" fill="#161414" stroke="#161414" stroke-width="0.22" textLength="27.3" lengthAdjust="spacingAndGlyphs" >Resin</text>
<rect x="130.8" y="376.1" width="26" height="10.8" fill="#80b6e2"/>
<text x="161.6" y="385.1" font-size="11" fill="#161414" stroke="#161414" stroke-width="0.22" textLength="31.2" lengthAdjust="spacingAndGlyphs" >Liquid</text>
<rect x="205.2" y="376.1" width="25.4" height="10.8" fill="#fdd089"/>
<text x="236.1" y="385.8" font-size="11" fill="#161414" stroke="#161414" stroke-width="0.22" textLength="24.9" lengthAdjust="spacingAndGlyphs" >Gold</text>
<rect x="273.5" y="376.1" width="25.4" height="10.8" fill="#2f9d60"/>
<text x="303.9" y="385.1" font-size="11" fill="#161414" stroke="#161414" stroke-width="0.22" textLength="22.7" lengthAdjust="spacingAndGlyphs" >PAni</text>
<line x1="340.8" y1="377.2" x2="339.5" y2="386.8" stroke="#3a3a3a" stroke-width="1.05"/>
<line x1="343.4" y1="377.2" x2="342.1" y2="386.8" stroke="#3a3a3a" stroke-width="1.05"/>
<line x1="346.0" y1="377.2" x2="344.7" y2="386.8" stroke="#3a3a3a" stroke-width="1.05"/>
<line x1="348.6" y1="377.2" x2="347.3" y2="386.8" stroke="#3a3a3a" stroke-width="1.05"/>
<line x1="351.2" y1="377.2" x2="349.9" y2="386.8" stroke="#3a3a3a" stroke-width="1.05"/>
<line x1="353.8" y1="377.2" x2="352.5" y2="386.8" stroke="#3a3a3a" stroke-width="1.05"/>
<line x1="356.4" y1="377.2" x2="355.1" y2="386.8" stroke="#3a3a3a" stroke-width="1.05"/>
<line x1="359.0" y1="377.2" x2="357.7" y2="386.8" stroke="#3a3a3a" stroke-width="1.05"/>
<line x1="361.6" y1="377.2" x2="360.3" y2="386.8" stroke="#3a3a3a" stroke-width="1.05"/>
<line x1="364.2" y1="377.2" x2="362.9" y2="386.8" stroke="#3a3a3a" stroke-width="1.05"/>
<text x="370.2" y="385.7" font-size="11" fill="#161414" stroke="#161414" stroke-width="0.22" textLength="54.5" lengthAdjust="spacingAndGlyphs" >ODT SAMs</text>
<rect x="437" y="376.1" width="25.7" height="10.8" fill="#fbdcdc"/>
<text x="468.1" y="385.7" font-size="11" fill="#161414" stroke="#161414" stroke-width="0.22" textLength="56.7" lengthAdjust="spacingAndGlyphs" >Silicone oil</text>
<rect x="92" y="426" width="174" height="258" fill="#a9c3e4" opacity="0.6" filter="url(#blurE)"/>
<rect x="82" y="540" width="100" height="206" fill="#c8d6ea" opacity="0.45" filter="url(#blurE)"/>
<rect x="91" y="440" width="170.8" height="250" fill="url(#liqE)"/>
<path d="M180.5,619 C185,655 215,678 261.8,682.8 L275,690 L275,760 L180.5,760z" fill="#ffffff"/>
<path d="M181,640 C200,668 225,684 262,688 L262,700 C225,698 195,680 181,660z" fill="#dfe9f6" opacity="0.6" filter="url(#blur2)"/>
<rect x="176" y="650" width="16" height="100" fill="#b4c8e4" opacity="0.55" filter="url(#blur4)"/>
<rect x="150" y="742" width="40" height="10" fill="#b4c8e4" opacity="0.45" filter="url(#blur4)"/>
<line x1="188.7" y1="649" x2="188.7" y2="669" stroke="#a4cff2" stroke-width="1.8" opacity="0.85"/>
<path d="M186.4,668.5 L188.7,672.5 L191.0,668.5z" fill="#a4cff2" opacity="0.85"/>
<path d="M186.4,649.5 L188.7,645.5 L191.0,649.5z" fill="#a4cff2" opacity="0.85"/>
<line x1="195.5" y1="651" x2="195.5" y2="675" stroke="#a4cff2" stroke-width="1.8" opacity="0.85"/>
<path d="M193.2,674.5 L195.5,678.5 L197.8,674.5z" fill="#a4cff2" opacity="0.85"/>
<path d="M193.2,651.5 L195.5,647.5 L197.8,651.5z" fill="#a4cff2" opacity="0.85"/>
<line x1="203.5" y1="654" x2="203.5" y2="681" stroke="#a4cff2" stroke-width="1.8" opacity="0.85"/>
<path d="M201.2,680.5 L203.5,684.5 L205.8,680.5z" fill="#a4cff2" opacity="0.85"/>
<path d="M201.2,654.5 L203.5,650.5 L205.8,654.5z" fill="#a4cff2" opacity="0.85"/>
<line x1="212" y1="657" x2="212" y2="685" stroke="#a4cff2" stroke-width="1.8" opacity="0.85"/>
<path d="M209.7,684.5 L212.0,688.5 L214.3,684.5z" fill="#a4cff2" opacity="0.85"/>
<path d="M209.7,657.5 L212.0,653.5 L214.3,657.5z" fill="#a4cff2" opacity="0.85"/>
<line x1="220.4" y1="661" x2="220.4" y2="689" stroke="#a4cff2" stroke-width="1.8" opacity="0.85"/>
<path d="M218.1,688.5 L220.4,692.5 L222.7,688.5z" fill="#a4cff2" opacity="0.85"/>
<path d="M218.1,661.5 L220.4,657.5 L222.7,661.5z" fill="#a4cff2" opacity="0.85"/>
<line x1="229.3" y1="664" x2="229.3" y2="691" stroke="#a4cff2" stroke-width="1.8" opacity="0.85"/>
<path d="M227.0,690.5 L229.3,694.5 L231.6,690.5z" fill="#a4cff2" opacity="0.85"/>
<path d="M227.0,664.5 L229.3,660.5 L231.6,664.5z" fill="#a4cff2" opacity="0.85"/>
<line x1="238.8" y1="667" x2="238.8" y2="692" stroke="#a4cff2" stroke-width="1.8" opacity="0.85"/>
<path d="M236.5,691.5 L238.8,695.5 L241.1,691.5z" fill="#a4cff2" opacity="0.85"/>
<path d="M236.5,667.5 L238.8,663.5 L241.1,667.5z" fill="#a4cff2" opacity="0.85"/>
<line x1="249.4" y1="669" x2="249.4" y2="693" stroke="#a4cff2" stroke-width="1.8" opacity="0.85"/>
<path d="M247.1,692.5 L249.4,696.5 L251.7,692.5z" fill="#a4cff2" opacity="0.85"/>
<path d="M247.1,669.5 L249.4,665.5 L251.7,669.5z" fill="#a4cff2" opacity="0.85"/>
<line x1="258.9" y1="671" x2="258.9" y2="693" stroke="#a4cff2" stroke-width="1.8" opacity="0.85"/>
<path d="M256.6,692.5 L258.9,696.5 L261.2,692.5z" fill="#a4cff2" opacity="0.85"/>
<path d="M256.6,671.5 L258.9,667.5 L261.2,671.5z" fill="#a4cff2" opacity="0.85"/>
<rect x="91" y="424" width="171.1" height="18" fill="#f5b12a"/>
<path d="M90.8,743.5 L90.8,505.5 A89.6,70.5 0 0 1 180.4,576 L180.4,743.5z" fill="url(#hatch)"/>
<path d="M90.8,743.5 L90.8,529.0 A62.2,47 0 0 1 153.0,576 L153.0,743.5z" fill="#f5ae22"/>
<path d="M90.8,743.5 L90.8,537.5 A53.7,38.5 0 0 1 144.5,576 L144.5,743.5z" fill="url(#resinE)"/>
<path d="M90.8,505.5 A89.6,70.5 0 0 1 180.4,576 L180.4,743.5" fill="none" stroke="#1a1a1a" stroke-width="1.2"/>
<path d="M180.4,618 C184,655 212,679 261.8,682.8" fill="none" stroke="#1a1a1a" stroke-width="1.1"/>
<path d="M90.8,510.0 A85.1,66.0 0 0 1 175.9,576 L175.9,622" fill="none" stroke="#ee2238" stroke-width="1.15" stroke-dasharray="1.6,1.5"/>
<path d="M90.8,497.3 A97.6,78.7 0 0 1 188.4,576 L188.4,622" fill="none" stroke="#ee2238" stroke-width="1.15" stroke-dasharray="1.6,1.5"/>
<path d="M89.2,497.3 L89.2,510" fill="none" stroke="#ee2238" stroke-width="1.15" stroke-dasharray="1.6,1.5"/>
<rect x="89.2" y="436" width="174.1" height="13.3" fill="none" stroke="#ee2238" stroke-width="1.15" stroke-dasharray="1.6,1.5"/>
<line x1="89.2" y1="442" x2="263.3" y2="442" stroke="#e8303a" stroke-width="0.7" stroke-dasharray="1.3,1.3"/>
<path d="M92.4,439.4 h3.6 M94.2,437.6 v3.6" stroke="#e8303a" stroke-width="0.8"/>
<circle cx="94.2" cy="444.7" r="2.3" fill="url(#ionM)"/><path d="M92.6,444.7 h3.2" stroke="#fff" stroke-width="0.75"/>
<path d="M100.3,439.4 h3.6 M102.1,437.6 v3.6" stroke="#e8303a" stroke-width="0.8"/>
<circle cx="102.1" cy="444.7" r="2.3" fill="url(#ionM)"/><path d="M100.5,444.7 h3.2" stroke="#fff" stroke-width="0.75"/>
<path d="M108.3,439.4 h3.6 M110.1,437.6 v3.6" stroke="#e8303a" stroke-width="0.8"/>
<circle cx="110.1" cy="444.7" r="2.3" fill="url(#ionM)"/><path d="M108.5,444.7 h3.2" stroke="#fff" stroke-width="0.75"/>
<path d="M116.2,439.4 h3.6 M118.0,437.6 v3.6" stroke="#e8303a" stroke-width="0.8"/>
<circle cx="118.0" cy="444.7" r="2.3" fill="url(#ionM)"/><path d="M116.4,444.7 h3.2" stroke="#fff" stroke-width="0.75"/>
<path d="M124.1,439.4 h3.6 M125.9,437.6 v3.6" stroke="#e8303a" stroke-width="0.8"/>
<circle cx="125.9" cy="444.7" r="2.3" fill="url(#ionM)"/><path d="M124.3,444.7 h3.2" stroke="#fff" stroke-width="0.75"/>
<path d="M132.0,439.4 h3.6 M133.8,437.6 v3.6" stroke="#e8303a" stroke-width="0.8"/>
<circle cx="133.8" cy="444.7" r="2.3" fill="url(#ionM)"/><path d="M132.2,444.7 h3.2" stroke="#fff" stroke-width="0.75"/>
<path d="M140.0,439.4 h3.6 M141.8,437.6 v3.6" stroke="#e8303a" stroke-width="0.8"/>
<circle cx="141.8" cy="444.7" r="2.3" fill="url(#ionM)"/><path d="M140.2,444.7 h3.2" stroke="#fff" stroke-width="0.75"/>
<path d="M147.9,439.4 h3.6 M149.7,437.6 v3.6" stroke="#e8303a" stroke-width="0.8"/>
<circle cx="149.7" cy="444.7" r="2.3" fill="url(#ionM)"/><path d="M148.1,444.7 h3.2" stroke="#fff" stroke-width="0.75"/>
<path d="M155.8,439.4 h3.6 M157.6,437.6 v3.6" stroke="#e8303a" stroke-width="0.8"/>
<circle cx="157.6" cy="444.7" r="2.3" fill="url(#ionM)"/><path d="M156.0,444.7 h3.2" stroke="#fff" stroke-width="0.75"/>
<path d="M163.8,439.4 h3.6 M165.6,437.6 v3.6" stroke="#e8303a" stroke-width="0.8"/>
<circle cx="165.6" cy="444.7" r="2.3" fill="url(#ionM)"/><path d="M164.0,444.7 h3.2" stroke="#fff" stroke-width="0.75"/>
<path d="M171.7,439.4 h3.6 M173.5,437.6 v3.6" stroke="#e8303a" stroke-width="0.8"/>
<circle cx="173.5" cy="444.7" r="2.3" fill="url(#ionM)"/><path d="M171.9,444.7 h3.2" stroke="#fff" stroke-width="0.75"/>
<path d="M179.6,439.4 h3.6 M181.4,437.6 v3.6" stroke="#e8303a" stroke-width="0.8"/>
<circle cx="181.4" cy="444.7" r="2.3" fill="url(#ionM)"/><path d="M179.8,444.7 h3.2" stroke="#fff" stroke-width="0.75"/>
<path d="M187.6,439.4 h3.6 M189.4,437.6 v3.6" stroke="#e8303a" stroke-width="0.8"/>
<circle cx="189.4" cy="444.7" r="2.3" fill="url(#ionM)"/><path d="M187.8,444.7 h3.2" stroke="#fff" stroke-width="0.75"/>
<path d="M195.5,439.4 h3.6 M197.3,437.6 v3.6" stroke="#e8303a" stroke-width="0.8"/>
<circle cx="197.3" cy="444.7" r="2.3" fill="url(#ionM)"/><path d="M195.7,444.7 h3.2" stroke="#fff" stroke-width="0.75"/>
<path d="M203.4,439.4 h3.6 M205.2,437.6 v3.6" stroke="#e8303a" stroke-width="0.8"/>
<circle cx="205.2" cy="444.7" r="2.3" fill="url(#ionM)"/><path d="M203.6,444.7 h3.2" stroke="#fff" stroke-width="0.75"/>
<path d="M211.3,439.4 h3.6 M213.1,437.6 v3.6" stroke="#e8303a" stroke-width="0.8"/>
<circle cx="213.1" cy="444.7" r="2.3" fill="url(#ionM)"/><path d="M211.5,444.7 h3.2" stroke="#fff" stroke-width="0.75"/>
<path d="M219.3,439.4 h3.6 M221.1,437.6 v3.6" stroke="#e8303a" stroke-width="0.8"/>
<circle cx="221.1" cy="444.7" r="2.3" fill="url(#ionM)"/><path d="M219.5,444.7 h3.2" stroke="#fff" stroke-width="0.75"/>
<path d="M227.2,439.4 h3.6 M229.0,437.6 v3.6" stroke="#e8303a" stroke-width="0.8"/>
<circle cx="229.0" cy="444.7" r="2.3" fill="url(#ionM)"/><path d="M227.4,444.7 h3.2" stroke="#fff" stroke-width="0.75"/>
<path d="M235.1,439.4 h3.6 M236.9,437.6 v3.6" stroke="#e8303a" stroke-width="0.8"/>
<circle cx="236.9" cy="444.7" r="2.3" fill="url(#ionM)"/><path d="M235.3,444.7 h3.2" stroke="#fff" stroke-width="0.75"/>
<path d="M243.1,439.4 h3.6 M244.9,437.6 v3.6" stroke="#e8303a" stroke-width="0.8"/>
<circle cx="244.9" cy="444.7" r="2.3" fill="url(#ionM)"/><path d="M243.3,444.7 h3.2" stroke="#fff" stroke-width="0.75"/>
<path d="M251.0,439.4 h3.6 M252.8,437.6 v3.6" stroke="#e8303a" stroke-width="0.8"/>
<circle cx="252.8" cy="444.7" r="2.3" fill="url(#ionM)"/><path d="M251.2,444.7 h3.2" stroke="#fff" stroke-width="0.75"/>
<path d="M258.9,439.4 h3.6 M260.7,437.6 v3.6" stroke="#e8303a" stroke-width="0.8"/>
<circle cx="260.7" cy="444.7" r="2.3" fill="url(#ionM)"/><path d="M259.1,444.7 h3.2" stroke="#fff" stroke-width="0.75"/>
<circle cx="101.8" cy="455.7" r="2.75" fill="url(#ionM)"/><path d="M100.2,455.7 h3.2" stroke="#fff" stroke-width="0.75"/>
<circle cx="119.4" cy="458.0" r="2.75" fill="url(#ionM)"/><path d="M117.8,458.0 h3.2" stroke="#fff" stroke-width="0.75"/>
<circle cx="134.5" cy="455.7" r="2.75" fill="url(#ionM)"/><path d="M132.9,455.7 h3.2" stroke="#fff" stroke-width="0.75"/>
<circle cx="149.2" cy="458.0" r="2.75" fill="url(#ionM)"/><path d="M147.6,458.0 h3.2" stroke="#fff" stroke-width="0.75"/>
<circle cx="166.6" cy="457.5" r="2.75" fill="url(#ionM)"/><path d="M165.0,457.5 h3.2" stroke="#fff" stroke-width="0.75"/>
<circle cx="184.9" cy="458.4" r="2.75" fill="url(#ionM)"/><path d="M183.3,458.4 h3.2" stroke="#fff" stroke-width="0.75"/>
<circle cx="203.7" cy="460.3" r="2.75" fill="url(#ionM)"/><path d="M202.1,460.3 h3.2" stroke="#fff" stroke-width="0.75"/>
<circle cx="220.7" cy="460.0" r="2.75" fill="url(#ionM)"/><path d="M219.1,460.0 h3.2" stroke="#fff" stroke-width="0.75"/>
<circle cx="238.8" cy="459.6" r="2.75" fill="url(#ionM)"/><path d="M237.2,459.6 h3.2" stroke="#fff" stroke-width="0.75"/>
<circle cx="254.6" cy="457.3" r="2.75" fill="url(#ionM)"/><path d="M253.0,457.3 h3.2" stroke="#fff" stroke-width="0.75"/>
<circle cx="112.1" cy="480.6" r="2.75" fill="url(#ionM)"/><path d="M110.5,480.6 h3.2" stroke="#fff" stroke-width="0.75"/>
<circle cx="136.6" cy="480.9" r="2.75" fill="url(#ionM)"/><path d="M135.0,480.9 h3.2" stroke="#fff" stroke-width="0.75"/>
<circle cx="168.4" cy="479.0" r="2.75" fill="url(#ionM)"/><path d="M166.8,479.0 h3.2" stroke="#fff" stroke-width="0.75"/>
<circle cx="186.8" cy="487.5" r="2.75" fill="url(#ionM)"/><path d="M185.2,487.5 h3.2" stroke="#fff" stroke-width="0.75"/>
<circle cx="209.7" cy="488.0" r="2.75" fill="url(#ionM)"/><path d="M208.1,488.0 h3.2" stroke="#fff" stroke-width="0.75"/>
<circle cx="233.3" cy="476.1" r="2.75" fill="url(#ionM)"/><path d="M231.7,476.1 h3.2" stroke="#fff" stroke-width="0.75"/>
<circle cx="252.3" cy="492.6" r="2.75" fill="url(#ionM)"/><path d="M250.7,492.6 h3.2" stroke="#fff" stroke-width="0.75"/>
<circle cx="251.1" cy="508.6" r="2.75" fill="url(#ionM)"/><path d="M249.5,508.6 h3.2" stroke="#fff" stroke-width="0.75"/>
<circle cx="213.8" cy="515.7" r="2.75" fill="url(#ionM)"/><path d="M212.2,515.7 h3.2" stroke="#fff" stroke-width="0.75"/>
<circle cx="93.7" cy="460.7" r="2.75" fill="url(#ionP)"/><path d="M92.1,460.7 h3.2 M93.7,459.1 v3.2" stroke="#fff" stroke-width="0.75"/>
<circle cx="100.2" cy="474.0" r="2.75" fill="url(#ionP)"/><path d="M98.6,474.0 h3.2 M100.2,472.4 v3.2" stroke="#fff" stroke-width="0.75"/>
<circle cx="123.5" cy="471.7" r="2.75" fill="url(#ionP)"/><path d="M121.9,471.7 h3.2 M123.5,470.1 v3.2" stroke="#fff" stroke-width="0.75"/>
<circle cx="151.0" cy="472.2" r="2.75" fill="url(#ionP)"/><path d="M149.4,472.2 h3.2 M151.0,470.6 v3.2" stroke="#fff" stroke-width="0.75"/>
<circle cx="185.4" cy="471.0" r="2.75" fill="url(#ionP)"/><path d="M183.8,471.0 h3.2 M185.4,469.4 v3.2" stroke="#fff" stroke-width="0.75"/>
<circle cx="212.4" cy="472.9" r="2.75" fill="url(#ionP)"/><path d="M210.8,472.9 h3.2 M212.4,471.3 v3.2" stroke="#fff" stroke-width="0.75"/>
<circle cx="254.1" cy="473.3" r="2.75" fill="url(#ionP)"/><path d="M252.5,473.3 h3.2 M254.1,471.7 v3.2" stroke="#fff" stroke-width="0.75"/>
<circle cx="93.3" cy="489.8" r="2.75" fill="url(#ionP)"/><path d="M91.7,489.8 h3.2 M93.3,488.2 v3.2" stroke="#fff" stroke-width="0.75"/>
<circle cx="122.4" cy="490.0" r="2.75" fill="url(#ionP)"/><path d="M120.8,490.0 h3.2 M122.4,488.4 v3.2" stroke="#fff" stroke-width="0.75"/>
<circle cx="149.2" cy="490.0" r="2.75" fill="url(#ionP)"/><path d="M147.6,490.0 h3.2 M149.2,488.4 v3.2" stroke="#fff" stroke-width="0.75"/>
<circle cx="162.9" cy="491.6" r="2.75" fill="url(#ionP)"/><path d="M161.3,491.6 h3.2 M162.9,490.0 v3.2" stroke="#fff" stroke-width="0.75"/>
<circle cx="107.0" cy="494.4" r="2.75" fill="url(#ionP)"/><path d="M105.4,494.4 h3.2 M107.0,492.8 v3.2" stroke="#fff" stroke-width="0.75"/>
<circle cx="135.0" cy="499.0" r="2.75" fill="url(#ionP)"/><path d="M133.4,499.0 h3.2 M135.0,497.4 v3.2" stroke="#fff" stroke-width="0.75"/>
<circle cx="230.1" cy="491.6" r="2.75" fill="url(#ionP)"/><path d="M228.5,491.6 h3.2 M230.1,490.0 v3.2" stroke="#fff" stroke-width="0.75"/>
<circle cx="152.2" cy="506.5" r="2.75" fill="url(#ionP)"/><path d="M150.6,506.5 h3.2 M152.2,504.9 v3.2" stroke="#fff" stroke-width="0.75"/>
<circle cx="165.2" cy="507.7" r="2.75" fill="url(#ionP)"/><path d="M163.6,507.7 h3.2 M165.2,506.1 v3.2" stroke="#fff" stroke-width="0.75"/>
<circle cx="184.7" cy="505.4" r="2.75" fill="url(#ionP)"/><path d="M183.1,505.4 h3.2 M184.7,503.8 v3.2" stroke="#fff" stroke-width="0.75"/>
<circle cx="206.0" cy="504.9" r="2.75" fill="url(#ionP)"/><path d="M204.4,504.9 h3.2 M206.0,503.3 v3.2" stroke="#fff" stroke-width="0.75"/>
<circle cx="233.0" cy="508.8" r="2.75" fill="url(#ionP)"/><path d="M231.4,508.8 h3.2 M233.0,507.2 v3.2" stroke="#fff" stroke-width="0.75"/>
<circle cx="171.6" cy="521.1" r="2.75" fill="url(#ionP)"/><path d="M170.0,521.1 h3.2 M171.6,519.5 v3.2" stroke="#fff" stroke-width="0.75"/>
<circle cx="199.1" cy="521.8" r="2.75" fill="url(#ionP)"/><path d="M197.5,521.8 h3.2 M199.1,520.2 v3.2" stroke="#fff" stroke-width="0.75"/>
<circle cx="181.3" cy="529.1" r="2.75" fill="url(#ionP)"/><path d="M179.7,529.1 h3.2 M181.3,527.5 v3.2" stroke="#fff" stroke-width="0.75"/>
<circle cx="201.9" cy="543.1" r="2.75" fill="url(#ionP)"/><path d="M200.3,543.1 h3.2 M201.9,541.5 v3.2" stroke="#fff" stroke-width="0.75"/>
<circle cx="220.2" cy="542.4" r="2.75" fill="url(#ionP)"/><path d="M218.6,542.4 h3.2 M220.2,540.8 v3.2" stroke="#fff" stroke-width="0.75"/>
<circle cx="241.3" cy="548.8" r="2.75" fill="url(#ionP)"/><path d="M239.7,548.8 h3.2 M241.3,547.2 v3.2" stroke="#fff" stroke-width="0.75"/>
<circle cx="193.9" cy="560.0" r="2.75" fill="url(#ionP)"/><path d="M192.3,560.0 h3.2 M193.9,558.4 v3.2" stroke="#fff" stroke-width="0.75"/>
<circle cx="209.4" cy="564.6" r="2.75" fill="url(#ionP)"/><path d="M207.8,564.6 h3.2 M209.4,563.0 v3.2" stroke="#fff" stroke-width="0.75"/>
<circle cx="226.6" cy="573.8" r="2.75" fill="url(#ionP)"/><path d="M225.0,573.8 h3.2 M226.6,572.2 v3.2" stroke="#fff" stroke-width="0.75"/>
<circle cx="192.3" cy="579.0" r="2.75" fill="url(#ionP)"/><path d="M190.7,579.0 h3.2 M192.3,577.4 v3.2" stroke="#fff" stroke-width="0.75"/>
<circle cx="196.8" cy="592.8" r="2.75" fill="url(#ionP)"/><path d="M195.2,592.8 h3.2 M196.8,591.2 v3.2" stroke="#fff" stroke-width="0.75"/>
<circle cx="222.7" cy="596.2" r="2.75" fill="url(#ionP)"/><path d="M221.1,596.2 h3.2 M222.7,594.6 v3.2" stroke="#fff" stroke-width="0.75"/>
<circle cx="250.2" cy="591.6" r="2.75" fill="url(#ionP)"/><path d="M248.6,591.6 h3.2 M250.2,590.0 v3.2" stroke="#fff" stroke-width="0.75"/>
<circle cx="194.5" cy="606.1" r="2.75" fill="url(#ionP)"/><path d="M192.9,606.1 h3.2 M194.5,604.5 v3.2" stroke="#fff" stroke-width="0.75"/>
<circle cx="212.2" cy="609.0" r="2.75" fill="url(#ionP)"/><path d="M210.6,609.0 h3.2 M212.2,607.4 v3.2" stroke="#fff" stroke-width="0.75"/>
<circle cx="200.7" cy="626.5" r="2.75" fill="url(#ionP)"/><path d="M199.1,626.5 h3.2 M200.7,624.9 v3.2" stroke="#fff" stroke-width="0.75"/>
<circle cx="235.3" cy="634.0" r="2.75" fill="url(#ionP)"/><path d="M233.7,634.0 h3.2 M235.3,632.4 v3.2" stroke="#fff" stroke-width="0.75"/>
<circle cx="231.9" cy="534.4" r="2.75" fill="url(#ionM)"/><path d="M230.3,534.4 h3.2" stroke="#fff" stroke-width="0.75"/>
<circle cx="252.3" cy="529.8" r="2.75" fill="url(#ionM)"/><path d="M250.7,529.8 h3.2" stroke="#fff" stroke-width="0.75"/>
<circle cx="223.2" cy="555.4" r="2.75" fill="url(#ionM)"/><path d="M221.6,555.4 h3.2" stroke="#fff" stroke-width="0.75"/>
<circle cx="253.4" cy="564.4" r="2.75" fill="url(#ionM)"/><path d="M251.8,564.4 h3.2" stroke="#fff" stroke-width="0.75"/>
<circle cx="236.2" cy="580.2" r="2.75" fill="url(#ionM)"/><path d="M234.6,580.2 h3.2" stroke="#fff" stroke-width="0.75"/>
<circle cx="212.4" cy="587.7" r="2.75" fill="url(#ionM)"/><path d="M210.8,587.7 h3.2" stroke="#fff" stroke-width="0.75"/>
<circle cx="251.4" cy="606.5" r="2.75" fill="url(#ionM)"/><path d="M249.8,606.5 h3.2" stroke="#fff" stroke-width="0.75"/>
<circle cx="230.7" cy="619.6" r="2.75" fill="url(#ionM)"/><path d="M229.1,619.6 h3.2" stroke="#fff" stroke-width="0.75"/>
<circle cx="256.4" cy="631.0" r="2.75" fill="url(#ionM)"/><path d="M254.8,631.0 h3.2" stroke="#fff" stroke-width="0.75"/>
<circle cx="248.2" cy="648.0" r="2.75" fill="url(#ionP)"/><path d="M246.6,648.0 h3.2 M248.2,646.4 v3.2" stroke="#fff" stroke-width="0.75"/>
<circle cx="196.5" cy="651.0" r="2.75" fill="url(#ionP)"/><path d="M194.9,651.0 h3.2 M196.5,649.4 v3.2" stroke="#fff" stroke-width="0.75"/>
<circle cx="224.8" cy="651.3" r="2.75" fill="url(#ionP)"/><path d="M223.2,651.3 h3.2 M224.8,649.7 v3.2" stroke="#fff" stroke-width="0.75"/>
<circle cx="215.1" cy="667.6" r="2.75" fill="url(#ionP)"/><path d="M213.5,667.6 h3.2 M215.1,666.0 v3.2" stroke="#fff" stroke-width="0.75"/>
<circle cx="245.6" cy="679.0" r="2.75" fill="url(#ionP)"/><path d="M244.0,679.0 h3.2 M245.6,677.4 v3.2" stroke="#fff" stroke-width="0.75"/>
<circle cx="258.4" cy="670.9" r="2.75" fill="url(#ionP)"/><path d="M256.8,670.9 h3.2 M258.4,669.3 v3.2" stroke="#fff" stroke-width="0.75"/>
<circle cx="213.1" cy="642.6" r="2.75" fill="url(#ionM)"/><path d="M211.5,642.6 h3.2" stroke="#fff" stroke-width="0.75"/>
<circle cx="240.3" cy="663.0" r="2.75" fill="url(#ionM)"/><path d="M238.7,663.0 h3.2" stroke="#fff" stroke-width="0.75"/>
<circle cx="97.4" cy="501.7" r="2.75" fill="url(#ionP)"/><path d="M95.8,501.7 h3.2 M97.4,500.1 v3.2" stroke="#fff" stroke-width="0.75"/>
<circle cx="104.0" cy="502.2" r="2.75" fill="url(#ionP)"/><path d="M102.4,502.2 h3.2 M104.0,500.6 v3.2" stroke="#fff" stroke-width="0.75"/>
<circle cx="110.5" cy="503.2" r="2.75" fill="url(#ionP)"/><path d="M108.9,503.2 h3.2 M110.5,501.6 v3.2" stroke="#fff" stroke-width="0.75"/>
<circle cx="116.9" cy="504.5" r="2.75" fill="url(#ionP)"/><path d="M115.3,504.5 h3.2 M116.9,502.9 v3.2" stroke="#fff" stroke-width="0.75"/>
<circle cx="123.1" cy="506.1" r="2.75" fill="url(#ionP)"/><path d="M121.5,506.1 h3.2 M123.1,504.5 v3.2" stroke="#fff" stroke-width="0.75"/>
<circle cx="129.2" cy="508.1" r="2.75" fill="url(#ionP)"/><path d="M127.6,508.1 h3.2 M129.2,506.5 v3.2" stroke="#fff" stroke-width="0.75"/>
<circle cx="135.5" cy="510.6" r="2.75" fill="url(#ionP)"/><path d="M133.9,510.6 h3.2 M135.5,509.0 v3.2" stroke="#fff" stroke-width="0.75"/>
<circle cx="141.5" cy="513.4" r="2.75" fill="url(#ionP)"/><path d="M139.9,513.4 h3.2 M141.5,511.8 v3.2" stroke="#fff" stroke-width="0.75"/>
<circle cx="147.2" cy="516.6" r="2.75" fill="url(#ionP)"/><path d="M145.6,516.6 h3.2 M147.2,515.0 v3.2" stroke="#fff" stroke-width="0.75"/>
<circle cx="152.6" cy="520.1" r="2.75" fill="url(#ionP)"/><path d="M151.0,520.1 h3.2 M152.6,518.5 v3.2" stroke="#fff" stroke-width="0.75"/>
<circle cx="157.9" cy="524.2" r="2.75" fill="url(#ionP)"/><path d="M156.3,524.2 h3.2 M157.9,522.6 v3.2" stroke="#fff" stroke-width="0.75"/>
<circle cx="162.8" cy="528.5" r="2.75" fill="url(#ionP)"/><path d="M161.2,528.5 h3.2 M162.8,526.9 v3.2" stroke="#fff" stroke-width="0.75"/>
<circle cx="167.2" cy="533.2" r="2.75" fill="url(#ionP)"/><path d="M165.6,533.2 h3.2 M167.2,531.6 v3.2" stroke="#fff" stroke-width="0.75"/>
<circle cx="171.4" cy="538.3" r="2.75" fill="url(#ionP)"/><path d="M169.8,538.3 h3.2 M171.4,536.7 v3.2" stroke="#fff" stroke-width="0.75"/>
<circle cx="175.0" cy="543.8" r="2.75" fill="url(#ionP)"/><path d="M173.4,543.8 h3.2 M175.0,542.2 v3.2" stroke="#fff" stroke-width="0.75"/>
<circle cx="178.0" cy="549.4" r="2.75" fill="url(#ionP)"/><path d="M176.4,549.4 h3.2 M178.0,547.8 v3.2" stroke="#fff" stroke-width="0.75"/>
<circle cx="180.6" cy="555.5" r="2.75" fill="url(#ionP)"/><path d="M179.0,555.5 h3.2 M180.6,553.9 v3.2" stroke="#fff" stroke-width="0.75"/>
<circle cx="182.5" cy="561.8" r="2.75" fill="url(#ionP)"/><path d="M180.9,561.8 h3.2 M182.5,560.2 v3.2" stroke="#fff" stroke-width="0.75"/>
<circle cx="183.7" cy="568.1" r="2.75" fill="url(#ionP)"/><path d="M182.1,568.1 h3.2 M183.7,566.5 v3.2" stroke="#fff" stroke-width="0.75"/>
<circle cx="184.2" cy="574.5" r="2.75" fill="url(#ionP)"/><path d="M182.6,574.5 h3.2 M184.2,572.9 v3.2" stroke="#fff" stroke-width="0.75"/>
<circle cx="184.2" cy="581.0" r="2.75" fill="url(#ionP)"/><path d="M182.6,581.0 h3.2 M184.2,579.4 v3.2" stroke="#fff" stroke-width="0.75"/>
<circle cx="184.2" cy="589.0" r="2.75" fill="url(#ionP)"/><path d="M182.6,589.0 h3.2 M184.2,587.4 v3.2" stroke="#fff" stroke-width="0.75"/>
<circle cx="184.2" cy="597.0" r="2.75" fill="url(#ionP)"/><path d="M182.6,597.0 h3.2 M184.2,595.4 v3.2" stroke="#fff" stroke-width="0.75"/>
<circle cx="184.2" cy="604.0" r="2.75" fill="url(#ionP)"/><path d="M182.6,604.0 h3.2 M184.2,602.4 v3.2" stroke="#fff" stroke-width="0.75"/>
<circle cx="184.2" cy="611.5" r="2.75" fill="url(#ionP)"/><path d="M182.6,611.5 h3.2 M184.2,609.9 v3.2" stroke="#fff" stroke-width="0.75"/>
<circle cx="184.2" cy="618.5" r="2.75" fill="url(#ionP)"/><path d="M182.6,618.5 h3.2 M184.2,616.9 v3.2" stroke="#fff" stroke-width="0.75"/>
<circle cx="186.5" cy="634.0" r="2.75" fill="url(#ionP)"/><path d="M184.9,634.0 h3.2 M186.5,632.4 v3.2" stroke="#fff" stroke-width="0.75"/>
<circle cx="93.4" cy="501.5" r="2.5" fill="url(#ionP)"/><path d="M91.8,501.5 h3.2 M93.4,499.9 v3.2" stroke="#fff" stroke-width="0.75"/>
<path d="M93.2,524.6 h3.2 M94.8,523.0 v3.2" stroke="#e8303a" stroke-width="0.8"/>
<path d="M92.8,531.0 L96.0,531.2" stroke="#e8303a" stroke-width="0.8"/>
<path d="M101.2,525.3 h3.2 M102.8,523.7 v3.2" stroke="#e8303a" stroke-width="0.8"/>
<path d="M100.0,531.4 L103.2,532.0" stroke="#e8303a" stroke-width="0.8"/>
<path d="M109.0,526.8 h3.2 M110.6,525.2 v3.2" stroke="#e8303a" stroke-width="0.8"/>
<path d="M107.1,532.6 L110.2,533.5" stroke="#e8303a" stroke-width="0.8"/>
<path d="M116.5,529.0 h3.2 M118.1,527.4 v3.2" stroke="#e8303a" stroke-width="0.8"/>
<path d="M114.0,534.3 L116.9,535.6" stroke="#e8303a" stroke-width="0.8"/>
<path d="M123.6,531.9 h3.2 M125.2,530.3 v3.2" stroke="#e8303a" stroke-width="0.8"/>
<path d="M120.5,536.7 L123.2,538.3" stroke="#e8303a" stroke-width="0.8"/>
<path d="M130.2,535.5 h3.2 M131.8,533.9 v3.2" stroke="#e8303a" stroke-width="0.8"/>
<path d="M126.5,539.6 L129.1,541.6" stroke="#e8303a" stroke-width="0.8"/>
<path d="M136.2,539.6 h3.2 M137.8,538.0 v3.2" stroke="#e8303a" stroke-width="0.8"/>
<path d="M132.1,543.0 L134.4,545.3" stroke="#e8303a" stroke-width="0.8"/>
<path d="M141.5,544.2 h3.2 M143.1,542.6 v3.2" stroke="#e8303a" stroke-width="0.8"/>
<path d="M137.0,547.0 L139.0,549.5" stroke="#e8303a" stroke-width="0.8"/>
<path d="M146.1,549.4 h3.2 M147.7,547.8 v3.2" stroke="#e8303a" stroke-width="0.8"/>
<path d="M141.3,551.4 L143.0,554.1" stroke="#e8303a" stroke-width="0.8"/>
<path d="M149.8,554.9 h3.2 M151.4,553.3 v3.2" stroke="#e8303a" stroke-width="0.8"/>
<path d="M144.9,556.1 L146.2,559.0" stroke="#e8303a" stroke-width="0.8"/>
<path d="M152.7,560.7 h3.2 M154.3,559.1 v3.2" stroke="#e8303a" stroke-width="0.8"/>
<path d="M147.6,561.1 L148.6,564.1" stroke="#e8303a" stroke-width="0.8"/>
<path d="M154.6,566.7 h3.2 M156.2,565.1 v3.2" stroke="#e8303a" stroke-width="0.8"/>
<path d="M149.5,566.3 L150.1,569.5" stroke="#e8303a" stroke-width="0.8"/>
<path d="M155.6,572.9 h3.2 M157.2,571.3 v3.2" stroke="#e8303a" stroke-width="0.8"/>
<path d="M150.6,571.7 L150.8,574.9" stroke="#e8303a" stroke-width="0.8"/>
<path d="M154.0,576.0 h3.2 M155.6,574.4 v3.2" stroke="#e8303a" stroke-width="0.8"/>
<path d="M148.6,576 h3.2" stroke="#e8303a" stroke-width="0.9"/>
<path d="M154.0,583.5 h3.2 M155.6,581.9 v3.2" stroke="#e8303a" stroke-width="0.8"/>
<path d="M148.6,583.5 h3.2" stroke="#e8303a" stroke-width="0.9"/>
<path d="M154.0,591.0 h3.2 M155.6,589.4 v3.2" stroke="#e8303a" stroke-width="0.8"/>
<path d="M148.6,591 h3.2" stroke="#e8303a" stroke-width="0.9"/>
<path d="M154.0,598.5 h3.2 M155.6,596.9 v3.2" stroke="#e8303a" stroke-width="0.8"/>
<path d="M148.6,598.5 h3.2" stroke="#e8303a" stroke-width="0.9"/>
<path d="M154.0,607.0 h3.2 M155.6,605.4 v3.2" stroke="#e8303a" stroke-width="0.8"/>
<path d="M148.6,607 h3.2" stroke="#e8303a" stroke-width="0.9"/>
<path d="M154.0,617.0 h3.2 M155.6,615.4 v3.2" stroke="#e8303a" stroke-width="0.8"/>
<path d="M148.6,617 h3.2" stroke="#e8303a" stroke-width="0.9"/>
<path d="M154.0,626.5 h3.2 M155.6,624.9 v3.2" stroke="#e8303a" stroke-width="0.8"/>
<path d="M148.6,626.5 h3.2" stroke="#e8303a" stroke-width="0.9"/>
<path d="M154.0,636.0 h3.2 M155.6,634.4 v3.2" stroke="#e8303a" stroke-width="0.8"/>
<path d="M148.6,636 h3.2" stroke="#e8303a" stroke-width="0.9"/>
<path d="M154.0,648.0 h3.2 M155.6,646.4 v3.2" stroke="#e8303a" stroke-width="0.8"/>
<path d="M148.6,648 h3.2" stroke="#e8303a" stroke-width="0.9"/>
<path d="M154.0,672.0 h3.2 M155.6,670.4 v3.2" stroke="#e8303a" stroke-width="0.8"/>
<path d="M148.6,672 h3.2" stroke="#e8303a" stroke-width="0.9"/>
<path d="M154.0,704.0 h3.2 M155.6,702.4 v3.2" stroke="#e8303a" stroke-width="0.8"/>
<path d="M148.6,704 h3.2" stroke="#e8303a" stroke-width="0.9"/>
<path d="M154.0,741.0 h3.2 M155.6,739.4 v3.2" stroke="#e8303a" stroke-width="0.8"/>
<path d="M148.6,741 h3.2" stroke="#e8303a" stroke-width="0.9"/>
<path d="M94.9,507.5 L98.1,507.8" stroke="#8e2fb0" stroke-width="1.1"/>
<path d="M106.3,508.5 L109.4,509.1" stroke="#8e2fb0" stroke-width="1.1"/>
<path d="M117.4,510.6 L120.4,511.6" stroke="#8e2fb0" stroke-width="1.1"/>
<path d="M128.1,513.9 L130.9,515.3" stroke="#8e2fb0" stroke-width="1.1"/>
<path d="M138.1,518.2 L140.7,519.9" stroke="#8e2fb0" stroke-width="1.1"/>
<path d="M147.3,523.4 L149.7,525.6" stroke="#8e2fb0" stroke-width="1.1"/>
<path d="M155.5,529.6 L157.6,532.0" stroke="#8e2fb0" stroke-width="1.1"/>
<path d="M162.7,536.6 L164.4,539.3" stroke="#8e2fb0" stroke-width="1.1"/>
<path d="M168.6,544.3 L170.0,547.1" stroke="#8e2fb0" stroke-width="1.1"/>
<path d="M173.1,552.5 L174.2,555.5" stroke="#8e2fb0" stroke-width="1.1"/>
<path d="M176.3,561.1 L176.9,564.2" stroke="#8e2fb0" stroke-width="1.1"/>
<path d="M178.0,569.9 L178.2,573.1" stroke="#8e2fb0" stroke-width="1.1"/>
<path d="M176.6,565 h3.2" stroke="#8e2fb0" stroke-width="1.1"/>
<path d="M176.6,573 h3.2" stroke="#8e2fb0" stroke-width="1.1"/>
<path d="M176.6,580 h3.2" stroke="#8e2fb0" stroke-width="1.1"/>
<path d="M176.6,589 h3.2" stroke="#8e2fb0" stroke-width="1.1"/>
<path d="M176.6,596 h3.2" stroke="#8e2fb0" stroke-width="1.1"/>
<path d="M176.6,603 h3.2" stroke="#8e2fb0" stroke-width="1.1"/>
<path d="M176.6,610 h3.2" stroke="#8e2fb0" stroke-width="1.1"/>
<path d="M176.6,618.5 h3.2" stroke="#8e2fb0" stroke-width="1.1"/>
<path d="M176.6,632 h3.2" stroke="#8e2fb0" stroke-width="1.1"/>
<path d="M176.6,661 h3.2" stroke="#8e2fb0" stroke-width="1.1"/>
<path d="M176.6,702.5 h3.2" stroke="#8e2fb0" stroke-width="1.1"/>
<path d="M176.6,740 h3.2" stroke="#8e2fb0" stroke-width="1.1"/>
<path d="M150.6,564.8 L159,561.5 M161.5,560.5 L175,555.6" stroke="#1a1a1a" stroke-width="0.9"/>
<path d="M157.3,557.3 L160.7,565.7 M159.8,556.3 L163.2,564.7" stroke="#1a1a1a" stroke-width="1"/>
<path d="M157.6,570.5 L172.5,569.5 L173.2,593.5 L158.5,594.5z" fill="#fff"/>
<g transform="translate(161,570.8) rotate(88)"><text x="0" y="0" font-size="11.6" fill="#222">C</text><text x="9.6" y="1.8" font-size="7" fill="#222" textLength="12.6" lengthAdjust="spacingAndGlyphs">d,ct</text></g>
<rect x="143.5" y="609" width="51.8" height="29.5" fill="none" stroke="#1f6fb5" stroke-width="1.3"/>
<line x1="153" y1="621.3" x2="180" y2="621.3" stroke="#111" stroke-width="1" stroke-dasharray="1.8,1.4"/>
<path d="M195.3,621.8 C215,618 235,610 255,595 C275,580 295,562 326.3,558.2" fill="none" stroke="#1f78c8" stroke-width="1.1" stroke-dasharray="2.8,2"/>
<path d="M154,712.4 L175,712.4 C190,712 198,705 204,699 M207.5,695.5 C212,690 216,682 218,673" fill="none" stroke="#1a1a1a" stroke-width="0.9"/>
<path d="M200.2,694.6 L207.4,702.4 M203.3,691.7 L210.5,699.5" stroke="#1a1a1a" stroke-width="1.2"/>
<text x="213.3" y="710.9" font-size="11.8" font-style="italic" fill="#161414" stroke="#161414" stroke-width="0.2">C</text>
<text x="221.8" y="713.9" font-size="7.4" fill="#161414" stroke="#161414" stroke-width="0.22" textLength="18.2" lengthAdjust="spacingAndGlyphs" >d+air</text>
<path d="M91,429.6 L25.5,429.6 L25.5,548.6 M25.5,580.6 L25.5,750.9 L149.8,750.9 L149.8,743.5" fill="none" stroke="#1a1a1a" stroke-width="1.3"/>
<circle cx="25.5" cy="564.6" r="16" fill="#fff" stroke="#1a1a1a" stroke-width="1.3"/>
<path d="M18.6,567 C19.8,561.8 23,561.6 25.5,564.6 C28,567.6 31.2,567.4 32.4,562.2" fill="none" stroke="#111" stroke-width="2.6" stroke-linecap="round"/>
<text x="120.4" y="416.0" font-size="11" fill="#161414" stroke="#161414" stroke-width="0.22" textLength="91.0" lengthAdjust="spacingAndGlyphs" >Counterelectrode</text>
<path d="M217.5,412.6 C228,412 234,418 236.5,427.5" fill="none" stroke="#1a1a1a" stroke-width="0.8"/>
<text x="47" y="463.6" font-size="11.2" font-style="italic" fill="#161414" stroke="#161414" stroke-width="0.2">C</text>
<text x="55.4" y="468.1" font-size="8.6" fill="#161414" stroke="#161414" stroke-width="0.22" textLength="27.9" lengthAdjust="spacingAndGlyphs" >counter</text>
<path d="M65,452.7 C70,444 78,441 91,440.8" fill="none" stroke="#1a1a1a" stroke-width="0.8"/>
<text x="47" y="523.5" font-size="11.2" font-style="italic" fill="#161414" stroke="#161414" stroke-width="0.2">C</text>
<text x="55.4" y="528.0" font-size="7.8" fill="#161414" stroke="#161414" stroke-width="0.22" textLength="23.1" lengthAdjust="spacingAndGlyphs" >EDL,ct</text>
<path d="M68.2,512.3 C72,506 80,504 91,503.6" fill="none" stroke="#1a1a1a" stroke-width="0.8"/>
<text x="92.5" y="605.8" font-size="10.3" fill="#161414" stroke="#161414" stroke-width="0.22" textLength="41.9" lengthAdjust="spacingAndGlyphs" >Working</text>
<text x="92.5" y="618.3" font-size="10.3" fill="#161414" stroke="#161414" stroke-width="0.22" textLength="48.6" lengthAdjust="spacingAndGlyphs" >electrode</text>
<path d="M109.8,590.5 C118,582 132,577 145.3,575.6" fill="none" stroke="#1a1a1a" stroke-width="0.8"/>
<text transform="translate(62.4,731.2) rotate(-90)" font-size="12" fill="#161414" stroke="#161414" stroke-width="0.22" textLength="86.9" lengthAdjust="spacingAndGlyphs">Solid structure</text>
<path d="M68,690 C75,686 85,685 93,685" fill="none" stroke="#1a1a1a" stroke-width="0.8"/>
<text x="224.0" y="739.3" font-size="12" fill="#161414" stroke="#161414" stroke-width="0.22" textLength="16.7" lengthAdjust="spacingAndGlyphs" >Air</text>
<text x="81.6" y="776.3" font-size="12" fill="#161414" stroke="#161414" stroke-width="0.22" textLength="190.4" lengthAdjust="spacingAndGlyphs" >Dielectric layer (surface coating)</text>
<path d="M165,729 C185,730 200,745 205,761" fill="none" stroke="#1a1a1a" stroke-width="0.8"/>
<rect x="331" y="397.3" width="241.7" height="364.4" fill="none" stroke="#1f6fb5" stroke-width="1.5"/>
<path d="M537.8,437.8 L550.9,456.5 L544.2,456.5 L544.2,691.1 L531.4,691.1 L531.4,456.5 L524.6,456.5z" fill="url(#yarrow)" stroke="#d8d090" stroke-width="0.6"/>
<text x="510.2" y="418.9" font-size="10.3" fill="#161414" stroke="#161414" stroke-width="0.22" textLength="58.1" lengthAdjust="spacingAndGlyphs" >Frictionless</text>
<text x="521.7" y="431.1" font-size="10.3" fill="#161414" stroke="#161414" stroke-width="0.22" textLength="33.7" lengthAdjust="spacingAndGlyphs" >sliding</text>
<text x="519.8" y="704.0" font-size="10.3" fill="#161414" stroke="#161414" stroke-width="0.22" textLength="35.1" lengthAdjust="spacingAndGlyphs" >Strong</text>
<text x="518.3" y="716.6" font-size="10.3" fill="#161414" stroke="#161414" stroke-width="0.22" textLength="38.3" lengthAdjust="spacingAndGlyphs" >pinning</text>
<rect x="345.1" y="436.7" width="166.6" height="40" fill="#f7cfd4"/>
<path d="M345.1,408 L474.8,408 L469.6,436.7 L345.1,436.7z" fill="url(#liqS)"/>
<path d="M345.7,475 C347.5,449.9 350.8,441.5 357.0,441.5 C363.2,441.5 366.5,449.9 368.3,475z" fill="none" stroke="#ecb6c0" stroke-width="3.5" opacity="0.85"/>
<path d="M345.7,475 C347.5,449.9 350.8,441.5 357.0,441.5 C363.2,441.5 366.5,449.9 368.3,475z" fill="#4fb985" stroke="#e8a830" stroke-width="1.6"/>
<path d="M369.5,475 C371.3,449.9 374.6,441.5 380.8,441.5 C387.0,441.5 390.3,449.9 392.1,475z" fill="none" stroke="#ecb6c0" stroke-width="3.5" opacity="0.85"/>
<path d="M369.5,475 C371.3,449.9 374.6,441.5 380.8,441.5 C387.0,441.5 390.3,449.9 392.1,475z" fill="#4fb985" stroke="#e8a830" stroke-width="1.6"/>
<path d="M393.3,475 C395.1,449.9 398.4,441.5 404.6,441.5 C410.8,441.5 414.1,449.9 415.9,475z" fill="none" stroke="#ecb6c0" stroke-width="3.5" opacity="0.85"/>
<path d="M393.3,475 C395.1,449.9 398.4,441.5 404.6,441.5 C410.8,441.5 414.1,449.9 415.9,475z" fill="#4fb985" stroke="#e8a830" stroke-width="1.6"/>
<path d="M417.1,475 C418.9,449.9 422.2,441.5 428.4,441.5 C434.6,441.5 437.9,449.9 439.7,475z" fill="none" stroke="#ecb6c0" stroke-width="3.5" opacity="0.85"/>
<path d="M417.1,475 C418.9,449.9 422.2,441.5 428.4,441.5 C434.6,441.5 437.9,449.9 439.7,475z" fill="#4fb985" stroke="#e8a830" stroke-width="1.6"/>
<path d="M440.9,475 C442.7,449.9 446.0,441.5 452.2,441.5 C458.4,441.5 461.7,449.9 463.5,475z" fill="none" stroke="#ecb6c0" stroke-width="3.5" opacity="0.85"/>
<path d="M440.9,475 C442.7,449.9 446.0,441.5 452.2,441.5 C458.4,441.5 461.7,449.9 463.5,475z" fill="#4fb985" stroke="#e8a830" stroke-width="1.6"/>
<path d="M464.7,475 C466.5,449.9 469.8,441.5 476.0,441.5 C482.2,441.5 485.5,449.9 487.3,475z" fill="none" stroke="#ecb6c0" stroke-width="3.5" opacity="0.85"/>
<path d="M464.7,475 C466.5,449.9 469.8,441.5 476.0,441.5 C482.2,441.5 485.5,449.9 487.3,475z" fill="#4fb985" stroke="#e8a830" stroke-width="1.6"/>
<path d="M488.5,475 C490.3,449.9 493.6,441.5 499.8,441.5 C506.0,441.5 509.3,449.9 511.1,475z" fill="none" stroke="#ecb6c0" stroke-width="3.5" opacity="0.85"/>
<path d="M488.5,475 C490.3,449.9 493.6,441.5 499.8,441.5 C506.0,441.5 509.3,449.9 511.1,475z" fill="#4fb985" stroke="#e8a830" stroke-width="1.6"/>
<rect x="345.1" y="475" width="166.6" height="8.6" fill="#f5c265"/>
<path d="M469.6,436.7 L478,405" stroke="#111" stroke-width="1" stroke-dasharray="1.4,1.2"/>
<path d="M473.8,404.5 C477,404 479,405 480.5,407" fill="none" stroke="#111" stroke-width="0.8" stroke-dasharray="1,1"/>
<text x="481" y="416.5" font-size="10.8" fill="#161414" stroke="#161414" stroke-width="0.2">Δ<tspan font-style="italic">θ</tspan></text>
<text x="398.2" y="500.1" font-size="10.6" fill="#161414" stroke="#161414" stroke-width="0.22" textLength="45.3" lengthAdjust="spacingAndGlyphs" >Surface I</text>
<path d="M343.5,507.3 L470.6,507.3 L470.6,534.8 L343.5,534.8z" fill="url(#liqS)"/>
<path d="M470.6,534.8 L472.3,501.4 L487.6,504.5z" fill="url(#wedgeG)"/>
<rect x="343.5" y="534.8" width="169.1" height="6.4" fill="url(#odt)"/>
<rect x="343.5" y="541.2" width="169.1" height="9.3" fill="#f5c265"/>
<path d="M470.6,534.8 L472.3,501.4" stroke="#111" stroke-width="1.05" stroke-dasharray="1.4,1.5"/>
<path d="M470.6,534.8 L487.6,504.5" stroke="#111" stroke-width="1.05" stroke-dasharray="1.4,1.5"/>
<path d="M471.8,511 C475,510 478,511 480,513" fill="none" stroke="#111" stroke-width="0.9"/>
<text x="475" y="504" font-size="10.8" fill="#161414" stroke="#161414" stroke-width="0.2">Δ<tspan font-style="italic">θ</tspan></text>
<text x="399.5" y="568.8" font-size="10.6" fill="#161414" stroke="#161414" stroke-width="0.22" textLength="48.2" lengthAdjust="spacingAndGlyphs" >Surface II</text>
<path d="M343.8,576.2 L470.3,576.2 L470.3,614 L343.8,614z" fill="url(#liqS)"/>
<path d="M470.3,608 L472.5,571 C480,572 488,574 494,576.5z" fill="url(#wedgeG)"/>
<path d="M344.3,631.9 C344.6,614.2 348.6,608.3 355.8,608.3 C363.0,608.3 367.0,614.2 367.3,631.9z" fill="none" stroke="#d4d8dc" stroke-width="3" opacity="0.85"/>
<path d="M344.3,631.9 C344.6,614.2 348.6,608.3 355.8,608.3 C363.0,608.3 367.0,614.2 367.3,631.9z" fill="#4fb985" stroke="#e8a830" stroke-width="1.6"/>
<path d="M368.3,631.9 C368.6,614.2 372.6,608.3 379.8,608.3 C387.0,608.3 391.0,614.2 391.3,631.9z" fill="none" stroke="#d4d8dc" stroke-width="3" opacity="0.85"/>
<path d="M368.3,631.9 C368.6,614.2 372.6,608.3 379.8,608.3 C387.0,608.3 391.0,614.2 391.3,631.9z" fill="#4fb985" stroke="#e8a830" stroke-width="1.6"/>
<path d="M392.3,631.9 C392.6,614.2 396.6,608.3 403.8,608.3 C411.0,608.3 415.0,614.2 415.3,631.9z" fill="none" stroke="#d4d8dc" stroke-width="3" opacity="0.85"/>
<path d="M392.3,631.9 C392.6,614.2 396.6,608.3 403.8,608.3 C411.0,608.3 415.0,614.2 415.3,631.9z" fill="#4fb985" stroke="#e8a830" stroke-width="1.6"/>
<path d="M416.3,631.9 C416.6,614.2 420.6,608.3 427.8,608.3 C435.0,608.3 439.0,614.2 439.3,631.9z" fill="none" stroke="#d4d8dc" stroke-width="3" opacity="0.85"/>
<path d="M416.3,631.9 C416.6,614.2 420.6,608.3 427.8,608.3 C435.0,608.3 439.0,614.2 439.3,631.9z" fill="#4fb985" stroke="#e8a830" stroke-width="1.6"/>
<path d="M440.3,631.9 C440.6,614.2 444.6,608.3 451.8,608.3 C459.0,608.3 463.0,614.2 463.3,631.9z" fill="none" stroke="#d4d8dc" stroke-width="3" opacity="0.85"/>
<path d="M440.3,631.9 C440.6,614.2 444.6,608.3 451.8,608.3 C459.0,608.3 463.0,614.2 463.3,631.9z" fill="#4fb985" stroke="#e8a830" stroke-width="1.6"/>
<path d="M464.3,631.9 C464.6,614.2 468.6,608.3 475.8,608.3 C483.0,608.3 487.0,614.2 487.3,631.9z" fill="none" stroke="#d4d8dc" stroke-width="3" opacity="0.85"/>
<path d="M464.3,631.9 C464.6,614.2 468.6,608.3 475.8,608.3 C483.0,608.3 487.0,614.2 487.3,631.9z" fill="#4fb985" stroke="#e8a830" stroke-width="1.6"/>
<path d="M488.3,631.9 C488.6,614.2 492.6,608.3 499.8,608.3 C507.0,608.3 511.0,614.2 511.3,631.9z" fill="none" stroke="#d4d8dc" stroke-width="3" opacity="0.85"/>
<path d="M488.3,631.9 C488.6,614.2 492.6,608.3 499.8,608.3 C507.0,608.3 511.0,614.2 511.3,631.9z" fill="#4fb985" stroke="#e8a830" stroke-width="1.6"/>
<rect x="343.5" y="631.9" width="168.6" height="10.3" fill="#f5c265"/>
<path d="M470.3,608 L472.5,570" stroke="#111" stroke-width="1.05" stroke-dasharray="1.4,1.5"/>
<path d="M470.3,608 L494,575.5" stroke="#111" stroke-width="1.05" stroke-dasharray="1.4,1.5"/>
<path d="M476,579 C479,579.5 481.5,581.5 483,584" fill="none" stroke="#111" stroke-width="1"/>
<text x="479" y="574.5" font-size="10.8" fill="#161414" stroke="#161414" stroke-width="0.2">Δ<tspan font-style="italic">θ</tspan></text>
<text x="398.7" y="658.0" font-size="10.6" fill="#161414" stroke="#161414" stroke-width="0.22" textLength="51.2" lengthAdjust="spacingAndGlyphs" >Surface III</text>
<path d="M343.8,665.3 L459.6,665.3 L457.2,694.2 L457.2,704 L343.8,704z" fill="url(#liqS)"/>
<path d="M457.2,694.2 L461.3,665.3 L498.8,665.3 C490,676 476,686 457.2,694.2z" fill="url(#wedgeG)"/>
<path d="M344.4,731.3 C345.9,704.5 348.8,695.5 354.3,695.5 C359.8,695.5 362.7,704.5 364.2,731.3z" fill="#ffffff" stroke="#d8d8d8" stroke-width="5.5"/>
<path d="M344.4,731.3 C345.9,704.5 348.8,695.5 354.3,695.5 C359.8,695.5 362.7,704.5 364.2,731.3z" fill="none" stroke="#9a9a9a" stroke-width="4.5" stroke-dasharray="0.5,1.2" opacity="0.8"/>
<path d="M365.4,731.3 C366.9,704.5 369.9,695.5 375.3,695.5 C380.8,695.5 383.7,704.5 385.2,731.3z" fill="#ffffff" stroke="#d8d8d8" stroke-width="5.5"/>
<path d="M365.4,731.3 C366.9,704.5 369.9,695.5 375.3,695.5 C380.8,695.5 383.7,704.5 385.2,731.3z" fill="none" stroke="#9a9a9a" stroke-width="4.5" stroke-dasharray="0.5,1.2" opacity="0.8"/>
<path d="M386.5,731.3 C388.0,704.5 390.9,695.5 396.4,695.5 C401.8,695.5 404.8,704.5 406.3,731.3z" fill="#ffffff" stroke="#d8d8d8" stroke-width="5.5"/>
<path d="M386.5,731.3 C388.0,704.5 390.9,695.5 396.4,695.5 C401.8,695.5 404.8,704.5 406.3,731.3z" fill="none" stroke="#9a9a9a" stroke-width="4.5" stroke-dasharray="0.5,1.2" opacity="0.8"/>
<path d="M407.5,731.3 C409.0,704.5 411.9,695.5 417.4,695.5 C422.9,695.5 425.8,704.5 427.3,731.3z" fill="#ffffff" stroke="#d8d8d8" stroke-width="5.5"/>
<path d="M407.5,731.3 C409.0,704.5 411.9,695.5 417.4,695.5 C422.9,695.5 425.8,704.5 427.3,731.3z" fill="none" stroke="#9a9a9a" stroke-width="4.5" stroke-dasharray="0.5,1.2" opacity="0.8"/>
<path d="M428.5,731.3 C430.0,704.5 432.9,695.5 438.4,695.5 C443.9,695.5 446.8,704.5 448.3,731.3z" fill="#ffffff" stroke="#d8d8d8" stroke-width="5.5"/>
<path d="M428.5,731.3 C430.0,704.5 432.9,695.5 438.4,695.5 C443.9,695.5 446.8,704.5 448.3,731.3z" fill="none" stroke="#9a9a9a" stroke-width="4.5" stroke-dasharray="0.5,1.2" opacity="0.8"/>
<path d="M449.5,731.3 C451.0,704.5 454.0,695.5 459.4,695.5 C464.9,695.5 467.8,704.5 469.3,731.3z" fill="#ffffff" stroke="#d8d8d8" stroke-width="5.5"/>
<path d="M449.5,731.3 C451.0,704.5 454.0,695.5 459.4,695.5 C464.9,695.5 467.8,704.5 469.3,731.3z" fill="none" stroke="#9a9a9a" stroke-width="4.5" stroke-dasharray="0.5,1.2" opacity="0.8"/>
<path d="M470.6,731.3 C472.1,704.5 475.0,695.5 480.5,695.5 C485.9,695.5 488.9,704.5 490.4,731.3z" fill="#ffffff" stroke="#d8d8d8" stroke-width="5.5"/>
<path d="M470.6,731.3 C472.1,704.5 475.0,695.5 480.5,695.5 C485.9,695.5 488.9,704.5 490.4,731.3z" fill="none" stroke="#9a9a9a" stroke-width="4.5" stroke-dasharray="0.5,1.2" opacity="0.8"/>
<path d="M491.6,731.3 C493.1,704.5 496.0,695.5 501.5,695.5 C507.0,695.5 509.9,704.5 511.4,731.3z" fill="#ffffff" stroke="#d8d8d8" stroke-width="5.5"/>
<path d="M491.6,731.3 C493.1,704.5 496.0,695.5 501.5,695.5 C507.0,695.5 509.9,704.5 511.4,731.3z" fill="none" stroke="#9a9a9a" stroke-width="4.5" stroke-dasharray="0.5,1.2" opacity="0.8"/>
<path d="M344.4,731.3 C345.9,704.5 348.8,695.5 354.3,695.5 C359.8,695.5 362.7,704.5 364.2,731.3z" fill="#4fb985" stroke="#e0a030" stroke-width="1.2"/>
<path d="M365.4,731.3 C366.9,704.5 369.9,695.5 375.3,695.5 C380.8,695.5 383.7,704.5 385.2,731.3z" fill="#4fb985" stroke="#e0a030" stroke-width="1.2"/>
<path d="M386.5,731.3 C388.0,704.5 390.9,695.5 396.4,695.5 C401.8,695.5 404.8,704.5 406.3,731.3z" fill="#4fb985" stroke="#e0a030" stroke-width="1.2"/>
<path d="M407.5,731.3 C409.0,704.5 411.9,695.5 417.4,695.5 C422.9,695.5 425.8,704.5 427.3,731.3z" fill="#4fb985" stroke="#e0a030" stroke-width="1.2"/>
<path d="M428.5,731.3 C430.0,704.5 432.9,695.5 438.4,695.5 C443.9,695.5 446.8,704.5 448.3,731.3z" fill="#4fb985" stroke="#e0a030" stroke-width="1.2"/>
<path d="M449.5,731.3 C451.0,704.5 454.0,695.5 459.4,695.5 C464.9,695.5 467.8,704.5 469.3,731.3z" fill="#4fb985" stroke="#e0a030" stroke-width="1.2"/>
<path d="M470.6,731.3 C472.1,704.5 475.0,695.5 480.5,695.5 C485.9,695.5 488.9,704.5 490.4,731.3z" fill="#4fb985" stroke="#e0a030" stroke-width="1.2"/>
<path d="M491.6,731.3 C493.1,704.5 496.0,695.5 501.5,695.5 C507.0,695.5 509.9,704.5 511.4,731.3z" fill="#4fb985" stroke="#e0a030" stroke-width="1.2"/>
<rect x="343.5" y="731.3" width="168.6" height="8.2" fill="#f5c265"/>
<path d="M457.2,694.2 L461.3,661.2" stroke="#111" stroke-width="1.05" stroke-dasharray="1.4,1.5"/>
<path d="M457.2,694.2 L500.9,674.6" stroke="#111" stroke-width="1.05" stroke-dasharray="1.4,1.5"/>
<path d="M462.7,673.1 C468,673.5 473.5,677 476.6,681.4" fill="none" stroke="#111" stroke-width="1"/>
<text x="473" y="675.6" font-size="10.8" fill="#161414" stroke="#161414" stroke-width="0.2">Δ<tspan font-style="italic">θ</tspan></text>
<text x="400.3" y="757.5" font-size="10.6" fill="#161414" stroke="#161414" stroke-width="0.22" textLength="52.2" lengthAdjust="spacingAndGlyphs" >Surface IV</text>
<text x="363.6" y="777.0" font-size="10.6" fill="#161414" stroke="#161414" stroke-width="0.22" textLength="175.9" lengthAdjust="spacingAndGlyphs" >Liquid sliding on different surfaces</text>
</svg>
</body></html>
